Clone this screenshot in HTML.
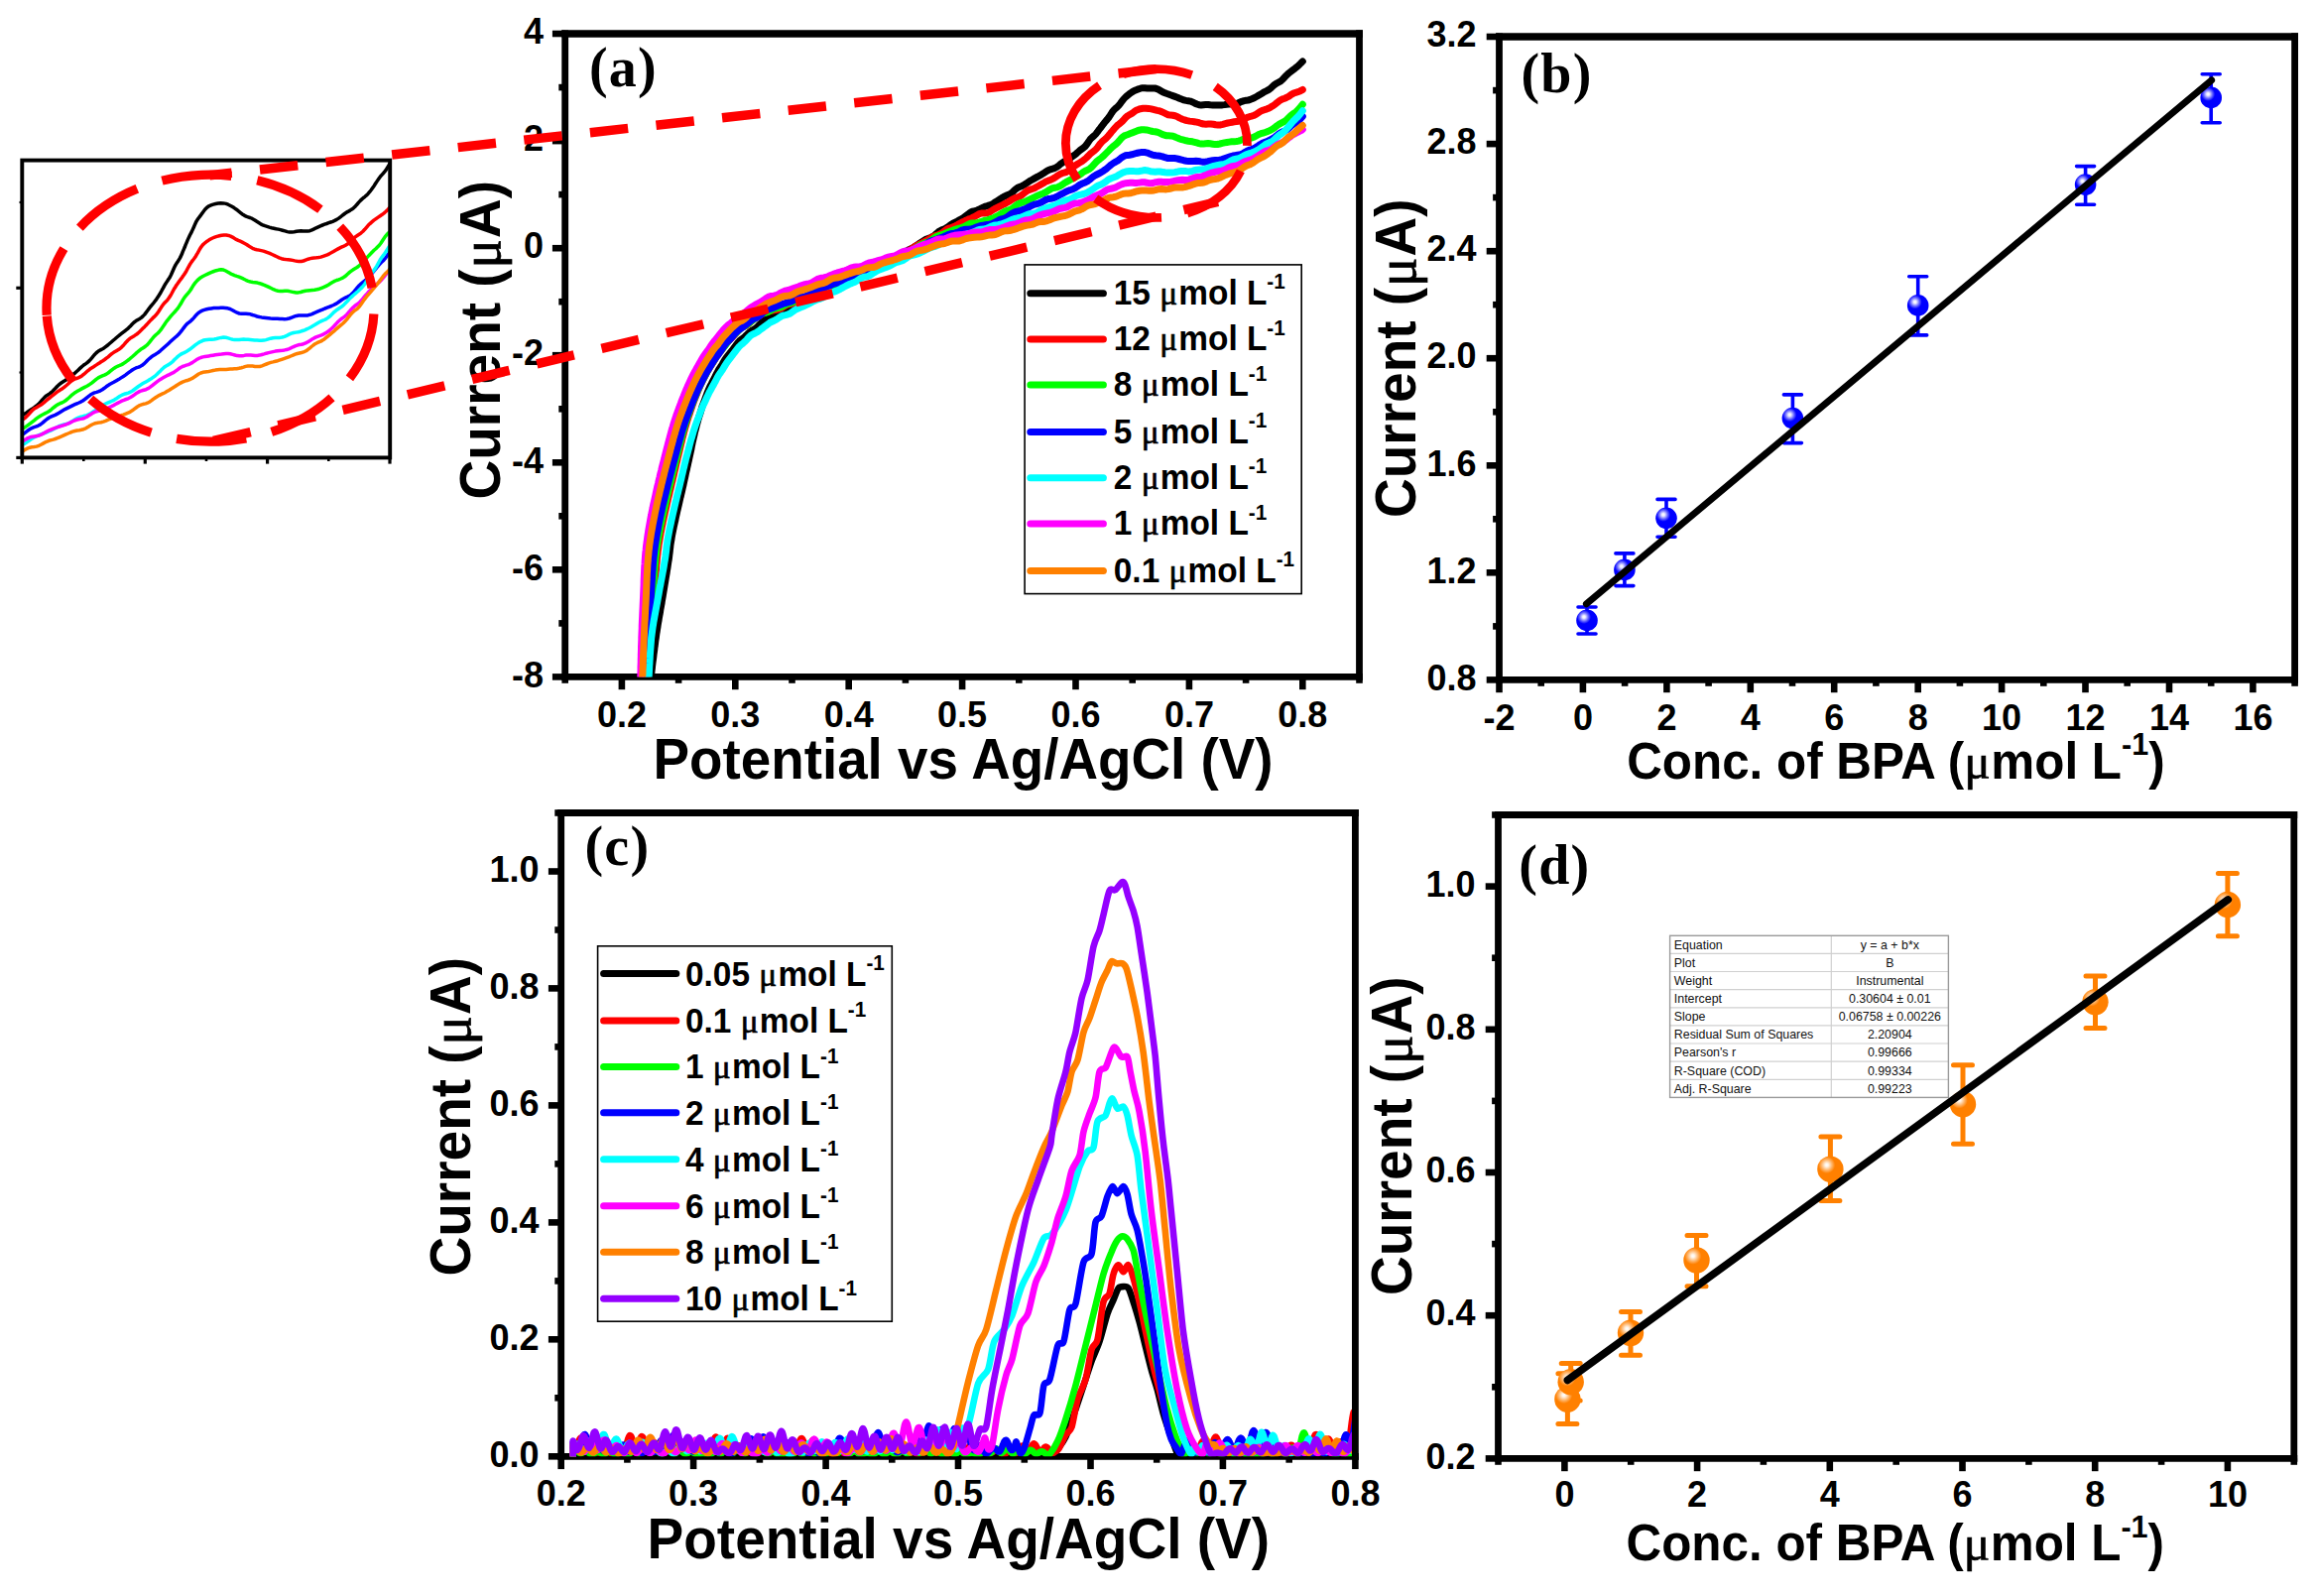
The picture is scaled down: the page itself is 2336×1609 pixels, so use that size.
<!DOCTYPE html>
<html lang="en"><head><meta charset="utf-8"><title>Figure</title>
<style>
html,body{margin:0;padding:0;background:#fff}
svg{display:block}
text{fill:#000}
.mu{font-family:"Liberation Serif",serif;font-weight:normal;stroke:#000;stroke-width:.7px}
.tb text{font-family:"Liberation Sans",sans-serif;font-size:12.4px;font-weight:normal;fill:#111}
</style></head><body>
<svg width="2336" height="1609" viewBox="0 0 2336 1609">
<rect width="2336" height="1609" fill="#fff"/>
<clipPath id="ca"><rect x="569.7" y="34" width="800.8" height="648.4"/></clipPath><g stroke="#000" stroke-width="6.8" fill="none" stroke-linecap="butt"><path d="M569.7 30.6V685.8"/><path d="M566.3 682.4H1373.9"/></g><g stroke="#000" stroke-width="6.6" fill="none"><path d="M626.9 682.4v12.8"/><path d="M741.3 682.4v12.8"/><path d="M855.7 682.4v12.8"/><path d="M970.1 682.4v12.8"/><path d="M1084.5 682.4v12.8"/><path d="M1198.9 682.4v12.8"/><path d="M1313.3 682.4v12.8"/><path d="M569.7 682.4v6.4"/><path d="M684.1 682.4v6.4"/><path d="M798.5 682.4v6.4"/><path d="M912.9 682.4v6.4"/><path d="M1027.3 682.4v6.4"/><path d="M1141.7 682.4v6.4"/><path d="M1256.1 682.4v6.4"/><path d="M1370.5 682.4v6.4"/><path d="M569.7 682.4h-12.8"/><path d="M569.7 574.3h-12.8"/><path d="M569.7 466.3h-12.8"/><path d="M569.7 358.2h-12.8"/><path d="M569.7 250.2h-12.8"/><path d="M569.7 142.1h-12.8"/><path d="M569.7 34h-12.8"/><path d="M569.7 628.4h-6.4"/><path d="M569.7 520.3h-6.4"/><path d="M569.7 412.3h-6.4"/><path d="M569.7 304.2h-6.4"/><path d="M569.7 196.1h-6.4"/><path d="M569.7 88.1h-6.4"/></g><g clip-path="url(#ca)" fill="none" stroke-width="7" stroke-linecap="round" stroke-linejoin="round"><path d="M656.3 682.4L656.5 681.1L656.7 679.6L656.9 677.8L657.1 675.9L657.4 673.8L657.6 671.5L657.9 669.1L658.2 666.6L658.6 664L658.9 661.4L659.2 658.7L659.6 656L659.9 653.3L660.3 650.7L660.6 648.1L660.9 645.6L661.3 643.2L661.6 640.9L661.9 638.6L662.3 636.4L662.6 634.1L663 631.9L663.3 629.6L663.7 627.4L664.1 625.3L664.4 623.1L664.8 620.9L665.2 618.8L665.6 616.6L665.9 614.4L666.3 612.3L666.7 610.1L667.1 608L667.4 605.8L667.8 603.6L668.2 601.3L668.6 598.9L669 596.5L669.4 594.1L669.8 591.6L670.2 589.2L670.6 586.8L671 584.4L671.4 582L671.8 579.6L672.2 577.3L672.5 575.1L672.9 572.9L673.2 570.8L673.5 568.7L673.8 566.8L674.3 563.9L674.6 561.3L674.9 558.9L675.2 556.6L675.4 554.4L675.7 552.3L675.9 550.1L676.2 548L676.6 545.7L677 543.3L677.3 541.3L677.7 539.2L678.1 537.1L678.5 535L679 532.8L679.4 530.7L679.9 528.5L680.4 526.3L680.9 524.1L681.3 521.9L681.8 519.7L682.3 517.4L682.8 515.3L683.3 513.2L683.8 511L684.3 508.9L684.8 506.7L685.3 504.5L685.8 502.2L686.4 500L686.9 497.8L687.4 495.6L687.9 493.4L688.4 491.3L688.9 489.1L689.4 486.8L689.9 484.5L690.4 482.2L690.9 479.9L691.4 477.6L691.9 475.3L692.4 473.1L692.9 470.8L693.4 468.6L693.9 466.3L694.4 464.1L694.9 461.8L695.4 459.5L695.9 457.2L696.4 455L696.9 452.7L697.3 450.3L697.8 448L698.3 445.6L698.8 443.4L699.3 441.3L699.8 439.2L700.2 437.2L700.7 435.2L701.4 432.6L702 430.1L702.6 427.7L703.3 425.3L703.9 423L704.6 420.9L705.2 418.8L705.9 416.8L706.5 414.7L707.3 412.2L708 409.8L708.8 407.6L709.6 405.5L710.4 403.5L711.1 401.4L711.9 399.3L712.7 397.1L713.6 394.8L714.5 392.7L715.4 390.6L716.3 388.7L717.3 386.9L718.2 385.1L719.2 383.2L720.3 381.2L721.3 379.1L722.4 376.9L723.5 374.8L724.6 372.8L725.8 371L727.1 369L728.3 367L729.6 364.7L730.9 362.4L732.3 360.4L733.7 358.7L735.1 357L736.5 355.2L737.9 353.5L739.4 351.5L741 349.5L742.5 347.4L744 345.4L745.5 343.7L747.1 342.3L748.6 341.2L750.6 339.7L752.5 337.9L754.5 335.9L756.6 334.2L758.8 332.8L760.6 331.8L762.6 330.4L764.6 328.4L766.7 326.4L768.7 324.5L770.6 323L772.2 321.7L774 320.4L774.8 319.7L776.4 319L780 317.6L781.4 316.9L783 315.9L784.7 314.7L786.6 313.6L788.6 312.8L790.7 312.2L793 311.6L795.2 310.6L797.6 309.2L799.9 307.9L802.3 306.9L804.7 306.3L807 305.6L809.3 304.8L811.5 303.9L813.7 302.9L815.8 301.7L817.9 300.4L820 299.1L822.1 298.1L824.2 297.6L826.3 297.1L828.4 296.4L830.5 295.3L832.6 294L834.7 292.8L836.8 292L838.9 291.4L841 290.7L843.1 289.7L845.2 288.6L847.3 287.3L849.4 286.2L851.5 285.3L853.6 284.4L855.7 283.7L857.8 283.2L859.9 282.7L862 282.1L864.2 281.1L866.3 279.7L868.4 278.4L870.5 277.4L872.6 276.8L874.7 276.2L876.8 275.4L878.9 274.1L881 272.7L883 271.6L885 270.6L886.9 269.8L888.9 268.9L890.9 267.9L892.9 266.8L894.8 265.5L896.8 264.1L898.8 262.5L900.8 260.8L902.7 259.6L904.7 258.7L906.7 258.1L908.7 257.2L910.6 255.8L912.6 254.2L914.6 252.7L916.6 251.6L918.6 250.7L920.5 249.8L922.5 248.6L924.5 247.2L926.5 245.8L928.5 244.5L930.5 243.2L932.4 242L934.4 241L936.4 240.2L938.4 239.4L940.4 238.5L942.4 237.1L944.3 235.3L946.3 233.6L948.3 232.4L950.3 231.5L952.4 230.7L954.4 229.6L956.6 228.1L958.7 226.5L960.8 225.2L963 224.1L965.1 223L967.2 221.8L969.2 220.7L971.3 219.5L973.2 218.1L975.2 216.6L977 215.2L978.8 214L980.4 213.2L982 212.8L985 212.1L987.4 211.1L989.6 209.9L991.6 208.9L993.5 208.1L995.4 207.6L997.5 206.9L1000 205.9L1001.7 204.9L1003.4 203.8L1005.2 202.7L1007.1 201.5L1009 200.3L1010.9 199L1012.9 197.9L1014.8 197.1L1016.8 196.3L1018.8 195.2L1020.8 193.7L1022.7 191.9L1024.6 190.3L1026.5 189L1028.5 188.2L1030.5 187.4L1032.5 186.4L1034.6 185L1036.6 183.6L1038.6 182.3L1040.6 181.2L1042.5 180.1L1044.3 179.1L1046.1 178.1L1047.7 177.3L1049.2 176.4L1051.9 174.8L1054.1 173.3L1055.9 172.2L1057.6 171.3L1059.7 170.6L1062.3 169.9L1063.9 169.3L1065.7 168.3L1067.5 166.9L1069.5 165.2L1071.5 163.8L1073.6 162.6L1075.7 161.5L1077.8 160.2L1079.8 158.8L1081.7 157.4L1083.6 156.1L1085.3 154.7L1087.2 153L1089 151.4L1090.8 150.1L1092.5 148.9L1094.1 147.5L1095.7 145.5L1097.2 143.3L1098.7 141.1L1100.2 139.3L1101.7 138L1103.3 136.6L1104.8 135.1L1106.3 133.2L1107.7 131.2L1109.2 129.3L1110.6 127.5L1112 125.6L1113.4 123.8L1114.8 122.1L1116.3 120.4L1117.8 118.5L1119.2 116.4L1120.7 114L1122.2 111.8L1123.7 110.2L1125.1 108.9L1126.5 107.8L1127.9 106.4L1129.7 104.1L1131.4 101.7L1133.1 99.6L1134.8 97.9L1136.4 96.5L1138 95.2L1139.4 94.1L1141.6 92.6L1143.5 91.5L1145.4 90.7L1147.6 89.9L1149.7 89.2L1151.9 88.7L1154.2 88.7L1156.6 88.9L1159.1 89L1161.1 89L1163 88.9L1165 89.1L1167.2 89.8L1169.5 91.1L1172.2 92.7L1174 93.5L1176 94.3L1178.1 95L1180.2 95.8L1182.5 96.6L1184.7 97.4L1187 98.2L1189.2 99.2L1191.4 100.1L1193.5 100.9L1195.8 101.4L1198 101.7L1200.2 102.1L1202.3 102.9L1204.4 104L1206.6 105L1208.8 105.7L1211 105.9L1213.2 105.7L1215.5 105.5L1217.9 105.6L1220.3 105.8L1222.7 105.9L1225.1 106L1227.5 106.1L1229.9 106.1L1232.2 105.9L1234.5 105.6L1236.8 105.2L1239 105L1241.2 105.1L1243.3 105.2L1245.5 105L1247.6 104.3L1249.8 103.3L1252 102.3L1254.2 101.6L1256.3 101.3L1258.4 101L1260.6 100.4L1262.7 99.5L1264.9 98.5L1267.1 97.3L1269.2 96L1271.4 94.7L1273.5 93.4L1275.5 92.3L1277.4 91.4L1279.2 90.4L1281.1 89L1282.9 87.3L1284.7 85.6L1286.5 84.3L1288.3 83.4L1290 82.5L1291.8 81.3L1293.5 79.7L1295.2 77.8L1297.2 75.8L1299.2 73.9L1301.3 72.2L1303.4 70.6L1305.5 69.1L1307.4 67.6L1309.2 66L1310.8 64.4L1312.2 63L1313.3 61.9" stroke="#000000"/><path d="M652.8 682.4L652.9 681.2L653 679.7L653.1 678.1L653.2 676.3L653.4 674.3L653.5 672.2L653.7 669.9L653.9 667.6L654 665.1L654.2 662.6L654.4 660.1L654.6 657.5L654.8 655L655 652.4L655.2 649.9L655.4 647.5L655.5 645.1L655.7 642.8L655.9 640.7L656.1 638.4L656.3 636.1L656.5 633.8L656.7 631.6L656.9 629.3L657.1 627.1L657.3 624.9L657.5 622.8L657.7 620.6L657.9 618.4L658.1 616.2L658.3 614.1L658.5 611.9L658.7 609.8L658.9 607.6L659.1 605.4L659.3 603.2L659.5 601L659.7 598.7L659.8 596.4L660 594.1L660.2 591.8L660.3 589.5L660.5 587.2L660.7 584.9L660.8 582.6L661 580.3L661.2 578.1L661.3 575.9L661.5 573.8L661.7 571.7L661.8 569.7L662 567.8L662.2 565.9L662.4 563.2L662.7 560.7L663 558.4L663.2 556.2L663.5 554.1L663.8 552L664 550L664.3 548L664.7 545.9L665 543.8L665.4 541.5L665.8 539.4L666.1 537.3L666.6 535.1L667 532.9L667.4 530.7L667.9 528.5L668.3 526.3L668.8 524.1L669.3 521.8L669.8 519.6L670.3 517.3L670.8 515L671.3 512.9L671.8 510.7L672.3 508.5L672.8 506.3L673.3 504.1L673.8 501.8L674.4 499.6L674.9 497.4L675.4 495.1L676 492.9L676.5 490.7L677 488.5L677.5 486.3L678.1 484L678.6 481.7L679.2 479.4L679.7 477.1L680.2 474.8L680.8 472.5L681.3 470.2L681.8 467.9L682.4 465.7L682.9 463.4L683.4 461.1L684 458.9L684.5 456.6L685.1 454.3L685.6 452L686.2 449.6L686.7 447.3L687.3 445L687.8 442.7L688.4 440.4L689 438.2L689.5 436L690.1 433.9L690.6 431.9L691.4 429.3L692.1 426.8L692.8 424.4L693.6 422.1L694.3 419.8L695.1 417.6L695.8 415.4L696.5 413.2L697.3 411L698.1 408.6L699 406.2L699.8 403.9L700.7 401.7L701.5 399.6L702.4 397.4L703.2 395.3L704.1 393.1L705.1 390.9L706 388.8L707 386.8L708 384.8L709 382.7L710.1 380.6L711.2 378.5L712.3 376.3L713.4 374.2L714.6 372.2L715.7 370.3L717 368.4L718.3 366.4L719.7 364.1L720.9 362.1L722.1 360.1L723.4 358.2L724.7 356.5L726 354.9L727.4 353.2L728.7 351.2L730 349.3L731.3 347.6L733 345.6L734.6 343.8L736.3 342.1L737.9 340.4L739.6 338.6L741.2 336.9L742.8 335L744.7 332.9L746.5 331.2L748.3 330L750.2 329.2L752.1 328.4L754.2 327L755.9 325.5L757.7 323.7L759.5 322.2L761.4 320.9L763.3 319.8L765.2 318.6L767 317.4L768.7 316.3L770.8 315.2L772.4 314.7L774 314.3L776.4 313.7L780 312.8L781.5 312.6L783.1 312.3L784.9 311.9L786.9 311.2L788.9 310L791 308.6L793.2 307.4L795.5 306.7L797.8 306.3L800.1 305.7L802.4 304.7L804.8 303.5L807.1 302.5L809.3 301.6L811.6 300.9L813.7 300.2L815.8 299.4L817.9 298.6L820 297.7L822.1 296.6L824.2 295.2L826.3 293.9L828.4 293L830.5 292.5L832.6 292.2L834.7 291.6L836.8 290.5L838.9 289.2L841 288L843.1 287L845.2 286.3L847.3 285.6L849.4 284.8L851.5 283.8L853.6 282.9L855.7 282L857.8 281.1L859.9 280.2L862 279.5L864.2 279.1L866.3 278.7L868.4 278.2L870.5 277.2L872.6 275.8L874.7 274.4L876.8 273.2L878.9 272.5L881 272L883 271.3L885 270.2L886.9 269L888.9 267.8L890.9 266.7L892.9 265.7L894.8 264.6L896.8 263.5L898.8 262.5L900.8 261.4L902.7 260.1L904.7 258.5L906.7 256.9L908.7 255.6L910.6 254.8L912.6 254.3L914.6 253.7L916.6 252.6L918.6 251.2L920.5 249.7L922.5 248.4L924.5 247.4L926.5 246.4L928.5 245.4L930.5 244.4L932.4 243.3L934.4 242.2L936.4 241.1L938.4 239.9L940.4 238.8L942.4 237.9L944.3 237.3L946.3 236.7L948.3 235.7L950.3 234.4L952.4 232.7L954.4 231.2L956.6 230.1L958.7 229.5L960.8 228.8L963 227.9L965.1 226.8L967.2 225.6L969.2 224.5L971.3 223.5L973.2 222.5L975.2 221.6L977 220.8L978.8 220.2L980.4 219.5L982 218.7L985 217L987.4 215.7L989.6 215L991.6 214.9L993.5 214.9L995.4 214.7L997.5 214L1000 212.4L1001.8 211.2L1003.7 210.1L1005.7 209.1L1007.7 208.1L1009.8 207.1L1011.9 206L1014 205L1016.2 203.8L1018.3 202.5L1020.4 201.1L1022.5 200L1024.6 199.2L1026.7 198.5L1028.8 197.6L1030.9 196.1L1033 194.4L1035.1 192.7L1037.2 191.6L1039.3 190.9L1041.4 190.2L1043.4 189.4L1045.4 188.3L1047.3 187.2L1049.2 186.1L1051.4 184.9L1053.4 183.7L1055.4 182.7L1057.4 181.9L1059.3 181.2L1061.1 180.4L1063 179.4L1064.9 178.1L1066.9 176.7L1068.9 175.5L1070.8 174.7L1072.7 174.2L1074.7 173.6L1076.7 172.5L1078.7 170.9L1080.6 169.3L1082.6 167.8L1084.6 166.5L1086.5 165.3L1088.4 164.1L1090.2 163L1092 161.8L1093.7 160.5L1095.4 159L1097.1 157.3L1098.7 155.6L1100.3 154.2L1101.9 153L1103.5 151.8L1105.1 150.3L1106.7 148.4L1108.2 146.3L1109.8 144.3L1111.3 142.7L1112.8 141.4L1114.3 140.1L1115.8 138.7L1117.3 137.1L1118.8 135.3L1120.2 133.5L1121.7 131.8L1123.2 130L1124.7 128.3L1126.3 126.6L1128.1 125.2L1129.9 123.8L1131.7 122.1L1133.5 120.1L1135.2 118.2L1136.9 116.8L1138.4 115.8L1139.8 115.1L1141.1 114.4L1143.7 112.4L1145.3 111.3L1147.6 110.4L1149.8 109.7L1152.4 109.3L1155.2 109.2L1158 109.4L1160.7 109.9L1162.8 110.4L1164.7 110.9L1166.7 111.4L1168.8 111.8L1171.1 112.6L1173.9 113.9L1175.8 114.8L1177.8 115.7L1180.1 116.1L1182.4 116.3L1184.8 116.8L1187.3 117.8L1189.7 119.1L1192.2 120.2L1194.5 121L1196.8 121.6L1199.3 122.1L1201.7 122.4L1204.1 122.7L1206.5 123.1L1208.9 123.7L1211.2 124.5L1213.5 125.1L1215.9 125.2L1218.1 125.1L1220.7 125L1223.2 125.3L1225.6 125.8L1228.1 126.1L1230.5 125.9L1232.9 125.3L1235.4 124.6L1237.8 124L1240 123.6L1242.2 123.2L1244.3 122.8L1246.5 122.5L1248.6 122.2L1250.8 121.6L1253 120.7L1255.2 119.5L1257.5 118.4L1259.6 117.7L1261.7 117.2L1263.9 116.5L1266.2 115.4L1268.4 113.9L1270.6 112.4L1272.7 111.4L1274.8 110.7L1276.9 110.1L1278.8 109.3L1281.1 108.1L1283.2 106.8L1285.3 105.4L1287.2 103.8L1289.2 102.2L1291.1 100.9L1293.1 99.9L1295.2 99.2L1297.3 98.3L1299.5 97.1L1301.8 95.4L1304.1 94.1L1306.4 93.3L1308.5 92.7L1310.4 92L1312 91.2L1313.3 90.4" stroke="#ff0000"/><path d="M651.8 682.4L651.9 681.2L652 679.7L652.1 678.1L652.3 676.3L652.4 674.3L652.6 672.2L652.7 669.9L652.9 667.5L653.1 665.1L653.3 662.6L653.4 660.1L653.6 657.5L653.8 654.9L654 652.4L654.2 649.9L654.4 647.4L654.6 645.1L654.7 642.8L654.9 640.6L655.1 638.3L655.2 636L655.4 633.8L655.6 631.5L655.8 629.3L655.9 627.1L656.1 624.9L656.3 622.7L656.4 620.5L656.6 618.4L656.8 616.2L656.9 614L657.1 611.9L657.3 609.7L657.5 607.5L657.6 605.3L657.8 603.1L658 600.9L658.1 598.6L658.3 596.4L658.5 594.1L658.6 591.7L658.8 589.4L659 587.1L659.1 584.8L659.3 582.5L659.5 580.2L659.6 578L659.8 575.8L660 573.7L660.1 571.6L660.3 569.6L660.5 567.6L660.7 565.8L660.9 563.1L661.2 560.6L661.5 558.2L661.7 556L662 553.9L662.3 551.8L662.6 549.8L662.9 547.8L663.2 545.7L663.5 543.6L663.9 541.3L664.3 539.2L664.7 537L665.1 534.8L665.5 532.7L665.9 530.5L666.4 528.3L666.9 526L667.3 523.8L667.8 521.5L668.3 519.3L668.8 517L669.3 514.7L669.8 512.5L670.3 510.4L670.8 508.2L671.3 506L671.8 503.7L672.3 501.5L672.9 499.3L673.4 497L673.9 494.8L674.5 492.6L675 490.3L675.5 488.1L676.1 486L676.6 483.6L677.2 481.3L677.7 479L678.3 476.7L678.9 474.4L679.4 472.2L680 469.9L680.6 467.6L681.1 465.4L681.7 463.1L682.3 460.8L682.8 458.6L683.4 456.3L684 454L684.5 451.7L685.1 449.3L685.7 447L686.3 444.7L686.9 442.4L687.4 440.1L688 437.9L688.6 435.8L689.2 433.7L689.8 431.6L690.5 429L691.3 426.6L692.1 424.1L692.8 421.8L693.6 419.5L694.4 417.3L695.2 415.1L695.9 413L696.7 410.9L697.6 408.4L698.5 406.1L699.4 403.8L700.3 401.6L701.2 399.5L702.1 397.4L703 395.2L703.9 393.1L704.9 390.8L705.9 388.6L706.9 386.5L707.8 384.4L708.9 382.5L709.9 380.6L711 378.7L712.1 376.6L713.3 374.4L714.4 372.1L715.6 370L716.9 368.1L718.2 366.1L719.6 363.9L720.8 362L722 360.1L723.3 358.2L724.6 356.4L725.9 354.7L727.3 353L728.6 351.4L730 349.8L731.3 348.2L732.9 346L734.6 343.6L736.2 341.3L737.8 339.5L739.5 338.1L741.1 336.8L742.7 335.3L744.6 333.4L746.4 331.6L748.2 330.2L750.1 329.1L752 328.1L754.1 326.8L755.8 325.4L757.6 323.9L759.5 322.3L761.4 320.7L763.3 319.1L765.2 317.8L767 316.8L768.6 316.2L770.8 315.7L772.3 315.2L774 314.7L776.3 313.5L780 311.5L781.5 311L783.1 310.6L784.9 310.3L786.9 309.7L788.9 308.8L791 307.7L793.2 306.6L795.5 305.8L797.8 305.1L800.1 304.4L802.4 303.7L804.8 303L807.1 302.1L809.3 300.9L811.6 299.5L813.7 298.3L815.8 297.5L817.9 297.1L820 296.7L822.1 296.1L824.2 295L826.3 293.7L828.4 292.7L830.5 291.9L832.6 291.2L834.7 290.5L836.8 289.6L838.9 288.6L841 287.5L843.1 286.5L845.2 285.5L847.3 284.5L849.4 283.8L851.5 283.4L853.6 283.1L855.7 282.6L857.8 281.6L859.9 280.3L862 279.1L864.2 278.2L866.3 277.6L868.4 277.2L870.5 276.6L872.6 275.7L874.7 274.6L876.8 273.6L878.9 272.8L881 271.9L883 271.1L885 270.3L886.9 269.6L888.9 268.7L890.9 267.6L892.9 266.1L894.8 264.6L896.8 263.2L898.8 262.4L900.8 261.8L902.7 261.3L904.7 260.4L906.7 259.1L908.7 257.6L910.6 256.4L912.6 255.4L914.6 254.5L916.6 253.6L918.6 252.5L920.5 251.4L922.5 250.3L924.5 249.1L926.5 247.8L928.5 246.6L930.5 245.7L932.4 245L934.4 244.5L936.4 243.7L938.4 242.5L940.4 241L942.4 239.5L944.3 238.4L946.3 237.7L948.3 237.1L950.4 236.4L952.6 235.5L954.8 234.5L957.1 233.6L959.4 232.7L961.6 231.9L963.9 231.1L966.1 230.5L968.3 229.9L970.5 229.2L972.6 228.3L974.7 227.1L976.7 226L978.5 225.3L980.3 225L982 224.9L985 224.7L987.4 224.1L989.6 223.4L991.6 222.7L993.5 222.2L995.4 221.8L997.5 221.2L1000 220.4L1001.8 219.6L1003.7 218.7L1005.7 217.7L1007.7 216.6L1009.8 215.2L1011.9 213.9L1014 212.8L1016.2 212.1L1018.3 211.4L1020.4 210.2L1022.5 208.6L1024.6 206.9L1026.7 205.6L1028.7 204.7L1030.8 204.1L1032.8 203.5L1034.9 202.6L1036.9 201.6L1039 200.6L1041 199.7L1043.1 198.7L1045.1 197.6L1047.2 196.7L1049.2 195.9L1051.3 195.2L1053.3 194.3L1055.4 193.1L1057.4 191.7L1059.5 190.4L1061.5 189.6L1063.6 189.2L1065.6 188.9L1067.7 188.1L1069.7 187L1071.8 185.6L1073.8 184.2L1075.7 183.1L1077.6 182.1L1079.6 181L1081.5 180L1083.5 179L1085.4 178L1087.4 176.9L1089.3 175.6L1091.2 174.2L1093.1 172.9L1094.9 172L1096.7 171.2L1098.4 170.3L1100.2 168.8L1102 166.8L1103.8 164.8L1105.5 163L1107.1 161.6L1108.8 160.4L1110.4 159.1L1112 157.7L1113.5 156.2L1115.1 154.6L1116.6 153.1L1118.1 151.6L1119.9 149.7L1121.7 148L1123.5 146.6L1125.2 145.2L1126.9 143.6L1128.6 141.7L1130.2 139.8L1131.7 138.3L1133.1 137.2L1134.5 136.5L1137.4 135.5L1139.7 134.6L1141.9 133.7L1144.3 132.7L1146.4 131.9L1148.6 131.2L1150.8 130.8L1153.2 130.7L1155.8 130.9L1157.9 131.4L1160 132L1162.2 132.5L1164.6 132.8L1167 133.3L1169.6 134.3L1172.2 135.6L1174.2 136.3L1176.2 136.7L1178.3 136.8L1180.5 136.9L1182.7 137.3L1184.9 138.1L1187.1 139.1L1189.3 140L1191.4 140.7L1193.5 141.2L1195.8 141.8L1198 142.2L1200.2 142.5L1202.3 142.8L1204.4 143.3L1206.6 143.9L1208.8 144.6L1211 145.1L1213.2 145.1L1215.5 144.7L1217.8 144.5L1220.2 144.8L1222.6 145.2L1225 145.6L1227.4 145.5L1229.8 145L1232.2 144.4L1234.5 143.9L1236.9 143.5L1239.3 143.1L1241.7 142.8L1244.1 142.7L1246.5 142.5L1248.9 142.1L1251.2 141.3L1253.6 140.4L1255.9 139.7L1258.1 139.4L1260.3 139.3L1262.5 138.8L1264.7 137.9L1266.9 136.7L1269 135.5L1271.2 134.7L1273.4 134.1L1275.5 133.5L1277.5 132.8L1279.6 131.9L1281.7 130.9L1283.7 129.6L1285.8 128.1L1287.8 126.5L1289.8 125.1L1291.7 124.1L1293.5 123.2L1295.2 122.3L1297.5 120.5L1299.7 118.2L1301.7 116.2L1303.6 114.8L1305.4 113.7L1307 112.5L1308.3 111.1L1310.8 108.4L1312.3 106.5L1313.3 105.3" stroke="#00ff00"/><path d="M650.8 682.4L650.9 681.2L651 679.7L651.1 678.1L651.3 676.3L651.4 674.3L651.6 672.1L651.7 669.9L651.9 667.5L652.1 665.1L652.3 662.6L652.5 660L652.7 657.5L652.9 654.9L653.1 652.4L653.2 649.9L653.4 647.4L653.6 645L653.7 642.8L653.9 640.6L654.1 638.3L654.2 636L654.4 633.7L654.5 631.5L654.7 629.2L654.8 627L654.9 624.8L655.1 622.6L655.2 620.5L655.3 618.3L655.5 616.1L655.6 614L655.7 611.8L655.9 609.6L656 607.4L656.2 605.3L656.3 603.1L656.4 600.8L656.6 598.6L656.7 596.3L656.8 594L657 591.6L657.1 589.3L657.2 587L657.4 584.7L657.5 582.4L657.6 580.1L657.8 577.9L657.9 575.7L658.1 573.6L658.2 571.5L658.4 569.4L658.5 567.5L658.7 565.6L658.9 562.9L659.2 560.4L659.5 558L659.7 555.8L660 553.7L660.3 551.6L660.6 549.6L660.9 547.5L661.2 545.4L661.6 543.3L661.9 541L662.3 538.8L662.7 536.7L663.1 534.5L663.5 532.3L663.9 530.1L664.3 527.9L664.8 525.6L665.2 523.4L665.7 521.1L666.2 518.8L666.7 516.5L667.2 514.2L667.6 512.1L668.1 509.9L668.7 507.7L669.2 505.5L669.7 503.3L670.3 501L670.8 498.8L671.4 496.5L671.9 494.3L672.5 492.1L673 489.9L673.6 487.7L674.1 485.5L674.7 483.2L675.3 480.9L675.9 478.5L676.5 476.3L677.1 474L677.7 471.7L678.3 469.4L678.9 467.2L679.5 464.9L680.1 462.7L680.7 460.4L681.3 458.2L681.9 455.9L682.5 453.6L683.1 451.3L683.8 449L684.4 446.6L685 444.3L685.7 442.1L686.3 439.8L686.9 437.6L687.5 435.5L688.2 433.4L688.8 431.3L689.6 429L690.3 426.8L691 424.6L691.8 422.5L692.5 420.4L693.3 418.4L694 416.5L694.8 414.5L695.5 412.5L696.3 410.6L697.2 408.3L698.1 406L699 403.7L700 401.4L700.9 399.2L701.8 397.1L702.7 394.9L703.6 392.9L704.6 390.7L705.7 388.7L706.7 386.7L707.7 384.7L708.7 382.6L709.8 380.4L710.9 378.2L712 376.2L713.2 374.2L714.4 372.3L715.6 370.2L716.9 368.1L718.2 365.9L719.6 363.7L720.8 362L722 360.3L723.3 358.5L724.6 356.8L725.9 355L727.2 353.1L728.6 351.1L729.9 349L731.2 347.1L732.8 345.2L734.5 343.7L736.1 342.1L737.7 340.3L739.4 338.2L741 336.3L742.6 334.7L744.5 333.1L746.3 331.7L748.1 330.4L749.9 329L751.9 327.6L753.9 326L755.6 324.6L757.4 323.1L759.3 321.8L761.2 320.9L763.1 320.1L765 319L766.8 317.6L768.5 316L770.6 314.1L772.2 312.9L773.9 312.1L776.3 311.4L780 310.2L781.5 309.5L783.2 308.8L784.9 308.1L786.9 307.3L788.9 306.6L791 305.8L793.2 305.1L795.5 304.5L797.8 303.8L800.1 302.8L802.4 301.5L804.8 300.1L807.1 299.2L809.3 298.9L811.6 298.7L813.7 298.2L815.8 297.2L817.9 296L820 294.9L822.1 294L824.2 293.2L826.3 292.4L828.4 291.6L830.5 290.8L832.6 289.9L834.7 289L836.8 288L838.9 286.9L841 286.1L843.1 285.6L845.2 285.3L847.3 284.8L849.4 283.8L851.5 282.5L853.6 281.2L855.7 280.2L857.8 279.6L859.9 279.2L862 278.8L864.2 278.1L866.3 277.3L868.4 276.5L870.5 275.7L872.6 274.8L874.7 274L876.8 273.2L878.9 272.5L881 271.9L883.1 270.9L885.2 269.6L887.3 268.2L889.4 267L891.5 266.2L893.6 265.8L895.7 265.3L897.8 264.4L899.9 263.1L902 261.7L904.1 260.4L906.2 259.3L908.3 258.3L910.4 257.3L912.5 256.4L914.6 255.6L916.7 254.6L918.8 253.5L920.9 252.1L923 251L925.1 250.2L927.2 249.7L929.3 248.9L931.4 247.7L933.6 246.1L935.7 244.5L937.8 243.4L939.9 242.6L942 242L944.1 241.4L946.2 240.6L948.3 239.8L950.6 238.9L952.9 237.9L955.3 236.9L957.7 236L960.1 235.5L962.5 235.1L964.9 234.4L967.3 233.4L969.7 232.2L971.9 231.5L974.1 231.2L976.3 231.2L978.3 231.1L980.2 230.7L982 230L985 228.8L987.4 228L989.6 227.5L991.6 227.1L993.5 226.8L995.4 226.5L997.5 226.2L1000 225.6L1001.8 224.8L1003.7 223.8L1005.7 222.7L1007.7 221.6L1009.8 220.9L1011.9 220.4L1014 219.6L1016.2 218.2L1018.3 216.6L1020.4 215.1L1022.5 214.1L1024.6 213.4L1026.7 212.9L1028.7 212.3L1030.8 211.6L1032.8 210.9L1034.9 210L1036.9 209L1039 207.9L1041 206.9L1043.1 206.1L1045.1 205.6L1047.2 205.1L1049.2 204.3L1051.3 203.2L1053.3 202L1055.4 201L1057.4 200.4L1059.5 200.2L1061.5 199.8L1063.6 199.2L1065.6 198.2L1067.7 197L1069.7 195.9L1071.8 194.8L1073.8 193.7L1075.9 192.8L1078 191.9L1080.1 191.2L1082.2 190.4L1084.3 189.3L1086.4 187.9L1088.5 186.4L1090.6 185.3L1092.6 184.5L1094.6 183.7L1096.5 182.7L1098.4 181.3L1100.6 179.4L1102.7 177.7L1104.8 176.5L1106.8 175.5L1108.8 174.5L1110.7 173.4L1112.6 172.2L1114.4 170.9L1116.3 169.4L1118.1 167.9L1120.3 166L1122.4 164.5L1124.4 163.4L1126.4 162.3L1128.4 160.9L1130.4 159.2L1132.4 157.8L1134.5 156.8L1136.7 156.4L1138.8 156.2L1141.1 155.8L1143.3 155.2L1145.6 154.5L1147.9 154L1150.2 153.6L1152.5 153.5L1154.6 153.6L1156.8 154.1L1158.9 154.9L1161.1 155.8L1163.3 156.5L1165.5 156.8L1167.7 157L1169.9 157.3L1172.2 157.9L1174.5 158.7L1176.9 159.4L1179.3 159.6L1181.7 159.5L1184.1 159.5L1186.5 159.9L1188.9 160.5L1191.2 161.1L1193.5 161.7L1196.1 162.2L1198.5 162.5L1201 162.6L1203.4 162.5L1205.8 162.3L1208.2 162.4L1210.7 162.9L1213.2 163.3L1215.5 163.2L1217.8 162.7L1220.2 162.1L1222.6 161.7L1225 161.6L1227.4 161.6L1229.8 161.3L1232.2 160.6L1234.5 159.8L1236.7 159L1238.8 158.3L1241 157.6L1243.1 157L1245.3 156.6L1247.5 156.3L1249.6 156L1251.7 155.4L1253.8 154.3L1255.9 153L1257.9 151.9L1259.9 151.1L1261.9 150.6L1263.9 149.9L1265.8 148.8L1267.8 147.5L1269.7 146.1L1271.6 145L1273.6 144L1275.5 143.2L1277.5 142.4L1279.6 141.5L1281.7 140.5L1283.7 139.3L1285.8 137.8L1287.8 136.2L1289.8 134.6L1291.7 133.4L1293.5 132.6L1295.2 132L1297.5 130.8L1299.7 129L1301.7 127L1303.6 125.5L1305.4 124.3L1307 123.3L1308.3 122.4L1310.8 120.2L1312.3 118.5L1313.3 117.4" stroke="#0000ff"/><path d="M654.1 682.4L654.2 681.1L654.3 679.6L654.4 677.8L654.5 675.9L654.6 673.7L654.7 671.4L654.9 669L655 666.5L655.2 663.9L655.3 661.2L655.5 658.5L655.7 655.8L655.9 653.2L656.1 650.5L656.3 647.9L656.5 645.4L656.7 643L657 640.7L657.3 638.4L657.6 636.1L657.9 633.9L658.2 631.6L658.6 629.4L658.9 627.2L659.3 625L659.7 622.9L660.1 620.7L660.5 618.5L660.9 616.4L661.3 614.2L661.7 612.1L662.1 609.9L662.5 607.8L662.9 605.6L663.3 603.4L663.7 601.2L664.1 599L664.5 596.7L664.9 594.4L665.3 592.1L665.8 589.8L666.2 587.5L666.6 585.2L667.1 583L667.5 580.7L667.9 578.5L668.3 576.4L668.7 574.3L669.1 572.2L669.4 570.3L669.7 568.3L670 566.5L670.5 563.6L670.9 561L671.2 558.5L671.5 556.2L671.8 554L672 551.8L672.3 549.6L672.6 547.4L672.9 545.2L673.3 542.8L673.7 540.7L674.1 538.6L674.5 536.4L674.9 534.3L675.3 532.2L675.8 530L676.3 527.8L676.7 525.6L677.2 523.4L677.7 521.2L678.2 518.9L678.7 516.7L679.2 514.6L679.7 512.4L680.2 510.2L680.7 508.1L681.2 505.9L681.8 503.6L682.3 501.4L682.8 499.2L683.4 497L683.9 494.8L684.4 492.6L685 490.4L685.5 488.3L686 486L686.6 483.7L687.1 481.4L687.6 479.1L688.2 476.8L688.7 474.5L689.2 472.3L689.8 470L690.3 467.7L690.9 465.5L691.4 463.2L692 461L692.6 458.8L693.2 456.5L693.8 454.3L694.4 452L695 449.6L695.6 447.3L696.2 445.1L696.8 442.9L697.5 440.8L698.1 438.7L698.7 436.6L699.3 434.6L700.1 432.1L700.9 429.6L701.7 427.3L702.5 425.1L703.3 423L704.1 421L704.9 418.9L705.7 416.7L706.5 414.5L707.5 412.1L708.4 409.9L709.3 407.9L710.3 405.9L711.3 403.8L712.2 401.7L713.1 399.7L714.1 397.7L715.1 395.6L716.2 393.7L717.2 391.8L718.2 389.9L719.3 388.1L720.3 386.2L721.4 384.2L722.5 382L723.6 379.9L724.7 378L725.9 376.4L727 374.8L728.3 373L729.6 370.8L730.9 368.6L732.2 366.5L733.6 364.5L735 362.6L736.4 360.8L737.9 358.9L739.3 357L740.6 355.3L742.1 353.3L743.6 351.4L745.1 349.6L746.6 348.1L748 346.9L749.5 345.7L751 344.4L753 342.3L754.9 340.1L756.8 338.3L758.9 337L761.2 336L763 335L765.1 333.6L767.2 331.9L769.4 330.3L771.4 328.8L773.3 327.5L774.8 326.4L776.1 325.3L780 323.5L781.2 322.9L782.7 322.1L784.2 321.1L786 319.9L787.8 318.8L789.8 318L791.9 317.6L794 317.1L796.2 316.2L798.4 314.8L800.7 313.1L802.9 311.8L805.2 310.8L807.4 309.8L809.6 308.9L811.7 308L813.7 307.1L815.8 306.1L817.9 305L820 303.8L822.1 302.8L824.2 302L826.3 301.4L828.4 300.6L830.5 299.4L832.6 297.8L834.7 296.3L836.8 295.2L838.9 294.6L841 294.1L843.1 293.4L845.2 292.4L847.3 291.3L849.4 290.1L851.5 289L853.6 287.9L855.7 286.8L857.8 285.9L859.9 285.1L862 284.2L864.2 283L866.3 281.6L868.4 280.3L870.5 279.4L872.6 279L874.7 278.6L876.8 277.7L878.9 276.5L881 275L883.1 273.7L885.2 272.6L887.3 271.8L889.4 271L891.5 270.1L893.6 269.4L895.7 268.6L897.8 267.6L899.9 266.5L902 265.3L904.1 264.4L906.2 263.8L908.3 263.2L910.4 262.4L912.5 261.1L914.6 259.6L916.7 258.3L918.8 257.5L920.9 257.1L923 256.6L925.1 256L927.2 255.1L929.3 254L931.4 253L933.6 251.9L935.7 250.9L937.8 249.9L939.9 249.2L942 248.6L944.1 247.9L946.2 247L948.3 245.8L950.4 244.7L952.6 243.9L954.8 243.5L957.1 243.2L959.4 242.5L961.6 241.3L963.9 239.9L966.1 238.7L968.3 237.9L970.5 237.2L972.6 236.6L974.7 236L976.7 235.5L978.5 235.1L980.3 234.5L982 233.7L985 232.4L987.4 231.5L989.6 231.2L991.6 231.1L993.5 230.8L995.4 230.2L997.5 229.2L1000 228L1002 227.3L1004.1 226.9L1006.2 226.7L1008.5 226.3L1010.7 225.6L1013 224.7L1015.4 223.8L1017.7 222.7L1020 221.6L1022.3 220.7L1024.6 220.1L1026.8 219.7L1029.1 219.3L1031.3 218.5L1033.5 217.4L1035.8 216.3L1038 215.7L1040.3 215.5L1042.5 215.2L1044.7 214.5L1047 213.3L1049.2 212.1L1051.3 211L1053.3 210.2L1055.4 209.4L1057.4 208.8L1059.5 208.2L1061.5 207.6L1063.6 207L1065.6 206.2L1067.7 205.1L1069.7 203.9L1071.8 202.8L1073.8 202.2L1075.9 201.7L1078 201.2L1080.1 200.2L1082.2 199L1084.3 197.8L1086.4 197L1088.5 196.4L1090.6 196L1092.6 195.5L1094.6 194.8L1096.5 193.9L1098.4 192.9L1100.6 191.5L1102.7 190L1104.8 188.5L1106.8 187.3L1108.8 186.5L1110.7 185.7L1112.6 184.7L1114.4 183.4L1116.3 181.9L1118.1 180.7L1120.3 179.7L1122.4 179L1124.4 178.3L1126.4 177.3L1128.4 176.1L1130.4 174.9L1132.4 173.9L1134.5 173.2L1136.7 172.7L1138.8 172.5L1141.1 172.4L1143.3 172.6L1145.6 172.7L1147.9 172.7L1150.2 172.3L1152.5 171.8L1154.9 171.6L1157.3 172L1159.7 172.7L1162.2 173.1L1164.6 173.2L1167.1 173L1169.7 173.1L1172.2 173.4L1174.5 173.8L1176.9 174.1L1179.3 174.1L1181.7 174L1184.1 173.7L1186.5 173.3L1188.9 172.7L1191.2 172.4L1193.5 172.4L1195.8 172.6L1198 172.9L1200.2 172.8L1202.3 172.3L1204.4 171.7L1206.6 171.2L1208.8 171L1211 171L1213.2 170.8L1215.3 170.3L1217.4 169.6L1219.5 168.8L1221.6 168.1L1223.8 167.4L1225.9 166.9L1228.1 166.4L1230.3 166L1232.4 165.8L1234.5 165.3L1236.7 164.5L1238.8 163.4L1241 162.1L1243.1 161L1245.3 160.5L1247.5 160L1249.6 159.4L1251.7 158.4L1253.8 157.2L1255.9 156.1L1257.9 155.3L1259.9 154.6L1261.9 154L1263.9 153.2L1265.8 152.4L1267.8 151.4L1269.7 150.2L1271.6 148.9L1273.6 147.4L1275.5 145.9L1277.4 144.8L1279.2 144.1L1281.1 143.3L1283 142.2L1284.9 140.6L1286.7 138.8L1288.6 137.1L1290.3 135.8L1292 134.7L1293.7 133.5L1295.2 132.1L1297.2 129.9L1299.2 127.7L1301 125.5L1302.7 123.5L1304.3 121.7L1305.8 120.2L1307.1 118.9L1308.3 117.8L1310.8 115L1312.3 113L1313.3 111.8" stroke="#00ffff"/><path d="M645.8 682.4L645.8 681.2L645.9 679.7L645.9 678.1L646 676.2L646 674.2L646 672.1L646.1 669.8L646.2 667.4L646.2 665L646.3 662.4L646.3 659.9L646.4 657.3L646.5 654.7L646.5 652.1L646.6 649.6L646.7 647.1L646.8 644.7L646.8 642.5L646.9 640.3L647 638L647.1 635.7L647.2 633.4L647.2 631.1L647.3 628.9L647.4 626.7L647.5 624.5L647.6 622.3L647.7 620.1L647.8 617.9L647.9 615.8L648 613.6L648.1 611.4L648.2 609.2L648.3 607.1L648.4 604.9L648.5 602.7L648.6 600.4L648.7 598.2L648.8 595.9L648.9 593.5L649 591.2L649.1 588.9L649.1 586.5L649.2 584.2L649.3 581.9L649.4 579.6L649.5 577.4L649.6 575.2L649.7 573L649.8 570.9L650 568.8L650.1 566.9L650.2 565L650.4 562.2L650.6 559.6L650.8 557.2L651.1 554.9L651.3 552.7L651.5 550.6L651.8 548.5L652.1 546.3L652.4 544.2L652.7 541.9L653 539.6L653.4 537.4L653.7 535.2L654.1 533L654.5 530.7L654.9 528.5L655.3 526.2L655.7 523.9L656.1 521.6L656.6 519.3L657 517L657.5 514.6L658 512.3L658.4 510.1L658.9 507.9L659.4 505.7L659.9 503.4L660.4 501.2L660.9 498.9L661.4 496.6L661.9 494.3L662.4 492.1L662.9 489.8L663.5 487.6L664 485.3L664.5 483.1L665.1 480.8L665.6 478.4L666.2 476.1L666.8 473.8L667.3 471.5L667.9 469.2L668.5 466.9L669.1 464.6L669.7 462.4L670.2 460.1L670.8 457.8L671.4 455.5L672 453.2L672.6 450.9L673.2 448.5L673.8 446.2L674.5 443.8L675.1 441.5L675.7 439.2L676.3 436.9L676.9 434.6L677.5 432.4L678.2 430.3L678.8 428.2L679.5 425.8L680.3 423.5L681 421.2L681.8 419.1L682.5 416.9L683.3 414.8L684 412.8L684.8 410.8L685.5 408.8L686.3 406.8L687.2 404.3L688.1 401.9L689.1 399.6L690 397.3L690.9 395L691.8 392.8L692.8 390.6L693.7 388.5L694.8 386.1L695.8 383.9L696.8 381.7L697.9 379.5L699 377.4L700.1 375.3L701.3 373.2L702.3 371.3L703.4 369.4L704.5 367.5L705.6 365.6L706.7 363.6L707.9 361.5L709.1 359.5L710.5 357.5L711.7 355.8L712.9 354.2L714.3 352.4L715.6 350.4L717 348.2L718.4 346.1L719.8 344.3L721.2 342.6L722.6 340.9L724.2 338.9L725.7 337L727.3 335.1L728.8 333.2L730.4 331.4L732 329.7L733.5 328.3L735.1 327L736.8 325.7L738.5 324.3L740.2 322.7L742 320.9L743.7 319.3L745.6 318L747.5 317L749.2 316.1L751.1 314.9L752.9 313.4L754.9 311.8L756.8 310.3L758.8 309L760.8 307.8L762.8 306.6L764.8 305.5L766.6 304.5L768.4 303.4L770.3 302.2L772.3 300.8L774.5 299.4L777.1 298.5L780 298.1L781.7 297.8L783.4 297.3L785.3 296.3L787.3 295.1L789.3 294.1L791.4 293.2L793.6 292.7L795.8 292.1L798.1 291.4L800.3 290.6L802.6 289.8L804.9 289L807.2 288.1L809.4 287.3L811.6 286.6L813.7 286.2L815.8 285.9L817.9 285.2L820 284L822.1 282.7L824.2 281.4L826.3 280.7L828.4 280.3L830.5 280L832.6 279.5L834.7 278.7L836.8 277.8L838.9 276.9L841 276.1L843.1 275.4L845.2 274.6L847.3 274L849.5 273.4L851.8 272.8L854 272L856.3 271L858.5 269.9L860.8 269.3L863 269.1L865.3 269.1L867.5 268.8L869.8 268L872 266.8L874.3 265.7L876.5 264.9L878.8 264.4L881 263.9L883.1 263.3L885.2 262.7L887.3 262.1L889.4 261.5L891.5 260.7L893.6 259.8L895.7 259.1L897.8 258.6L899.9 258.3L902 257.9L904.1 257L906.2 255.8L908.3 254.6L910.4 253.6L912.5 253.1L914.6 252.9L916.7 252.6L918.8 252L920.9 251.1L923 250.2L925.1 249.2L927.2 248.3L929.3 247.4L931.4 246.5L933.6 245.8L935.7 245.3L937.8 244.6L939.9 243.7L942 242.6L944.1 241.7L946.2 241.1L948.3 241L950.6 241L952.9 240.6L955.3 239.8L957.7 238.7L960.1 237.9L962.5 237.3L964.9 237L967.3 236.8L969.7 236.6L971.9 236.3L974.1 236.1L976.3 235.7L978.3 235.1L980.2 234.6L982 234.3L985 234.1L987.4 234.1L989.6 233.9L991.6 233.4L993.5 232.7L995.4 232.1L997.5 231.6L1000 231.5L1002 231.5L1004.1 231.4L1006.2 230.9L1008.5 230.3L1010.7 229.5L1013 228.7L1015.4 227.8L1017.7 227L1020 226.4L1022.3 226L1024.6 225.6L1026.8 224.9L1029.1 223.8L1031.3 222.8L1033.5 222L1035.8 221.7L1038 221.5L1040.3 220.9L1042.5 219.9L1044.7 218.6L1047 217.5L1049.2 216.6L1051.4 216L1053.7 215.4L1055.9 214.9L1058.2 214.4L1060.4 213.8L1062.6 213L1064.9 212L1067.1 210.9L1069.3 210.2L1071.6 209.8L1073.8 209.4L1076.1 208.6L1078.3 207.4L1080.6 206.2L1083 205.3L1085.3 204.9L1087.6 204.7L1089.8 204.3L1092.1 203.6L1094.2 202.7L1096.4 201.8L1098.4 200.7L1100.6 199.5L1102.6 198.4L1104.6 197.4L1106.6 196.6L1108.5 195.9L1110.3 195L1112.2 193.8L1114.1 192.5L1116.1 191.3L1118.1 190.6L1120.2 190.2L1122.3 189.8L1124.4 189.1L1126.5 188L1128.6 186.9L1130.8 185.9L1133 185.2L1135.1 184.7L1137.3 184.4L1139.4 184.3L1141.8 184.3L1144.2 184.4L1146.6 184.4L1149 184.1L1151.4 183.8L1153.7 183.8L1156.1 184.2L1158.4 184.7L1160.7 184.7L1163.3 184.2L1165.8 183.6L1168.4 183.2L1170.9 183.3L1173.3 183.6L1175.8 183.6L1178.1 183.4L1180.4 183.1L1182.9 182.7L1185.2 182.2L1187.5 181.7L1189.7 181.4L1192 181.3L1194.3 181.5L1196.8 181.5L1198.9 181.1L1200.9 180.3L1203.1 179.5L1205.3 178.8L1207.5 178.5L1209.7 178.4L1212 178L1214.2 177.1L1216.5 176.1L1218.6 175.2L1220.7 174.4L1222.9 173.8L1225.1 173.3L1227.3 172.9L1229.5 172.5L1231.6 172.1L1233.7 171.5L1235.8 170.6L1237.8 169.5L1240.2 168.3L1242.5 167.6L1244.8 167.3L1246.9 166.8L1249.1 166L1251.3 164.8L1253.6 163.5L1255.9 162.6L1257.8 162L1259.7 161.5L1261.6 160.8L1263.6 159.9L1265.6 158.8L1267.6 157.6L1269.6 156.3L1271.6 154.9L1273.6 153.6L1275.5 152.6L1277.5 151.9L1279.5 151.3L1281.5 150.4L1283.5 149.1L1285.5 147.5L1287.5 146.1L1289.4 145L1291.4 144.2L1293.3 143.3L1295.2 142.1L1297.4 140.4L1299.7 138.6L1302 136.9L1304.3 135.4L1306.6 134.1L1308.7 133.1L1310.5 132.2L1312.1 131.4L1313.3 130.5" stroke="#ff00ff"/><path d="M647.8 682.4L647.8 681.2L647.9 679.7L648 678.1L648 676.2L648.1 674.2L648.2 672.1L648.3 669.8L648.3 667.5L648.4 665L648.5 662.5L648.6 659.9L648.7 657.4L648.8 654.8L648.9 652.2L649 649.7L649.1 647.2L649.2 644.8L649.3 642.6L649.4 640.4L649.5 638.1L649.6 635.8L649.7 633.5L649.8 631.3L649.9 629L650 626.8L650.2 624.6L650.3 622.4L650.4 620.2L650.5 618.1L650.6 615.9L650.7 613.7L650.8 611.6L651 609.4L651.1 607.2L651.2 605L651.3 602.8L651.4 600.6L651.5 598.3L651.6 596L651.7 593.7L651.8 591.4L651.9 589L652 586.7L652.1 584.4L652.2 582.1L652.3 579.8L652.4 577.5L652.6 575.3L652.7 573.2L652.8 571.1L652.9 569.1L653.1 567.1L653.2 565.2L653.4 562.5L653.7 559.9L653.9 557.5L654.1 555.2L654.4 553.1L654.6 550.9L654.9 548.8L655.2 546.8L655.5 544.6L655.8 542.4L656.2 540.1L656.5 537.9L656.9 535.7L657.3 533.5L657.7 531.3L658.1 529L658.5 526.8L659 524.5L659.4 522.2L659.9 520L660.3 517.6L660.8 515.3L661.3 513L661.8 510.8L662.2 508.6L662.7 506.4L663.2 504.2L663.7 501.9L664.3 499.7L664.8 497.4L665.3 495.1L665.9 492.9L666.4 490.6L666.9 488.4L667.5 486.2L668 484L668.6 481.7L669.2 479.3L669.7 477L670.3 474.7L670.9 472.4L671.5 470.1L672.1 467.9L672.7 465.6L673.3 463.3L673.9 461L674.5 458.8L675.1 456.5L675.7 454.2L676.3 451.9L676.9 449.6L677.6 447.2L678.2 444.9L678.8 442.5L679.4 440.2L680.1 438L680.7 435.7L681.3 433.6L682 431.4L682.6 429.4L683.4 427L684.1 424.7L684.9 422.5L685.6 420.4L686.4 418.3L687.2 416.2L687.9 414.2L688.7 412.2L689.4 410.3L690.2 408.3L691.1 405.9L692.1 403.5L693 401.2L694 398.9L694.9 396.7L695.8 394.6L696.8 392.5L697.7 390.4L698.8 388L699.8 385.7L700.8 383.5L701.9 381.5L702.9 379.5L704 377.5L705.2 375.3L706.4 373.1L707.6 371L708.8 368.9L710.1 366.8L711.4 364.7L712.7 362.5L714.2 360.3L715.4 358.5L716.7 356.5L718 354.4L719.3 352.4L720.7 350.7L722.1 349.2L723.5 347.6L724.8 345.8L726.2 343.9L727.7 341.7L729.2 339.8L730.7 338.1L732.3 336.5L733.8 334.8L735.3 333.2L736.8 331.6L738.3 330.1L740.3 328.3L742.2 326.7L744.1 325.3L746.1 324.1L748.1 323.2L750.3 321.8L752 320.3L753.8 318.3L755.7 316.4L757.6 315L759.6 314L761.5 313.2L763.4 312.1L765.3 310.9L767.2 309.5L769 308.4L770.6 307.4L772.4 306.5L774.4 305.5L776.9 304.4L780 303.3L781.6 302.7L783.3 301.9L785.1 300.9L787.1 299.8L789.1 299L791.3 298.5L793.4 298.3L795.7 298.1L797.9 297.3L800.2 296.1L802.5 294.8L804.8 293.8L807.1 293L809.4 292.4L811.6 291.7L813.7 291L815.8 290.3L817.9 289.5L820 288.6L822.1 287.7L824.2 286.9L826.3 286.3L828.4 285.9L830.5 285.4L832.6 284.5L834.7 283.2L836.8 281.9L838.9 280.8L841 280.3L843.1 280L845.2 279.7L847.3 279.1L849.5 278.3L851.8 277.4L854 276.6L856.3 275.8L858.5 275.1L860.8 274.4L863 273.9L865.3 273.5L867.5 272.8L869.8 271.9L872 270.8L874.3 270L876.5 269.7L878.8 269.6L881 269.4L883.1 268.7L885.2 267.6L887.3 266.4L889.4 265.5L891.5 264.8L893.6 264.2L895.7 263.6L897.8 263L899.9 262.5L902 261.8L904.1 261.1L906.2 260.2L908.3 259.3L910.4 258.6L912.5 258.2L914.6 257.9L916.7 257.3L918.8 256.3L920.9 255L923 253.8L925.1 253L927.2 252.6L929.3 252.3L931.4 251.9L933.6 251.2L935.7 250.4L937.8 249.6L939.9 248.7L942 247.9L944.1 247.1L946.2 246.5L948.3 246.1L950.6 245.8L952.9 245.3L955.3 244.5L957.7 243.5L960.1 243L962.5 242.9L964.9 243L967.3 242.9L969.7 242.2L971.9 241.3L974.1 240.5L976.3 240L978.3 239.7L980.2 239.5L982 239.3L985 239.1L987.4 238.9L989.6 238.7L991.6 238.4L993.5 237.9L995.4 237.4L997.5 237.1L1000 236.9L1002 236.8L1004.1 236.3L1006.2 235.5L1008.5 234.3L1010.7 233.4L1013 232.8L1015.4 232.7L1017.7 232.5L1020 232L1022.3 231.3L1024.6 230.6L1026.8 229.8L1029.1 228.9L1031.3 228.1L1033.5 227.5L1035.8 227.1L1038 226.8L1040.3 226.4L1042.5 225.6L1044.7 224.6L1047 223.8L1049.2 223.5L1051.4 223.4L1053.7 223.2L1055.9 222.6L1058.2 221.7L1060.4 220.7L1062.6 219.9L1064.9 219.3L1067.1 218.8L1069.3 218.3L1071.6 217.9L1073.8 217.5L1075.9 216.9L1078 216L1080.1 214.9L1082.2 213.7L1084.3 212.8L1086.4 212.3L1088.5 211.8L1090.6 210.9L1092.6 209.7L1094.6 208.4L1096.5 207.4L1098.4 206.7L1100.8 206.3L1103.1 205.8L1105.3 205.1L1107.4 204.2L1109.5 203.3L1111.6 202.3L1113.7 201.3L1115.9 200.2L1118.1 199.4L1120.2 198.9L1122.3 198.7L1124.4 198.3L1126.5 197.7L1128.6 196.7L1130.8 195.8L1133 195.2L1135.1 195.1L1137.3 195L1139.4 194.8L1141.8 194.2L1144.2 193.4L1146.6 192.7L1149 192.3L1151.4 192.1L1153.7 192.1L1156.1 192.1L1158.4 192.3L1160.7 192.3L1163.3 192L1165.8 191.3L1168.4 190.7L1170.9 190.5L1173.3 190.7L1175.8 190.9L1178.1 190.6L1180.4 190L1182.9 189.3L1185.2 189L1187.5 189L1189.7 189.1L1192 189L1194.3 188.6L1196.8 188L1198.9 187.4L1200.9 186.7L1203.1 185.8L1205.3 185.1L1207.5 184.6L1209.7 184.4L1212 184.3L1214.2 183.8L1216.5 182.9L1218.6 181.9L1220.7 181.2L1222.9 180.8L1225.1 180.5L1227.3 180.1L1229.5 179.3L1231.6 178.3L1233.7 177.3L1235.8 176.4L1237.8 175.7L1240 174.9L1242 174.3L1244 173.8L1246 173.2L1247.9 172.6L1249.8 171.5L1251.8 170.2L1253.8 168.7L1255.9 167.4L1257.8 166.6L1259.7 166L1261.6 165.1L1263.6 163.9L1265.6 162.5L1267.6 161L1269.6 159.9L1271.6 158.9L1273.6 158L1275.5 156.9L1277.3 155.7L1279.1 154.3L1281 152.9L1282.8 151.2L1284.6 149.5L1286.4 147.9L1288.2 146.7L1290 145.8L1291.7 144.9L1293.5 143.6L1295.2 142L1297.2 140L1299.2 138.2L1301.3 136.8L1303.4 135.4L1305.5 133.7L1307.4 131.8L1309.2 130L1310.8 128.6L1312.2 127.4L1313.3 126.5" stroke="#ff8000"/></g><g stroke="#000" fill="none"><path stroke-width="7.4" d="M566.3 34H1373.9"/><path stroke-width="6.8" d="M1370.5 30.3V685.8"/></g><g font-family='"Liberation Sans", sans-serif' font-weight="bold" font-size="36" text-anchor="middle"><text transform="translate(626.9 733) scale(1 1.04)">0.2</text><text transform="translate(741.3 733) scale(1 1.04)">0.3</text><text transform="translate(855.7 733) scale(1 1.04)">0.4</text><text transform="translate(970.1 733) scale(1 1.04)">0.5</text><text transform="translate(1084.5 733) scale(1 1.04)">0.6</text><text transform="translate(1198.9 733) scale(1 1.04)">0.7</text><text transform="translate(1313.3 733) scale(1 1.04)">0.8</text></g><g font-family='"Liberation Sans", sans-serif' font-weight="bold" font-size="36" text-anchor="end"><text transform="translate(548 692.6) scale(1 1.04)">-8</text><text transform="translate(548 584.5) scale(1 1.04)">-6</text><text transform="translate(548 476.5) scale(1 1.04)">-4</text><text transform="translate(548 368.4) scale(1 1.04)">-2</text><text transform="translate(548 260.4) scale(1 1.04)">0</text><text transform="translate(548 152.3) scale(1 1.04)">2</text><text transform="translate(548 44.2) scale(1 1.04)">4</text></g><text transform="translate(971 785.2) scale(1 1.04)" font-family='"Liberation Sans", sans-serif' font-weight="bold" font-size="54.8" text-anchor="middle">Potential vs Ag/AgCl (V)</text><text transform="translate(503.7 342.8) rotate(-90) scale(1 1.04)" font-family='"Liberation Sans", sans-serif' font-weight="bold" font-size="55" text-anchor="middle">Current (<tspan dx="0.8" class="mu" letter-spacing="1">μ</tspan>A)</text><text x="594" y="86.8" font-family='"Liberation Serif", serif' font-weight="bold" font-size="56" letter-spacing="1.2">(a)</text><rect x="1033.1" y="266.9" width="279.1" height="331.7" fill="#fff" stroke="#000" stroke-width="1.6"/><path d="M1038.8 295.8H1112.4" stroke="#000000" stroke-width="7" stroke-linecap="round" fill="none"/><text transform="translate(1122.8 307) scale(1 1.04)" font-family='"Liberation Sans", sans-serif' font-weight="bold" font-size="33.4">15 <tspan class="mu" letter-spacing="1.2">μ</tspan>mol L<tspan dy="-15" font-size="20.7">-1</tspan></text><path d="M1038.8 342.1H1112.4" stroke="#ff0000" stroke-width="7" stroke-linecap="round" fill="none"/><text transform="translate(1122.8 353.3) scale(1 1.04)" font-family='"Liberation Sans", sans-serif' font-weight="bold" font-size="33.4">12 <tspan class="mu" letter-spacing="1.2">μ</tspan>mol L<tspan dy="-15" font-size="20.7">-1</tspan></text><path d="M1038.8 388.1H1112.4" stroke="#00ff00" stroke-width="7" stroke-linecap="round" fill="none"/><text transform="translate(1122.8 399.3) scale(1 1.04)" font-family='"Liberation Sans", sans-serif' font-weight="bold" font-size="33.4">8 <tspan class="mu" letter-spacing="1.2">μ</tspan>mol L<tspan dy="-15" font-size="20.7">-1</tspan></text><path d="M1038.8 435.5H1112.4" stroke="#0000ff" stroke-width="7" stroke-linecap="round" fill="none"/><text transform="translate(1122.8 446.7) scale(1 1.04)" font-family='"Liberation Sans", sans-serif' font-weight="bold" font-size="33.4">5 <tspan class="mu" letter-spacing="1.2">μ</tspan>mol L<tspan dy="-15" font-size="20.7">-1</tspan></text><path d="M1038.8 481.7H1112.4" stroke="#00ffff" stroke-width="7" stroke-linecap="round" fill="none"/><text transform="translate(1122.8 492.9) scale(1 1.04)" font-family='"Liberation Sans", sans-serif' font-weight="bold" font-size="33.4">2 <tspan class="mu" letter-spacing="1.2">μ</tspan>mol L<tspan dy="-15" font-size="20.7">-1</tspan></text><path d="M1038.8 528H1112.4" stroke="#ff00ff" stroke-width="7" stroke-linecap="round" fill="none"/><text transform="translate(1122.8 539.2) scale(1 1.04)" font-family='"Liberation Sans", sans-serif' font-weight="bold" font-size="33.4">1 <tspan class="mu" letter-spacing="1.2">μ</tspan>mol L<tspan dy="-15" font-size="20.7">-1</tspan></text><path d="M1038.8 575.4H1112.4" stroke="#ff8000" stroke-width="7" stroke-linecap="round" fill="none"/><text transform="translate(1122.8 586.6) scale(1 1.04)" font-family='"Liberation Sans", sans-serif' font-weight="bold" font-size="33.4">0.1 <tspan class="mu" letter-spacing="1.2">μ</tspan>mol L<tspan dy="-15" font-size="20.7">-1</tspan></text><clipPath id="ci"><rect x="22.3" y="161.6" width="370.9" height="299.8"/></clipPath><g clip-path="url(#ci)" fill="none" stroke-width="3.5" stroke-linecap="round" stroke-linejoin="round"><path d="M22 419.1L23.2 418.3L24.7 417.3L26.5 416.1L28.5 414.7L30.7 413.3L32.9 411.9L35 410.5L37 409L38.8 407.4L40.6 405.6L42.1 403.7L43.5 402.1L44.9 400.6L46.3 399.3L47.9 398.3L49.7 397.1L51.8 395.5L53.2 394.2L54.8 392.6L56.5 390.8L58.2 389L60 387.4L61.8 386L63.7 384.8L65.7 383.5L67.6 382.2L69.5 380.8L71.4 379.4L73.3 377.9L75.1 376.5L76.7 375L78.4 373.5L80 371.9L81.7 370.4L83.3 369L84.9 367.7L86.6 366.6L88.2 365.4L89.9 363.9L91.5 362.1L93.2 360.1L94.9 358L96.7 356.1L98.4 354.6L100 353.5L101.7 352.6L103.4 351.7L105.1 350.7L106.8 349.4L108.6 348L110.3 346.5L112.1 345L113.8 343.5L115.6 342L117.3 340.5L119.1 339L120.8 337.6L122.6 336.2L124.3 334.9L126 333.6L127.8 332.2L129.6 330.6L131.5 328.7L133.3 326.8L135.1 325L137 323.6L138.8 322.5L140.6 321.5L142.3 320.4L144 318.9L145.7 317.1L147.2 315.1L148.8 313L150.2 311.1L151.8 309L153.4 307.2L154.8 305.5L156.1 303.8L157.4 302.1L158.6 300.3L159.8 298.6L160.9 296.7L162.1 294.8L163.2 292.7L164.5 290.4L165.7 288.1L166.8 286.2L168 284.4L169.1 282.7L170.2 281.1L171.4 279.2L172.5 277L173.6 274.5L174.8 271.8L175.9 269.3L177 267.1L178.1 265.3L179.2 263.7L180.2 262.1L181.3 260.4L182.3 258.4L183.3 256.3L184.2 253.9L185.2 251.6L186.2 249.3L187.1 246.9L188.1 244.6L189 242.4L189.9 240.4L190.8 238.5L191.6 236.8L192.5 235.1L193.4 233.4L194.2 231.6L195.5 228.7L196.7 225.9L197.8 223.5L199 221.6L200.1 220L201.2 218.6L202.3 217.2L203.4 215.6L204.6 214L206.6 211.3L208.6 209.2L210.6 207.8L212.7 206.9L214.9 206.1L217.3 205.5L219.9 205L222.6 204.8L225.2 204.9L227.9 205.4L230 206.2L232 207.2L234 208.3L236.1 209.6L238.4 211.2L240.8 213.2L242.6 214.6L244.3 215.9L246.2 217.1L248.1 218.1L250.1 218.8L252.1 219.5L254.3 220.4L256.5 221.7L258.9 223.3L260.8 224.5L262.8 225.8L264.9 226.8L267.1 227.7L269.3 228.4L271.6 229.1L273.8 229.7L276.1 230.2L278.4 230.7L280.6 231.1L282.7 231.6L284.8 232.2L287.3 232.9L289.7 233.6L292 234L294.3 234L296.6 233.7L298.9 233.3L301.2 233L303.5 232.8L305.8 232.9L308.1 233L310.2 233L312.4 232.7L314.5 231.9L316.6 230.9L318.7 229.8L320.8 228.8L323 227.8L325.1 227L327.2 226.2L329.3 225.5L331.4 224.7L333.4 224L335.4 223.3L337.4 222.4L339.4 221.4L341.4 220.1L343.4 218.6L345.4 217L347.4 215.5L349.3 214.1L351.2 213.1L353 212.1L354.7 211.1L356.6 209.6L358.3 207.9L360 206L361.6 204.1L363.2 202.4L364.8 200.9L366.3 199.5L367.9 198.3L369.5 196.9L371.2 195.2L372.9 193.2L374.2 191.5L375.6 189.5L377.1 187.4L378.6 185L380.2 182.6L381.8 180.3L383.3 178.2L384.9 176.4L386.3 174.8L387.7 173.2L389.1 171.4L390.3 169.5L391.4 167.7L392.3 166.2L393.1 164.9" stroke="#000000"/><path d="M22 423.5L23 422.9L24.2 422.1L25.6 421.1L27.1 419.6L28.8 417.8L30.6 415.8L32.5 413.8L34.4 412.1L36.5 410.9L38.5 409.8L40.6 408.6L42.6 407.2L44.6 405.6L46.5 404L48.4 402.4L50.2 401L51.8 399.7L53.8 398.1L55.7 396.6L57.6 395.2L59.4 393.9L61.2 392.8L63 391.7L64.7 390.4L66.4 389L68.1 387.5L69.8 385.9L71.6 384.4L73.3 383.2L75.1 382.2L77 381.5L78.9 380.8L80.9 379.9L82.8 378.7L84.7 377.2L86.6 375.5L88.5 373.8L90.4 372.3L92.4 370.9L94.4 369.7L96.4 368.4L98.4 367.1L100.2 366L101.9 364.8L103.7 363.7L105.5 362.5L107.2 361.2L109 359.8L110.9 358.2L112.7 356.7L114.6 355.3L116.4 354.2L118.4 353.1L120.3 351.9L122.3 350.3L124.3 348.3L125.8 346.5L127.4 344.7L129 343L130.6 341.6L132.2 340.4L133.9 339.4L135.6 338.4L137.3 337.3L139 336L140.7 334.4L142.4 332.8L144.1 331.1L145.8 329.4L147.4 327.7L149.1 325.9L150.7 324.1L152.3 322.4L153.8 320.9L155.4 319.4L156.8 318L158.2 316.4L159.6 314.5L161 312.3L162.4 310.1L163.8 308.1L165.1 306.3L166.5 304.8L167.8 303.5L169.1 302.1L170.4 300.3L171.7 298.3L173 296L174.2 293.7L175.4 291.5L176.7 289.5L177.8 287.6L179 286L180.1 284.4L181.3 282.8L182.7 280.9L184.1 278.9L185.5 277L186.8 275L188.1 272.8L189.3 270.5L190.5 268.3L191.7 266.2L192.9 264.4L194 262.9L195.1 261.5L196.2 260L197.3 258.4L198.3 256.6L199.4 254.8L201.2 251.5L202.9 248.8L204.4 246.9L205.9 245.5L207.3 244.3L208.8 243.2L210.5 242.1L212.3 241L214.3 240L216.5 239.1L218.7 238.4L221.1 237.8L223.4 237.3L225.8 237L228.1 237L230.5 237.4L232.4 238.1L234.4 239.1L236.3 240.3L238.2 241.4L240.2 242.4L242.2 243.2L244.2 244.1L246.3 245.2L248.6 246.5L250.5 247.8L252.5 249.1L254.6 250.3L256.8 251.2L259 251.7L261.2 252.1L263.4 252.6L265.6 253.1L267.7 253.8L269.8 254.6L271.9 255.4L274.3 256.5L276.7 257.6L279.1 258.8L281.4 259.9L283.7 260.7L286 261.3L288.2 261.6L290.4 261.8L292.6 262L294.9 262.4L297.2 262.9L299.4 263.3L301.5 263.6L303.7 263.5L305.9 263L308.2 262.1L310.7 261.2L312.7 260.6L314.7 260.2L316.8 260L319 259.8L321.3 259.5L323.5 259.1L325.7 258.4L327.9 257.6L330 256.8L332.1 255.8L334 254.8L336.3 253.5L338.4 252.2L340.4 251.1L342.3 250.1L344.2 249.2L346.1 248.4L348 247.5L350 246.3L352.1 244.5L353.8 243L355.5 241.3L357.2 239.7L358.9 238.4L360.6 237.2L362.4 236.1L364.1 234.8L365.9 233.2L367.7 231.3L369.4 229.3L371.1 227.3L372.9 225.6L374.8 223.9L376.8 222.2L379 220.6L381.1 219.1L383.2 217.7L385.3 216.3L387.2 214.9L389 213.3L390.6 211.7L392 210.2L393.1 209.1" stroke="#ff0000"/><path d="M22 432.4L23 431.9L24.2 431.2L25.6 430.4L27.1 429.4L28.8 428.2L30.6 426.8L32.5 425.3L34.5 423.8L36.5 422.2L38.6 420.7L40.8 419.2L43 418L45.2 416.9L47.4 415.8L49.6 414.5L51.8 412.8L53.4 411.4L55.2 410L56.9 408.7L58.7 407.6L60.5 406.7L62.4 406L64.3 405L66.2 403.8L68.1 402.2L70 400.5L71.9 398.7L73.9 397.1L75.8 395.7L77.7 394.6L79.6 393.5L81.5 392.4L83.4 391.4L85.3 390.4L87.1 389.5L88.9 388.5L90.6 387.4L92.8 385.8L94.9 384.1L97 382.4L99.1 380.9L101.1 379.8L103.2 378.9L105.2 378.1L107.3 377.1L109.3 375.8L111.2 374.2L113.2 372.6L115.1 371.2L117 370L118.9 369.1L120.7 368.4L122.5 367.6L124.3 366.6L126.2 365.3L128.1 363.9L130 362.5L131.7 361L133.5 359.5L135.2 358L136.9 356.4L138.5 355L140.2 353.6L141.8 352.3L143.5 351.3L145.1 350.2L146.8 349L148.5 347.6L150.2 345.7L151.6 343.9L153.1 342L154.6 340.2L156 338.6L157.5 337.3L159 336L160.5 334.5L162 332.7L163.5 330.6L164.9 328.4L166.4 326.2L167.8 324.1L169.3 322.3L170.7 320.6L172.1 318.9L173.4 317.4L174.8 315.9L176.1 314.5L177.5 312.9L179 311.2L180.4 309.1L181.9 306.8L183.3 304.3L184.7 301.9L186.1 299.8L187.4 298.1L188.7 296.6L190 295.1L191.3 293.5L192.5 291.8L193.6 289.9L194.7 288.1L195.8 286.5L196.8 285.1L199 282.6L200.7 281.1L202.1 280L203.5 279.1L205.1 278.3L207.1 277.3L209 276.4L211.1 275.4L213.4 274.4L215.7 273.5L218.1 272.7L220.6 272.1L223 271.8L225.3 272.1L227.5 273L229.7 274.2L232 275.6L234.2 276.7L236.4 277.6L238.7 278.4L241 279.1L243.4 280.2L245.6 281.2L247.8 282.3L250.1 283.3L252.4 284L254.8 284.4L257.1 284.7L259.5 285.1L261.8 285.7L264.1 286.5L266.4 287.3L268.7 288.3L271 289.4L273.3 290.5L275.6 291.7L277.9 292.6L280.2 293.2L282.5 293.5L284.8 293.4L287.1 293.3L289.4 293.3L291.6 293.6L293.9 294.1L296.2 294.6L298.4 294.9L300.8 294.9L303.1 294.5L305.5 293.8L307.8 293.3L310.1 292.9L312.4 292.7L314.8 292.5L317.2 292.3L319.6 291.8L322 291.2L324.3 290.3L326.6 289.4L328.8 288.4L331 287.2L333.2 285.8L335.3 284.5L337.4 283.4L339.5 282.5L341.6 281.8L343.6 281L345.6 280.1L347.6 278.8L349.6 277.1L351.4 275.4L353.2 273.9L355 272.6L356.6 271.5L358.3 270.5L360 269.5L361.8 268.2L363.6 266.5L365.6 264.5L367.7 262.1L369 260.7L370.5 259.1L372.1 257.4L373.7 255.8L375.4 254L377.1 252.3L378.9 250.7L380.6 249L382.4 247.2L384.1 245L385.7 242.5L387.2 240.2L388.7 238.1L390 236.5L391.2 235.3L392.2 234.4L393.1 233.7" stroke="#00ff00"/><path d="M22 438.5L23.1 437.7L24.5 436.8L26 435.6L27.7 434.3L29.6 433L31.6 431.8L33.7 430.9L35.9 430.2L38.2 429.3L40.5 428.1L42.8 426.4L45.1 424.4L47.4 422.5L49.6 421L51.8 419.9L53.7 419.1L55.6 418.3L57.5 417.4L59.5 416.3L61.5 415L63.5 413.8L65.5 412.6L67.5 411.6L69.6 410.6L71.6 409.6L73.6 408.6L75.6 407.7L77.6 406.8L79.6 406L81.6 405.1L83.5 404L85.4 402.6L87.5 401L89.5 399.3L91.5 397.8L93.5 396.7L95.4 395.9L97.4 395.4L99.4 394.7L101.3 393.8L103.2 392.7L105.2 391.3L107.1 389.8L109 388.5L110.9 387.3L112.8 386.3L114.7 385.3L116.5 384.2L118.5 383.1L120.5 381.9L122.5 380.6L124.4 379.4L126.4 378.1L128.3 376.7L130.3 375.2L132.2 373.8L134.1 372.5L136 371.5L137.8 370.7L139.7 370.1L141.5 369.3L143.3 368.3L145 366.9L147 365L148.9 363L150.8 361.3L152.6 359.8L154.5 358.6L156.3 357.5L158 356.4L159.8 355.2L161.5 353.8L163.2 352.3L164.9 350.8L166.6 349.3L168.3 347.8L170 346.2L171.7 344.6L173.4 343L175.1 341.5L176.8 340L178.5 338.6L180.1 337L181.7 335.2L183.3 333.2L184.8 331.1L186.3 329.1L187.7 327.4L189 326.1L191 324.6L192.6 323.3L194.1 321.9L195.5 320.4L196.9 318.7L198.4 317L200 315.5L202 314.1L203.9 313.2L206 312.4L208.3 311.8L210.6 311.3L213 310.9L215.5 310.6L217.9 310.5L220.3 310.4L222.7 310.3L225 310.3L227.3 310.4L229.7 310.8L232 311.5L234.4 312.7L236.7 314L239 315.2L241.2 316L243.4 316.3L245.8 316.3L248 316.3L250.3 316.4L252.5 316.8L254.6 317.5L256.9 318.2L259.2 319L261.5 319.5L263.7 319.9L265.9 320.2L268.1 320.5L270.4 320.8L272.7 321.1L275 321.2L277.4 321.3L279.8 321.3L282.2 321.5L284.5 321.6L286.8 321.7L289.2 321.5L291.6 321L294.1 320.1L296.5 319.2L298.8 318.4L301.2 318L303.4 317.9L305.5 318L308 318.1L310.3 317.9L312.5 317.3L314.6 316.6L316.7 315.6L318.9 314.7L321.2 313.7L323.7 312.7L325.6 311.9L327.6 311L329.7 310.2L331.9 309.3L334.1 308.5L336.3 307.5L338.5 306.4L340.7 305L342.8 303.5L344.9 302L347 300.8L348.8 299.9L350.5 299.1L352.2 298.2L353.9 297.1L355.5 295.6L357.2 293.7L358.9 291.6L360.5 289.6L362.2 287.7L364 286.1L365.8 284.6L367.7 283L369.1 281.8L370.6 280.3L372.2 278.6L373.9 276.9L375.6 274.9L377.3 272.9L379.1 270.7L380.8 268.5L382.5 266.6L384.2 264.8L385.8 263.3L387.3 261.7L388.7 260.1L390 258.3L391.2 256.6L392.2 255.1L393.1 253.9" stroke="#0000ff"/><path d="M22 448.3L23.1 447.9L24.5 447.4L26 446.5L27.7 445.4L29.6 444L31.6 442.6L33.7 441.2L35.9 440.1L38.2 439.1L40.5 438.2L42.8 437.3L45.1 436.5L47.4 435.6L49.6 434.7L51.8 433.8L53.8 432.8L55.9 431.6L58 430.5L60.1 429.4L62.3 428.6L64.5 428L66.7 427.5L68.9 426.8L71 425.8L73.2 424.5L75.4 423.1L77.5 421.8L79.6 420.8L81.6 420.1L83.6 419.7L85.4 419.2L87.7 418.6L89.8 417.6L91.8 416.5L93.7 415.3L95.6 414.1L97.5 412.8L99.3 411.6L101.2 410.3L103.1 409L105 407.8L107 406.8L109.1 405.8L111.3 405L113.1 404.2L115 403.3L116.9 402.1L118.9 400.7L121 399.3L123.1 398.2L125.2 397.3L127.3 396.7L129.4 396.1L131.5 395.2L133.6 394L135.6 392.5L137.6 391L139.6 389.5L141.5 388.2L143.3 387.1L145 386.1L147.1 384.9L149.2 383.7L151.1 382.5L153 381.4L154.8 380.1L156.6 378.8L158.3 377.3L160 375.6L161.7 373.9L163.3 372.2L165 370.7L166.6 369.5L168.3 368.5L170.3 367.4L172.3 366L174.3 364.3L176.2 362.3L178.2 360.4L180.1 358.7L182 357.4L183.8 356.4L185.6 355.6L187.3 354.7L189 353.7L191.2 352.3L193.1 350.8L195 349.3L196.8 347.9L198.6 346.6L200.4 345.4L202.4 344.3L204.6 343.3L206.6 342.7L208.9 342.4L211.2 342.2L213.6 342.2L216 342L218.4 341.5L220.7 340.9L223.1 340.4L225.3 340.1L227.7 340.3L230 340.9L232.3 341.6L234.5 342.2L236.7 342.5L238.9 342.5L241.1 342.4L243.4 342.2L245.6 342.1L247.9 342.2L250.1 342.3L252.3 342.5L254.5 342.7L256.8 342.9L259.1 343.1L261.5 343.3L263.7 343.3L266 343.1L268.2 342.6L270.6 341.9L272.9 341.2L275.2 340.7L277.6 340.5L279.9 340.4L282.2 340.4L284.5 340L286.8 339.3L289.1 338.3L291.4 337.2L293.7 336.2L296 335.5L298.3 335.1L300.7 334.7L303 334.2L305 333.5L307.1 332.8L309.1 331.9L311.1 331L313.1 330L315.2 328.8L317.3 327.6L319.4 326.3L321.5 325L323.7 323.9L325.4 323.2L327.1 322.5L328.9 321.6L330.7 320.4L332.6 318.9L334.4 317.1L336.2 315.2L338.1 313.6L339.9 312.2L341.7 311L343.5 309.8L345.3 308.5L347 306.9L348.6 305.2L350.3 303.5L351.8 301.8L353.4 300.3L354.9 298.9L356.4 297.5L358 296.2L359.5 294.8L361.1 293.5L362.6 292L364.3 290.5L365.9 288.7L367.7 286.5L368.8 284.7L370 282.6L371.3 280.4L372.6 278.2L374 276.2L375.3 274.5L376.7 272.8L378.2 270.9L379.6 268.6L381 266.1L382.4 263.5L383.7 261.2L385 259.3L386.3 257.6L387.5 256L388.7 254.3L389.7 252.7L390.7 251.1L391.6 249.6L392.4 248.3L393.1 247.2" stroke="#00ffff"/><path d="M22 445.2L23.2 444.6L24.7 443.7L26.4 442.6L28.2 441.6L30.3 440.8L32.5 440.2L34.8 439.9L37.2 439.6L39.6 439L42.1 437.9L44.6 436.5L47.1 435.1L49.5 433.9L51.8 433L53.8 432.2L55.8 431.4L57.9 430.7L60 430L62.1 429.3L64.2 428.7L66.4 428L68.5 427.1L70.7 426.1L72.8 425L75 424L77.1 423.3L79.2 422.8L81.3 422.4L83.4 422L85.4 421.3L87.6 420.2L89.7 418.8L91.9 417.4L94 416.1L96.1 415.2L98.2 414.5L100.3 414L102.3 413.5L104.4 412.9L106.5 412.2L108.5 411.4L110.5 410.5L112.5 409.6L114.5 408.6L116.5 407.5L118.6 406.4L120.8 405.2L122.9 404.1L125 403.3L127.1 402.5L129.2 401.8L131.2 400.8L133.3 399.5L135.3 398.1L137.3 396.6L139.3 395.4L141.2 394.4L143.1 393.8L145 393.3L147.1 392.7L149.2 391.7L151.2 390.4L153.2 388.9L155.1 387.3L157 385.8L158.9 384.4L160.7 383.1L162.6 381.9L164.5 380.8L166.4 379.7L168.3 378.7L170.3 377.8L172.2 376.9L174.2 375.9L176.2 374.7L178.1 373.3L180.1 371.8L182.1 370.5L184 369.5L186 368.8L187.9 368.2L189.8 367.6L191.6 366.8L193.8 365.6L196 364.1L198.2 362.6L200.3 361.4L202.5 360.5L204.5 359.9L206.6 359.5L208.6 359.2L210.5 358.9L212.3 358.6L214.8 358.2L217.1 357.8L219.2 357.5L221.3 357.3L223.4 357.1L225.6 356.8L227.9 356.6L230 356.5L232.2 356.8L234.5 357.4L236.8 358L239.1 358.6L241.4 358.8L243.7 358.7L246 358.4L248.2 358L250.5 357.9L252.7 358L254.9 358.2L257.1 358.4L259.4 358.4L261.7 358.1L264.1 357.5L266.3 356.9L268.5 356.2L270.7 355.6L273 355.1L275.3 354.6L277.6 354.1L280 353.7L282.4 353.4L284.8 353.2L286.9 352.9L288.9 352.5L291.1 351.8L293.2 350.9L295.4 349.8L297.6 348.8L299.7 348.1L301.9 347.5L304 347.2L306.1 346.7L308.1 345.9L310.3 344.8L312.4 343.5L314.5 342.1L316.6 340.9L318.6 339.9L320.7 339.1L322.7 338.4L324.7 337.6L326.8 336.6L328.8 335.4L330.6 334.3L332.3 333L334 331.5L335.8 329.9L337.5 328L339.2 326.1L340.9 324.3L342.7 322.7L344.4 321.3L346.1 320.1L347.8 318.8L349.6 317.2L351.1 315.5L352.7 313.6L354.3 311.7L355.9 310.1L357.4 308.7L359 307.5L360.6 306.3L362.2 305.1L363.7 303.5L365.4 301.7L367 299.7L368.6 297.7L370.3 295.8L371.9 293.9L373.6 292.1L375.4 290.2L377.3 288.4L379.2 286.8L381.1 285.3L383 283.8L384.8 282L386.5 279.9L388.2 277.8L389.6 275.9L391 274.4L392.1 273.3L393.1 272.5" stroke="#ff00ff"/><path d="M22 455.4L23.2 454.7L24.6 453.8L26.3 452.8L28.1 451.9L30.1 451.2L32.2 450.8L34.5 450.5L36.8 450.1L39.3 449.3L41.8 448L44.3 446.6L46.8 445.3L49.3 444.3L51.8 443.6L53.7 443.1L55.7 442.5L57.8 441.7L59.9 440.8L62.1 439.9L64.3 438.9L66.5 437.9L68.7 437L71 436L73.2 435.2L75.5 434.5L77.7 434L80 433.7L82.2 433.3L84.3 432.7L86.5 431.8L88.6 430.6L90.6 429.3L92.9 428L95.2 427L97.4 426.4L99.7 426.1L102 425.7L104.2 425.1L106.4 424.3L108.6 423.4L110.7 422.5L112.8 421.7L114.9 421L116.9 420.4L118.9 419.9L120.7 419.3L122.5 418.7L124.3 418.1L126.9 417.1L129.2 416.2L131.4 415.1L133.4 413.8L135.3 412.4L137.2 411L139 409.7L140.9 408.6L142.9 407.9L145 407.3L146.9 406.9L148.7 406.2L150.6 405.2L152.6 403.9L154.5 402.4L156.5 401L158.5 399.7L160.4 398.6L162.4 397.6L164.4 396.7L166.4 395.7L168.3 394.6L170.3 393.4L172.2 392.2L174.2 391L176.2 389.8L178.1 388.5L180.1 387.3L182.1 386.1L184 385.1L186 384.3L187.9 383.7L189.8 383.2L191.6 382.5L193.8 381.4L196 380L198.2 378.5L200.3 377L202.5 376L204.5 375.3L206.6 375L208.6 374.7L210.5 374.5L212.3 374.1L214.8 373.5L217.1 373.1L219.3 372.8L221.5 372.6L223.6 372.6L225.7 372.6L227.9 372.5L230 372.3L232.1 372.1L234.2 372L236.4 371.8L238.6 371.7L240.9 371.3L243.4 370.7L245.5 370.1L247.7 369.4L249.9 369L252.2 368.9L254.6 369.1L257 369.4L259.4 369.6L261.8 369.5L264.1 368.8L266.4 367.9L268.7 367L270.9 366.1L273.2 365.4L275.4 364.9L277.7 364.3L280 363.7L282.4 362.9L284.8 362.1L286.9 361.4L288.9 360.7L291.1 359.9L293.2 359L295.4 358.1L297.6 357.2L299.7 356.5L301.9 356L304 355.5L306.1 354.9L308.1 354L310.1 352.7L312.1 351.2L314 349.5L315.9 348L317.7 346.7L319.6 345.7L321.4 344.9L323.3 344.1L325.1 343.1L327 341.9L328.8 340.4L330.6 339L332.3 337.6L334 336.1L335.8 334.7L337.5 333.2L339.2 331.6L340.9 330.1L342.7 328.6L344.4 327.2L346.1 325.7L347.8 324L349.6 322.1L351 320.2L352.5 318.3L354 316.5L355.4 315L356.9 313.7L358.3 312.7L359.8 311.6L361.3 310.2L362.7 308.6L364.2 306.5L365.7 304.3L367.2 302.1L368.7 300.1L370.3 298.2L371.7 296.6L373.2 294.9L374.7 293.1L376.4 291.2L378 289.2L379.7 287.3L381.3 285.2L383 282.9L384.6 280.7L386.1 278.7L387.6 276.9L388.9 275.5L390.2 274.3L391.3 273.2L392.3 272.1L393.1 271.1" stroke="#ff8000"/></g><g stroke="#000" fill="none"><rect x="22.3" y="161.6" width="370.9" height="299.8" stroke-width="3.9"/><path stroke-width="3.2" d="M22.3 461.4v6.2"/><path stroke-width="3.2" d="M146.3 461.4v6.2"/><path stroke-width="3.2" d="M269.6 461.4v6.2"/><path stroke-width="3.2" d="M393 461.4v6.2"/><path stroke-width="2.6" d="M84.3 461.4v3.6"/><path stroke-width="2.6" d="M208 461.4v3.6"/><path stroke-width="2.6" d="M331.3 461.4v3.6"/><path stroke-width="3.2" d="M22.3 290.3h-6"/><path stroke-width="3.2" d="M22.3 461.4h-6"/><path stroke-width="2.2" d="M22.3 204h-2.8"/><path stroke-width="2.2" d="M22.3 375.5h-2.8"/></g><g fill="none" stroke="#ff0000"><path id="ebig" d="M47.2 317.7A165 134.5 0 0 1 376.8 303.7A165 134.5 0 0 1 47.2 317.7" stroke-width="9.2" stroke-dasharray="70.45 26.4"/><path id="esml" d="M1074.4 144.5A91.5 75 0 0 1 1257.4 144.5A91.5 75 0 0 1 1074.4 144.5" stroke-width="8.8" stroke-dasharray="70.4 26.4"/><path d="M211.4 176.7L1166 69.6" stroke-width="9.5" stroke-dasharray="38.5 28.5" stroke-dashoffset="16.1"/><path d="M212 445.2L1228 203.3" stroke-width="9.5" stroke-dasharray="38.5 28.54" stroke-dashoffset="-3.3"/></g><defs><radialGradient id="gb" cx="0.36" cy="0.34" r="0.62" fx="0.36" fy="0.34"><stop offset="0" stop-color="#ffffff"/><stop offset="0.1" stop-color="#f0f0ff"/><stop offset="0.34" stop-color="#6060ff"/><stop offset="0.52" stop-color="#0000ff"/><stop offset="1" stop-color="#0000ff"/></radialGradient><radialGradient id="go" cx="0.36" cy="0.34" r="0.62" fx="0.36" fy="0.34"><stop offset="0" stop-color="#ffffff"/><stop offset="0.1" stop-color="#fff4e8"/><stop offset="0.34" stop-color="#ffb060"/><stop offset="0.52" stop-color="#ff8000"/><stop offset="1" stop-color="#ff8000"/></radialGradient></defs><g stroke="#000" stroke-width="6.8" fill="none" stroke-linecap="butt"><path d="M1511.5 33.6V688.8"/><path d="M1508.1 685.4H2317"/></g><g stroke="#000" stroke-width="6.6" fill="none"><path d="M1511.5 685.4v12.8"/><path d="M1595.9 685.4v12.8"/><path d="M1680.4 685.4v12.8"/><path d="M1764.8 685.4v12.8"/><path d="M1849.2 685.4v12.8"/><path d="M1933.7 685.4v12.8"/><path d="M2018.1 685.4v12.8"/><path d="M2102.5 685.4v12.8"/><path d="M2187 685.4v12.8"/><path d="M2271.4 685.4v12.8"/><path d="M1553.7 685.4v6.4"/><path d="M1638.1 685.4v6.4"/><path d="M1722.6 685.4v6.4"/><path d="M1807 685.4v6.4"/><path d="M1891.4 685.4v6.4"/><path d="M1975.9 685.4v6.4"/><path d="M2060.3 685.4v6.4"/><path d="M2144.7 685.4v6.4"/><path d="M2229.2 685.4v6.4"/><path d="M2313.6 685.4v6.4"/><path d="M1511.5 685.4h-12.8"/><path d="M1511.5 577.3h-12.8"/><path d="M1511.5 469.3h-12.8"/><path d="M1511.5 361.2h-12.8"/><path d="M1511.5 253.2h-12.8"/><path d="M1511.5 145.1h-12.8"/><path d="M1511.5 37h-12.8"/><path d="M1511.5 631.4h-6.4"/><path d="M1511.5 523.3h-6.4"/><path d="M1511.5 415.3h-6.4"/><path d="M1511.5 307.2h-6.4"/><path d="M1511.5 199.1h-6.4"/><path d="M1511.5 91.1h-6.4"/></g><g stroke="#0000ff" stroke-width="3.6" stroke-linecap="round" fill="none"><path d="M1600 612V639M1591 612h18M1591 639h18"/><path d="M1637.9 557.9V590.6M1628.9 557.9h18M1628.9 590.6h18"/><path d="M1680 503.4V541.3M1671 503.4h18M1671 541.3h18"/><path d="M1807.4 397.9V446.6M1798.4 397.9h18M1798.4 446.6h18"/><path d="M1933.7 278.7V337.9M1924.7 278.7h18M1924.7 337.9h18"/><path d="M2102.6 167.6V206.3M2093.6 167.6h18M2093.6 206.3h18"/><path d="M2229.2 74.7V123.7M2220.2 74.7h18M2220.2 123.7h18"/></g><circle cx="1600" cy="625.4" r="10.8" fill="url(#gb)"/><circle cx="1637.9" cy="574.4" r="10.8" fill="url(#gb)"/><circle cx="1680" cy="522.3" r="10.8" fill="url(#gb)"/><circle cx="1807.4" cy="421.6" r="10.8" fill="url(#gb)"/><circle cx="1933.7" cy="307.9" r="10.8" fill="url(#gb)"/><circle cx="2102.6" cy="186.1" r="10.8" fill="url(#gb)"/><circle cx="2229.2" cy="98.4" r="10.8" fill="url(#gb)"/><path d="M1599.3 608.9L2229.7 80.8" stroke="#000" stroke-width="6.8" stroke-linecap="round" fill="none"/><g stroke="#000" fill="none"><path stroke-width="7.4" d="M1508.1 37H2317"/><path stroke-width="6.8" d="M2313.6 33.3V688.8"/></g><g font-family='"Liberation Sans", sans-serif' font-weight="bold" font-size="36" text-anchor="middle"><text transform="translate(1511.5 735.8) scale(1 1.04)">-2</text><text transform="translate(1595.9 735.8) scale(1 1.04)">0</text><text transform="translate(1680.4 735.8) scale(1 1.04)">2</text><text transform="translate(1764.8 735.8) scale(1 1.04)">4</text><text transform="translate(1849.2 735.8) scale(1 1.04)">6</text><text transform="translate(1933.7 735.8) scale(1 1.04)">8</text><text transform="translate(2018.1 735.8) scale(1 1.04)">10</text><text transform="translate(2102.5 735.8) scale(1 1.04)">12</text><text transform="translate(2187 735.8) scale(1 1.04)">14</text><text transform="translate(2271.4 735.8) scale(1 1.04)">16</text></g><g font-family='"Liberation Sans", sans-serif' font-weight="bold" font-size="36" text-anchor="end"><text transform="translate(1488.5 695.6) scale(1 1.04)">0.8</text><text transform="translate(1488.5 587.5) scale(1 1.04)">1.2</text><text transform="translate(1488.5 479.5) scale(1 1.04)">1.6</text><text transform="translate(1488.5 371.4) scale(1 1.04)">2.0</text><text transform="translate(1488.5 263.4) scale(1 1.04)">2.4</text><text transform="translate(1488.5 155.3) scale(1 1.04)">2.8</text><text transform="translate(1488.5 47.2) scale(1 1.04)">3.2</text></g><text transform="translate(1911.4 784.5) scale(1 1.04)" font-family='"Liberation Sans", sans-serif' font-weight="bold" font-size="49.4" text-anchor="middle">Conc. of BPA (<tspan class="mu" letter-spacing="0.6">μ</tspan>mol L<tspan dy="-22.2" font-size="30.6">-1</tspan><tspan dy="22.2">)</tspan></text><text transform="translate(1426.5 361.3) rotate(-90) scale(1 1.04)" font-family='"Liberation Sans", sans-serif' font-weight="bold" font-size="55" text-anchor="middle">Current (<tspan dx="0.8" class="mu" letter-spacing="1">μ</tspan>A)</text><text x="1533.5" y="93" font-family='"Liberation Serif", serif' font-weight="bold" font-size="56" letter-spacing="1.2">(b)</text><clipPath id="cc"><rect x="565.7" y="819.5" width="800.7" height="648.8"/></clipPath><g stroke="#000" stroke-width="6.8" fill="none" stroke-linecap="butt"><path d="M565.7 816.1V1471.7"/><path d="M562.3 1468.3H1369.8"/></g><g stroke="#000" stroke-width="6.6" fill="none"><path d="M565.7 1468.3v12.8"/><path d="M699.1 1468.3v12.8"/><path d="M832.6 1468.3v12.8"/><path d="M966 1468.3v12.8"/><path d="M1099.5 1468.3v12.8"/><path d="M1232.9 1468.3v12.8"/><path d="M1366.4 1468.3v12.8"/><path d="M632.4 1468.3v6.4"/><path d="M765.9 1468.3v6.4"/><path d="M899.3 1468.3v6.4"/><path d="M1032.8 1468.3v6.4"/><path d="M1166.2 1468.3v6.4"/><path d="M1299.7 1468.3v6.4"/><path d="M565.7 1468.3h-12.8"/><path d="M565.7 1350.3h-12.8"/><path d="M565.7 1232.4h-12.8"/><path d="M565.7 1114.4h-12.8"/><path d="M565.7 996.4h-12.8"/><path d="M565.7 878.5h-12.8"/><path d="M565.7 1409.3h-6.4"/><path d="M565.7 1291.4h-6.4"/><path d="M565.7 1173.4h-6.4"/><path d="M565.7 1055.4h-6.4"/><path d="M565.7 937.5h-6.4"/><path d="M565.7 819.5h-6.4"/></g><g clip-path="url(#cc)" fill="none" stroke-width="6.6" stroke-linecap="round" stroke-linejoin="round"><path d="M577.7 1468.3C577.7 1468 577.5 1466.7 577.7 1466.4C577.9 1466.2 578.8 1466.5 579.2 1466.4C579.6 1466.4 580.3 1466.2 580.7 1466C581.1 1465.9 581.8 1465.7 582.2 1465.5C582.6 1465.4 583.3 1465.3 583.7 1465.2C584.1 1465.2 584.8 1465.2 585.2 1465.2C585.6 1465.3 586.3 1465.5 586.7 1465.6C587.1 1465.7 587.8 1466 588.2 1466.1C588.6 1466.2 589.3 1466.4 589.7 1466.4C590.1 1466.5 590.8 1466.4 591.2 1466.3C591.6 1466.2 592.3 1465.9 592.7 1465.7C593.1 1465.5 593.8 1465 594.2 1464.7C594.6 1464.5 595.3 1464 595.7 1463.9C596.1 1463.7 596.8 1463.6 597.2 1463.7C597.6 1463.7 598.3 1463.9 598.7 1464.1C599.1 1464.3 599.8 1464.8 600.2 1465.1C600.6 1465.3 601.3 1465.7 601.7 1465.8C602.1 1465.9 602.8 1465.9 603.2 1465.8C603.6 1465.7 604.3 1465.2 604.7 1464.9C605.1 1464.7 605.8 1464 606.2 1463.7C606.6 1463.4 607.3 1463 607.7 1462.8C608.1 1462.7 608.8 1462.6 609.2 1462.7C609.6 1462.8 610.3 1463.3 610.7 1463.5C611.1 1463.8 611.8 1464.4 612.2 1464.7C612.6 1465 613.3 1465.5 613.7 1465.7C614.1 1465.8 614.8 1465.9 615.2 1465.8C615.6 1465.7 616.3 1465.4 616.7 1465.1C617.1 1464.9 617.8 1464.3 618.2 1464C618.6 1463.7 619.3 1463.3 619.7 1463.1C620.1 1463 620.8 1462.9 621.2 1462.9C621.6 1463 622.3 1463.3 622.7 1463.5C623.1 1463.7 623.8 1464.3 624.2 1464.6C624.6 1464.8 625.3 1465.3 625.7 1465.5C626.1 1465.6 626.8 1465.7 627.2 1465.6C627.6 1465.5 628.3 1465.1 628.7 1464.8C629.1 1464.4 629.8 1463.6 630.2 1463.2C630.6 1462.8 631.3 1462 631.7 1461.7C632.1 1461.3 632.8 1461 633.2 1461C633.6 1460.9 634.3 1461.2 634.7 1461.5C635.1 1461.8 635.8 1462.6 636.2 1463C636.6 1463.4 637.3 1464.2 637.7 1464.4C638.1 1464.7 638.8 1464.9 639.2 1464.8C639.6 1464.7 640.3 1464.2 640.7 1463.7C641.1 1463.3 641.8 1462.2 642.2 1461.6C642.6 1461.1 643.3 1460 643.7 1459.6C644.1 1459.3 644.8 1458.9 645.2 1458.9C645.6 1459 646.3 1459.5 646.7 1459.9C647.1 1460.3 647.8 1461.4 648.2 1462C648.6 1462.6 649.3 1463.6 649.7 1464C650.1 1464.4 650.8 1464.7 651.2 1464.7C651.6 1464.7 652.3 1464.3 652.7 1464C653.1 1463.6 653.8 1462.8 654.2 1462.3C654.6 1461.9 655.3 1461.1 655.7 1460.9C656.1 1460.7 656.8 1460.5 657.2 1460.6C657.6 1460.7 658.3 1461.2 658.7 1461.6C659.1 1462 659.8 1462.9 660.2 1463.4C660.6 1463.8 661.3 1464.6 661.7 1464.9C662.1 1465.3 662.8 1465.6 663.2 1465.6C663.6 1465.7 664.3 1465.5 664.7 1465.3C665.1 1465.1 665.8 1464.6 666.2 1464.3C666.6 1464.1 667.3 1463.6 667.7 1463.4C668.1 1463.3 668.8 1463.1 669.2 1463.1C669.6 1463.1 670.3 1463.4 670.7 1463.6C671.1 1463.8 671.8 1464.3 672.2 1464.5C672.6 1464.8 673.3 1465.3 673.7 1465.5C674.1 1465.7 674.8 1466 675.2 1466C675.6 1466 676.3 1465.9 676.7 1465.7C677.1 1465.5 677.8 1465.1 678.2 1464.8C678.6 1464.5 679.3 1463.9 679.7 1463.7C680.1 1463.4 680.8 1463.1 681.2 1463C681.6 1463 682.3 1463.1 682.7 1463.2C683.1 1463.4 683.8 1463.9 684.2 1464.1C684.6 1464.4 685.3 1465 685.7 1465.2C686.1 1465.5 686.8 1465.8 687.2 1465.8C687.6 1465.9 688.3 1465.8 688.7 1465.6C689.1 1465.5 689.8 1465 690.2 1464.7C690.6 1464.4 691.3 1463.9 691.7 1463.7C692.1 1463.5 692.8 1463.2 693.2 1463.2C693.6 1463.1 694.3 1463.3 694.7 1463.5C695.1 1463.7 695.8 1464.2 696.2 1464.5C696.6 1464.8 697.3 1465.3 697.7 1465.6C698.1 1465.8 698.8 1466.1 699.2 1466.2C699.6 1466.3 700.3 1466.2 700.7 1466.1C701.1 1466.1 701.8 1465.8 702.2 1465.6C702.6 1465.4 703.3 1465.1 703.7 1465C704.1 1464.9 704.8 1464.7 705.2 1464.7C705.6 1464.6 706.3 1464.7 706.7 1464.8C707.1 1464.9 707.8 1465.2 708.2 1465.3C708.6 1465.5 709.3 1465.8 709.7 1466C710.1 1466.1 710.8 1466.3 711.2 1466.4C711.6 1466.4 712.3 1466.4 712.7 1466.3C713.1 1466.2 713.8 1465.8 714.2 1465.6C714.6 1465.3 715.3 1464.8 715.7 1464.5C716.1 1464.2 716.8 1463.8 717.2 1463.6C717.6 1463.4 718.3 1463.2 718.7 1463.2C719.1 1463.2 719.8 1463.4 720.2 1463.6C720.6 1463.8 721.3 1464.3 721.7 1464.6C722.1 1464.8 722.8 1465.3 723.2 1465.4C723.6 1465.4 724.3 1465.4 724.7 1465.2C725.1 1465 725.8 1464.4 726.2 1463.9C726.6 1463.5 727.3 1462.5 727.7 1462C728.1 1461.4 728.8 1460.6 729.2 1460.3C729.6 1460 730.3 1459.8 730.7 1459.9C731.1 1460 731.8 1460.5 732.2 1460.9C732.6 1461.4 733.3 1462.4 733.7 1462.8C734.1 1463.3 734.8 1464.1 735.2 1464.4C735.6 1464.6 736.3 1464.7 736.7 1464.6C737.1 1464.4 737.8 1463.7 738.2 1463.3C738.6 1462.8 739.3 1461.7 739.7 1461.2C740.1 1460.7 740.8 1459.9 741.2 1459.7C741.6 1459.5 742.3 1459.4 742.7 1459.6C743.1 1459.8 743.8 1460.5 744.2 1461C744.6 1461.4 745.3 1462.5 745.7 1463C746.1 1463.5 746.8 1464.4 747.2 1464.6C747.6 1464.9 748.3 1465.1 748.7 1465C749.1 1464.9 749.8 1464.5 750.2 1464.1C750.6 1463.8 751.3 1462.9 751.7 1462.5C752.1 1462.1 752.8 1461.4 753.2 1461.2C753.6 1461 754.3 1460.9 754.7 1461C755.1 1461.1 755.8 1461.6 756.2 1461.9C756.6 1462.3 757.3 1463.1 757.7 1463.5C758.1 1463.9 758.8 1464.6 759.2 1464.9C759.6 1465.1 760.3 1465.3 760.7 1465.3C761.1 1465.2 761.8 1464.8 762.2 1464.4C762.6 1464.1 763.3 1463.2 763.7 1462.8C764.1 1462.3 764.8 1461.5 765.2 1461.2C765.6 1460.9 766.3 1460.6 766.7 1460.6C767.1 1460.6 767.8 1461 768.2 1461.4C768.6 1461.7 769.3 1462.5 769.7 1463C770.1 1463.4 770.8 1464.2 771.2 1464.5C771.6 1464.8 772.3 1465.1 772.7 1465.1C773.1 1465.1 773.8 1464.7 774.2 1464.4C774.6 1464.1 775.3 1463.3 775.7 1462.9C776.1 1462.4 776.8 1461.7 777.2 1461.5C777.6 1461.2 778.3 1461.1 778.7 1461.1C779.1 1461.2 779.8 1461.7 780.2 1462C780.6 1462.4 781.3 1463.2 781.7 1463.7C782.1 1464.1 782.8 1464.8 783.2 1465.1C783.6 1465.4 784.3 1465.7 784.7 1465.8C785.1 1465.8 785.8 1465.7 786.2 1465.5C786.6 1465.4 787.3 1465 787.7 1464.8C788.1 1464.6 788.8 1464.3 789.2 1464.2C789.6 1464.1 790.3 1464.1 790.7 1464.2C791.1 1464.3 791.8 1464.6 792.2 1464.8C792.6 1465 793.3 1465.4 793.7 1465.6C794.1 1465.8 794.8 1466.2 795.2 1466.3C795.6 1466.4 796.3 1466.6 796.7 1466.6C797.1 1466.6 797.8 1466.6 798.2 1466.5C798.6 1466.4 799.3 1466.2 799.7 1466C800.1 1465.9 800.8 1465.6 801.2 1465.5C801.6 1465.3 802.3 1465.1 802.7 1465C803.1 1465 803.8 1464.9 804.2 1465C804.6 1465 805.3 1465.2 805.7 1465.3C806.1 1465.5 806.8 1465.8 807.2 1465.9C807.6 1466 808.3 1466.2 808.7 1466.2C809.1 1466.2 809.8 1466 810.2 1465.8C810.6 1465.6 811.3 1465.1 811.7 1464.8C812.1 1464.4 812.8 1463.7 813.2 1463.4C813.6 1463.1 814.3 1462.5 814.7 1462.4C815.1 1462.2 815.8 1462.2 816.2 1462.3C816.6 1462.4 817.3 1462.9 817.7 1463.2C818.1 1463.5 818.8 1464.2 819.2 1464.5C819.6 1464.8 820.3 1465.2 820.7 1465.3C821.1 1465.4 821.8 1465.2 822.2 1465C822.6 1464.8 823.3 1464.1 823.7 1463.7C824.1 1463.3 824.8 1462.4 825.2 1462C825.6 1461.6 826.3 1461.1 826.7 1461C827.1 1460.9 827.8 1461 828.2 1461.2C828.6 1461.4 829.3 1462.1 829.7 1462.5C830.1 1462.9 830.8 1463.7 831.2 1464.1C831.6 1464.5 832.3 1465.1 832.7 1465.2C833.1 1465.3 833.8 1465.3 834.2 1465.1C834.6 1464.9 835.3 1464.3 835.7 1464C836.1 1463.6 836.8 1462.8 837.2 1462.4C837.6 1462 838.3 1461.5 838.7 1461.3C839.1 1461.1 839.8 1461.1 840.2 1461.3C840.6 1461.4 841.3 1462 841.7 1462.3C842.1 1462.7 842.8 1463.5 843.2 1463.9C843.6 1464.3 844.3 1464.8 844.7 1465C845.1 1465.1 845.8 1465.1 846.2 1464.9C846.6 1464.7 847.3 1464 847.7 1463.6C848.1 1463.1 848.8 1462 849.2 1461.5C849.6 1461 850.3 1460.1 850.7 1459.8C851.1 1459.5 851.8 1459.3 852.2 1459.4C852.6 1459.5 853.3 1460.1 853.7 1460.6C854.1 1461 854.8 1462.1 855.2 1462.6C855.6 1463.1 856.3 1463.9 856.7 1464.2C857.1 1464.4 857.8 1464.5 858.2 1464.3C858.6 1464.1 859.3 1463.3 859.7 1462.8C860.1 1462.2 860.8 1461 861.2 1460.4C861.6 1459.8 862.3 1458.9 862.7 1458.6C863.1 1458.4 863.8 1458.3 864.2 1458.5C864.6 1458.7 865.3 1459.5 865.7 1460C866.1 1460.6 866.8 1461.8 867.2 1462.4C867.6 1463 868.3 1464 868.7 1464.3C869.1 1464.6 869.8 1464.8 870.2 1464.7C870.6 1464.7 871.3 1464.1 871.7 1463.8C872.1 1463.5 872.8 1462.6 873.2 1462.3C873.6 1461.9 874.3 1461.4 874.7 1461.3C875.1 1461.2 875.8 1461.2 876.2 1461.4C876.6 1461.6 877.3 1462.3 877.7 1462.7C878.1 1463.1 878.8 1463.9 879.2 1464.3C879.6 1464.7 880.3 1465.3 880.7 1465.5C881.1 1465.8 881.8 1465.9 882.2 1465.9C882.6 1465.9 883.3 1465.7 883.7 1465.5C884.1 1465.4 884.8 1464.9 885.2 1464.7C885.6 1464.5 886.3 1464.2 886.7 1464.1C887.1 1464 887.8 1463.9 888.2 1463.9C888.6 1464 889.3 1464.2 889.7 1464.4C890.1 1464.6 890.8 1465 891.2 1465.2C891.6 1465.4 892.3 1465.8 892.7 1465.9C893.1 1466.1 893.8 1466.2 894.2 1466.2C894.6 1466.1 895.3 1465.9 895.7 1465.7C896.1 1465.5 896.8 1464.9 897.2 1464.7C897.6 1464.4 898.3 1463.8 898.7 1463.6C899.1 1463.3 899.8 1463.1 900.2 1463C900.6 1463 901.3 1463.1 901.7 1463.3C902.1 1463.5 902.8 1464 903.2 1464.3C903.6 1464.6 904.3 1465.1 904.7 1465.3C905.1 1465.5 905.8 1465.8 906.2 1465.8C906.6 1465.8 907.3 1465.5 907.7 1465.3C908.1 1465.1 908.8 1464.5 909.2 1464.2C909.6 1463.9 910.3 1463.3 910.7 1463.1C911.1 1462.8 911.8 1462.6 912.2 1462.6C912.6 1462.6 913.3 1462.9 913.7 1463.1C914.1 1463.4 914.8 1464 915.2 1464.3C915.6 1464.6 916.3 1465.2 916.7 1465.4C917.1 1465.7 917.8 1465.9 918.2 1466C918.6 1466 919.3 1465.8 919.7 1465.7C920.1 1465.5 920.8 1465.1 921.2 1464.8C921.6 1464.6 922.3 1464.1 922.7 1463.9C923.1 1463.7 923.8 1463.4 924.2 1463.4C924.6 1463.4 925.3 1463.5 925.7 1463.6C926.1 1463.7 926.8 1464.2 927.2 1464.4C927.6 1464.6 928.3 1465.1 928.7 1465.3C929.1 1465.5 929.8 1465.8 930.2 1465.8C930.6 1465.8 931.3 1465.7 931.7 1465.4C932.1 1465.2 932.8 1464.6 933.2 1464.1C933.6 1463.7 934.3 1462.9 934.7 1462.5C935.1 1462.1 935.8 1461.4 936.2 1461.2C936.6 1461 937.3 1460.9 937.7 1461.1C938.1 1461.2 938.8 1461.7 939.2 1462.1C939.6 1462.5 940.3 1463.3 940.7 1463.7C941.1 1464 941.8 1464.6 942.2 1464.6C942.6 1464.7 943.3 1464.5 943.7 1464.2C944.1 1463.8 944.8 1462.8 945.2 1462.2C945.6 1461.5 946.3 1460.2 946.7 1459.6C947.1 1459 947.8 1458.2 948.2 1457.9C948.6 1457.7 949.3 1457.8 949.7 1458C950.1 1458.3 950.8 1459.3 951.2 1459.9C951.6 1460.5 952.3 1461.8 952.7 1462.4C953.1 1463 953.8 1463.8 954.2 1464C954.6 1464.2 955.3 1464.2 955.7 1463.9C956.1 1463.6 956.8 1462.7 957.2 1462.1C957.6 1461.6 958.3 1460.4 958.7 1460C959.1 1459.5 959.8 1458.8 960.2 1458.7C960.6 1458.6 961.3 1458.8 961.7 1459.1C962.1 1459.4 962.8 1460.4 963.2 1461C963.6 1461.6 964.3 1462.7 964.7 1463.2C965.1 1463.8 965.8 1464.5 966.2 1464.8C966.6 1465 967.3 1465 967.7 1464.9C968.1 1464.7 968.8 1464.1 969.2 1463.8C969.6 1463.4 970.3 1462.6 970.7 1462.3C971.1 1461.9 971.8 1461.4 972.2 1461.3C972.6 1461.2 973.3 1461.2 973.7 1461.4C974.1 1461.6 974.8 1462.2 975.2 1462.6C975.6 1462.9 976.3 1463.7 976.7 1464.1C977.1 1464.5 977.8 1465.1 978.2 1465.3C978.6 1465.4 979.3 1465.5 979.7 1465.4C980.1 1465.2 980.8 1464.7 981.2 1464.4C981.6 1464 982.3 1463.3 982.7 1462.9C983.1 1462.5 983.8 1461.9 984.2 1461.7C984.6 1461.5 985.3 1461.4 985.7 1461.5C986.1 1461.6 986.8 1462.1 987.2 1462.4C987.6 1462.8 988.3 1463.6 988.7 1463.9C989.1 1464.3 989.8 1465 990.2 1465.2C990.6 1465.4 991.3 1465.5 991.7 1465.4C992.1 1465.4 992.8 1464.9 993.2 1464.6C993.6 1464.4 994.3 1463.7 994.7 1463.4C995.1 1463.1 995.8 1462.6 996.2 1462.5C996.6 1462.4 997.3 1462.4 997.7 1462.5C998.1 1462.7 998.8 1463.1 999.2 1463.5C999.6 1463.8 1000.3 1464.5 1000.7 1464.8C1001.1 1465.1 1001.8 1465.6 1002.2 1465.8C1002.6 1466 1003.3 1466.2 1003.7 1466.2C1004.1 1466.2 1004.8 1466 1005.2 1465.9C1005.6 1465.7 1006.3 1465.4 1006.7 1465.3C1007.1 1465.2 1007.8 1465 1008.2 1464.9C1008.6 1464.9 1009.3 1464.9 1009.7 1465C1010.1 1465.1 1010.8 1465.3 1011.2 1465.4C1011.6 1465.6 1012.3 1465.9 1012.7 1466C1013.1 1466.2 1013.8 1466.4 1014.2 1466.5C1014.6 1466.6 1015.3 1466.7 1015.7 1466.6C1016.1 1466.6 1016.8 1466.5 1017.2 1466.4C1017.6 1466.2 1018.3 1465.9 1018.7 1465.7C1019.1 1465.5 1019.8 1465.2 1020.2 1465C1020.6 1464.8 1021.3 1464.6 1021.7 1464.5C1022.1 1464.4 1022.8 1464.4 1023.2 1464.5C1023.6 1464.6 1024.3 1464.9 1024.7 1465C1025.1 1465.2 1025.8 1465.6 1026.2 1465.7C1026.6 1465.8 1027.3 1466 1027.7 1465.9C1028.1 1465.9 1028.8 1465.6 1029.2 1465.4C1029.6 1465.1 1030.3 1464.4 1030.7 1464C1031.1 1463.6 1031.8 1462.9 1032.2 1462.5C1032.6 1462.2 1033.3 1461.8 1033.7 1461.7C1034.1 1461.6 1034.8 1461.8 1035.2 1462C1035.6 1462.2 1036.3 1462.8 1036.7 1463.2C1037.1 1463.6 1037.8 1464.3 1038.2 1464.6C1038.6 1464.9 1039.3 1465.3 1039.7 1465.3C1040.1 1465.3 1040.8 1465 1041.2 1464.8C1041.6 1464.5 1042.3 1463.7 1042.7 1463.3C1043.1 1462.9 1043.8 1462.1 1044.2 1461.8C1044.6 1461.5 1045.3 1461.2 1045.7 1461.2C1046.1 1461.2 1046.8 1461.4 1047.2 1461.7C1047.6 1462 1048.3 1462.8 1048.7 1463.2C1049.1 1463.6 1049.8 1464.4 1050.2 1464.7C1050.6 1465 1051.3 1465.4 1051.7 1465.5C1052.1 1465.6 1052.8 1465.4 1053.2 1465.2C1053.6 1465 1054.3 1464.4 1054.7 1464C1055.1 1463.7 1055.8 1463 1056.2 1462.8C1056.6 1462.5 1057.3 1462.1 1057.7 1462.1C1058.1 1462 1058.8 1462.2 1059.2 1462.4C1059.6 1462.6 1060.3 1463.2 1060.7 1463.5C1061.1 1463.8 1061.4 1465.2 1062.2 1464.8C1063 1464.4 1064.7 1463 1066.4 1460.8C1068.1 1458.5 1071.9 1454.3 1074.4 1448.7C1077 1443.1 1081.9 1427.9 1084.5 1420.7C1087 1413.4 1090.2 1403.3 1092.5 1396.6C1094.7 1389.9 1098.3 1378.7 1100.5 1372.5C1102.7 1366.4 1106.3 1359.2 1108.5 1352.5C1110.8 1345.7 1114.6 1330.3 1116.5 1324.4C1118.5 1318.5 1121 1314 1122.6 1310.4C1124.1 1306.8 1126.2 1300.6 1127.6 1298.7C1129 1296.9 1131.2 1297.1 1132.6 1297.1C1134 1297.1 1136.2 1296.6 1137.6 1298.7C1139 1300.9 1141.1 1307.7 1142.6 1312.4C1144.2 1317.1 1146.9 1326.3 1148.6 1332.4C1150.3 1338.6 1153 1349.8 1154.6 1356.5C1156.3 1363.2 1159 1374.4 1160.7 1380.6C1162.3 1386.7 1165 1394.4 1166.7 1400.6C1168.4 1406.8 1170.7 1417.9 1172.7 1424.7C1174.6 1431.4 1178.7 1443.1 1180.7 1448.7C1182.7 1454.3 1185.5 1462.4 1186.7 1464.8C1188 1467.1 1189.1 1465.7 1189.7 1465.7C1190.3 1465.7 1190.8 1465.1 1191.2 1464.9C1191.6 1464.7 1192.3 1464.3 1192.7 1464.2C1193.1 1464.1 1193.8 1464.1 1194.2 1464.2C1194.6 1464.2 1195.3 1464.5 1195.7 1464.7C1196.1 1464.9 1196.8 1465.3 1197.2 1465.5C1197.6 1465.7 1198.3 1466 1198.7 1466.1C1199.1 1466.1 1199.8 1466 1200.2 1465.9C1200.6 1465.7 1201.3 1465.2 1201.7 1464.9C1202.1 1464.5 1202.8 1463.8 1203.2 1463.5C1203.6 1463.1 1204.3 1462.6 1204.7 1462.4C1205.1 1462.3 1205.8 1462.2 1206.2 1462.4C1206.6 1462.5 1207.3 1463 1207.7 1463.3C1208.1 1463.7 1208.8 1464.4 1209.2 1464.6C1209.6 1464.9 1210.3 1465.3 1210.7 1465.3C1211.1 1465.3 1211.8 1465 1212.2 1464.7C1212.6 1464.4 1213.3 1463.5 1213.7 1463C1214.1 1462.6 1214.8 1461.6 1215.2 1461.3C1215.6 1460.9 1216.3 1460.6 1216.7 1460.6C1217.1 1460.6 1217.8 1461 1218.2 1461.4C1218.6 1461.7 1219.3 1462.7 1219.7 1463.2C1220.1 1463.6 1220.8 1464.5 1221.2 1464.8C1221.6 1465.1 1222.3 1465.4 1222.7 1465.4C1223.1 1465.4 1223.8 1465 1224.2 1464.7C1224.6 1464.5 1225.3 1463.8 1225.7 1463.5C1226.1 1463.3 1226.8 1462.8 1227.2 1462.7C1227.6 1462.7 1228.3 1462.8 1228.7 1462.9C1229.1 1463.1 1229.8 1463.6 1230.2 1464C1230.6 1464.3 1231.3 1464.9 1231.7 1465.2C1232.1 1465.5 1232.8 1466 1233.2 1466.1C1233.6 1466.3 1234.3 1466.3 1234.7 1466.3C1235.1 1466.2 1235.8 1466 1236.2 1465.8C1236.6 1465.7 1237.3 1465.4 1237.7 1465.2C1238.1 1465.1 1238.8 1464.8 1239.2 1464.8C1239.6 1464.7 1240.3 1464.7 1240.7 1464.8C1241.1 1464.9 1241.8 1465.1 1242.2 1465.3C1242.6 1465.4 1243.3 1465.8 1243.7 1465.9C1244.1 1466.1 1244.8 1466.3 1245.2 1466.3C1245.6 1466.4 1246.3 1466.3 1246.7 1466.2C1247.1 1466.1 1247.8 1465.7 1248.2 1465.4C1248.6 1465.2 1249.3 1464.7 1249.7 1464.4C1250.1 1464.2 1250.8 1463.9 1251.2 1463.8C1251.6 1463.7 1252.3 1463.7 1252.7 1463.9C1253.1 1464 1253.8 1464.4 1254.2 1464.6C1254.6 1464.9 1255.3 1465.4 1255.7 1465.6C1256.1 1465.8 1256.8 1466 1257.2 1466C1257.6 1466.1 1258.3 1465.9 1258.7 1465.7C1259.1 1465.5 1259.8 1465 1260.2 1464.8C1260.6 1464.5 1261.3 1464 1261.7 1463.8C1262.1 1463.6 1262.8 1463.5 1263.2 1463.5C1263.6 1463.5 1264.3 1463.8 1264.7 1464C1265.1 1464.2 1265.8 1464.7 1266.2 1464.9C1266.6 1465.2 1267.3 1465.7 1267.7 1465.8C1268.1 1466 1268.8 1466.1 1269.2 1466.1C1269.6 1466 1270.3 1465.7 1270.7 1465.5C1271.1 1465.2 1271.8 1464.7 1272.2 1464.3C1272.6 1464 1273.3 1463.4 1273.7 1463.2C1274.1 1463 1274.8 1462.7 1275.2 1462.7C1275.6 1462.7 1276.3 1463 1276.7 1463.2C1277.1 1463.4 1277.8 1464 1278.2 1464.3C1278.6 1464.6 1279.3 1465.1 1279.7 1465.2C1280.1 1465.4 1280.8 1465.4 1281.2 1465.2C1281.6 1465 1282.3 1464.3 1282.7 1463.8C1283.1 1463.3 1283.8 1462.2 1284.2 1461.7C1284.6 1461.1 1285.3 1460.2 1285.7 1459.9C1286.1 1459.7 1286.8 1459.6 1287.2 1459.7C1287.6 1459.9 1288.3 1460.6 1288.7 1461.1C1289.1 1461.6 1289.8 1462.7 1290.2 1463.2C1290.6 1463.7 1291.3 1464.4 1291.7 1464.5C1292.1 1464.7 1292.8 1464.5 1293.2 1464.2C1293.6 1463.9 1294.3 1463 1294.7 1462.5C1295.1 1461.9 1295.8 1460.9 1296.2 1460.5C1296.6 1460.1 1297.3 1459.7 1297.7 1459.7C1298.1 1459.7 1298.8 1460.1 1299.2 1460.5C1299.6 1460.9 1300.3 1462 1300.7 1462.6C1301.1 1463.1 1301.8 1464.1 1302.2 1464.5C1302.6 1464.9 1303.3 1465.3 1303.7 1465.4C1304.1 1465.5 1304.8 1465.3 1305.2 1465.1C1305.6 1464.9 1306.3 1464.3 1306.7 1464.1C1307.1 1463.8 1307.8 1463.4 1308.2 1463.3C1308.6 1463.2 1309.3 1463.2 1309.7 1463.3C1310.1 1463.4 1310.8 1463.8 1311.2 1464C1311.6 1464.3 1312.3 1464.8 1312.7 1465.1C1313.1 1465.4 1313.8 1465.8 1314.2 1466C1314.6 1466.1 1315.3 1466.3 1315.7 1466.2C1316.1 1466.2 1316.8 1466 1317.2 1465.8C1317.6 1465.6 1318.3 1465.1 1318.7 1464.8C1319.1 1464.6 1319.8 1464.1 1320.2 1464C1320.6 1463.8 1321.3 1463.6 1321.7 1463.7C1322.1 1463.7 1322.8 1463.9 1323.2 1464.1C1323.6 1464.3 1324.3 1464.8 1324.7 1465C1325.1 1465.3 1325.8 1465.7 1326.2 1465.8C1326.6 1465.9 1327.3 1465.9 1327.7 1465.8C1328.1 1465.7 1328.8 1465.2 1329.2 1464.9C1329.6 1464.6 1330.3 1463.9 1330.7 1463.6C1331.1 1463.3 1331.8 1462.9 1332.2 1462.7C1332.6 1462.6 1333.3 1462.7 1333.7 1462.8C1334.1 1463 1334.8 1463.5 1335.2 1463.8C1335.6 1464.1 1336.3 1464.8 1336.7 1465.1C1337.1 1465.3 1337.8 1465.7 1338.2 1465.8C1338.6 1465.9 1339.3 1465.8 1339.7 1465.7C1340.1 1465.5 1340.8 1465 1341.2 1464.7C1341.6 1464.4 1342.3 1463.8 1342.7 1463.6C1343.1 1463.3 1343.8 1463 1344.2 1462.9C1344.6 1462.9 1345.3 1463 1345.7 1463.2C1346.1 1463.3 1346.8 1463.8 1347.2 1464.1C1347.6 1464.4 1348.3 1465 1348.7 1465.2C1349.1 1465.4 1349.8 1465.7 1350.2 1465.6C1350.6 1465.6 1351.3 1465.3 1351.7 1465C1352.1 1464.6 1352.8 1463.8 1353.2 1463.3C1353.6 1462.8 1354.3 1461.8 1354.7 1461.3C1355.1 1460.9 1355.8 1460.3 1356.2 1460.2C1356.6 1460.1 1357.3 1460.3 1357.7 1460.6C1358.1 1460.9 1358.8 1461.8 1359.2 1462.2C1359.6 1462.7 1360.3 1463.6 1360.7 1463.9C1361.1 1464.2 1361.8 1464.5 1362.2 1464.3C1362.6 1464.2 1363.3 1463.4 1363.7 1462.8C1364.1 1462.2 1365 1460.5 1365.2 1460.1" stroke="#000000"/><path d="M577.7 1468.3C577.7 1467 577.5 1460.3 577.7 1459.3C577.9 1458.4 578.8 1461.4 579.2 1461.5C579.6 1461.7 580.3 1461.1 580.7 1460.4C581.1 1459.7 581.8 1457.7 582.2 1456.6C582.6 1455.5 583.3 1453.2 583.7 1452.2C584.1 1451.3 584.8 1450 585.2 1449.8C585.6 1449.6 586.3 1450.1 586.7 1450.7C587.1 1451.4 587.8 1453.3 588.2 1454.5C588.6 1455.7 589.3 1458 589.7 1459C590.1 1460.1 590.8 1461.5 591.2 1461.9C591.6 1462.3 592.3 1462.2 592.7 1461.8C593.1 1461.5 593.8 1460.1 594.2 1459.4C594.6 1458.6 595.3 1457 595.7 1456.4C596.1 1455.7 596.8 1454.9 597.2 1454.8C597.6 1454.7 598.3 1455.2 598.7 1455.7C599.1 1456.2 599.8 1457.7 600.2 1458.6C600.6 1459.4 601.3 1461.1 601.7 1461.8C602.1 1462.6 602.8 1463.7 603.2 1464.1C603.6 1464.5 604.3 1464.7 604.7 1464.6C605.1 1464.6 605.8 1464 606.2 1463.7C606.6 1463.4 607.3 1462.7 607.7 1462.3C608.1 1462 608.8 1461.5 609.2 1461.4C609.6 1461.2 610.3 1461.2 610.7 1461.3C611.1 1461.4 611.8 1461.8 612.2 1462.2C612.6 1462.5 613.3 1463.2 613.7 1463.5C614.1 1463.9 614.8 1464.5 615.2 1464.7C615.6 1464.9 616.3 1465.1 616.7 1465C617.1 1464.9 617.8 1464.4 618.2 1463.9C618.6 1463.3 619.3 1462.1 619.7 1461.3C620.1 1460.6 620.8 1459.1 621.2 1458.3C621.6 1457.6 622.3 1456.6 622.7 1456.3C623.1 1455.9 623.8 1455.9 624.2 1456.2C624.6 1456.4 625.3 1457.5 625.7 1458.2C626.1 1458.8 626.8 1460.3 627.2 1460.8C627.6 1461.4 628.3 1462.2 628.7 1462.1C629.1 1462.1 629.8 1461.3 630.2 1460.4C630.6 1459.6 631.3 1457.3 631.7 1455.9C632.1 1454.6 632.8 1451.8 633.2 1450.6C633.6 1449.4 634.3 1447.7 634.7 1447.3C635.1 1446.9 635.8 1447.2 636.2 1447.9C636.6 1448.5 637.3 1450.6 637.7 1451.9C638.1 1453.2 638.8 1455.9 639.2 1457.1C639.6 1458.2 640.3 1459.9 640.7 1460.3C641.1 1460.6 641.8 1460.3 642.2 1459.7C642.6 1459 643.3 1457 643.7 1455.8C644.1 1454.5 644.8 1452 645.2 1451C645.6 1449.9 646.3 1448.4 646.7 1448.2C647.1 1447.9 647.8 1448.4 648.2 1449C648.6 1449.7 649.3 1451.8 649.7 1453.1C650.1 1454.3 650.8 1456.9 651.2 1458.1C651.6 1459.3 652.3 1461 652.7 1461.5C653.1 1462.1 653.8 1462.3 654.2 1462C654.6 1461.8 655.3 1460.6 655.7 1459.9C656.1 1459.1 656.8 1457.4 657.2 1456.7C657.6 1455.9 658.3 1454.8 658.7 1454.5C659.1 1454.2 659.8 1454.2 660.2 1454.5C660.6 1454.9 661.3 1456 661.7 1456.8C662.1 1457.6 662.8 1459.3 663.2 1460.1C663.6 1460.9 664.3 1462.3 664.7 1462.8C665.1 1463.3 665.8 1463.6 666.2 1463.5C666.6 1463.4 667.3 1462.7 667.7 1462.1C668.1 1461.5 668.8 1460.1 669.2 1459.3C669.6 1458.6 670.3 1457.3 670.7 1456.8C671.1 1456.3 671.8 1455.8 672.2 1455.9C672.6 1455.9 673.3 1456.6 673.7 1457.1C674.1 1457.7 674.8 1459.1 675.2 1459.9C675.6 1460.6 676.3 1462 676.7 1462.6C677.1 1463.1 677.8 1463.7 678.2 1463.7C678.6 1463.8 679.3 1463.3 679.7 1462.8C680.1 1462.4 680.8 1461.1 681.2 1460.5C681.6 1459.8 682.3 1458.6 682.7 1458.2C683.1 1457.7 683.8 1457.3 684.2 1457.3C684.6 1457.3 685.3 1457.8 685.7 1458.3C686.1 1458.8 686.8 1460 687.2 1460.7C687.6 1461.4 688.3 1462.7 688.7 1463.2C689.1 1463.7 689.8 1464.4 690.2 1464.6C690.6 1464.7 691.3 1464.6 691.7 1464.4C692.1 1464.1 692.8 1463.4 693.2 1463C693.6 1462.5 694.3 1461.7 694.7 1461.3C695.1 1460.9 695.8 1460.4 696.2 1460.3C696.6 1460.2 697.3 1460.3 697.7 1460.6C698.1 1460.8 698.8 1461.4 699.2 1461.9C699.6 1462.3 700.3 1463.1 700.7 1463.5C701.1 1463.9 701.8 1464.5 702.2 1464.7C702.6 1464.8 703.3 1464.8 703.7 1464.5C704.1 1464.2 704.8 1463.4 705.2 1462.8C705.6 1462.1 706.3 1460.7 706.7 1460C707.1 1459.2 707.8 1457.9 708.2 1457.3C708.6 1456.8 709.3 1456.2 709.7 1456.2C710.1 1456.1 710.8 1456.6 711.2 1457.1C711.6 1457.6 712.3 1458.9 712.7 1459.6C713.1 1460.3 713.8 1461.6 714.2 1461.9C714.6 1462.3 715.3 1462.6 715.7 1462.2C716.1 1461.9 716.8 1460.6 717.2 1459.6C717.6 1458.6 718.3 1456.2 718.7 1454.9C719.1 1453.6 719.8 1451.3 720.2 1450.4C720.6 1449.6 721.3 1448.6 721.7 1448.6C722.1 1448.6 722.8 1449.6 723.2 1450.5C723.6 1451.3 724.3 1453.7 724.7 1454.9C725.1 1456.1 725.8 1458.4 726.2 1459.3C726.6 1460.2 727.3 1461.1 727.7 1461.1C728.1 1461 728.8 1460.1 729.2 1459.2C729.6 1458.4 730.3 1456.2 730.7 1455C731.1 1453.9 731.8 1451.8 732.2 1451.1C732.6 1450.4 733.3 1449.7 733.7 1449.9C734.1 1450 734.8 1451.1 735.2 1452C735.6 1452.9 736.3 1455.2 736.7 1456.4C737.1 1457.6 737.8 1459.7 738.2 1460.7C738.6 1461.6 739.3 1462.6 739.7 1462.9C740.1 1463.1 740.8 1462.8 741.2 1462.5C741.6 1462.1 742.3 1461 742.7 1460.4C743.1 1459.8 743.8 1458.6 744.2 1458.2C744.6 1457.8 745.3 1457.4 745.7 1457.4C746.1 1457.5 746.8 1458 747.2 1458.5C747.6 1458.9 748.3 1460.1 748.7 1460.8C749.1 1461.4 749.8 1462.6 750.2 1463.2C750.6 1463.7 751.3 1464.5 751.7 1464.7C752.1 1464.9 752.8 1464.8 753.2 1464.6C753.6 1464.4 754.3 1463.7 754.7 1463.3C755.1 1462.8 755.8 1461.9 756.2 1461.4C756.6 1460.9 757.3 1460.2 757.7 1459.9C758.1 1459.7 758.8 1459.6 759.2 1459.7C759.6 1459.8 760.3 1460.4 760.7 1460.8C761.1 1461.2 761.8 1462.2 762.2 1462.7C762.6 1463.2 763.3 1464 763.7 1464.2C764.1 1464.5 764.8 1464.6 765.2 1464.4C765.6 1464.2 766.3 1463.5 766.7 1463C767.1 1462.4 767.8 1461.2 768.2 1460.6C768.6 1459.9 769.3 1458.8 769.7 1458.5C770.1 1458.1 770.8 1457.8 771.2 1457.8C771.6 1457.9 772.3 1458.5 772.7 1459C773.1 1459.5 773.8 1460.8 774.2 1461.4C774.6 1462 775.3 1463.1 775.7 1463.5C776.1 1463.9 776.8 1464.3 777.2 1464.3C777.6 1464.2 778.3 1463.7 778.7 1463.2C779.1 1462.8 779.8 1461.6 780.2 1461C780.6 1460.4 781.3 1459.4 781.7 1458.9C782.1 1458.5 782.8 1458.1 783.2 1458.1C783.6 1458.1 784.3 1458.5 784.7 1458.9C785.1 1459.3 785.8 1460.4 786.2 1461C786.6 1461.6 787.3 1462.7 787.7 1463.2C788.1 1463.6 788.8 1464.2 789.2 1464.2C789.6 1464.2 790.3 1463.8 790.7 1463.4C791.1 1462.9 791.8 1461.7 792.2 1460.9C792.6 1460.2 793.3 1458.6 793.7 1457.9C794.1 1457.2 794.8 1456.1 795.2 1455.8C795.6 1455.5 796.3 1455.5 796.7 1455.8C797.1 1456.1 797.8 1457.1 798.2 1457.8C798.6 1458.5 799.3 1460 799.7 1460.6C800.1 1461.3 800.8 1462.3 801.2 1462.5C801.6 1462.7 802.3 1462.4 802.7 1461.9C803.1 1461.3 803.8 1459.6 804.2 1458.5C804.6 1457.5 805.3 1455.1 805.7 1454C806.1 1452.9 806.8 1451.2 807.2 1450.7C807.6 1450.2 808.3 1450 808.7 1450.3C809.1 1450.7 809.8 1452.2 810.2 1453.2C810.6 1454.2 811.3 1456.5 811.7 1457.6C812.1 1458.7 812.8 1460.5 813.2 1461C813.6 1461.5 814.3 1461.7 814.7 1461.4C815.1 1461.1 815.8 1459.6 816.2 1458.7C816.6 1457.8 817.3 1455.7 817.7 1454.8C818.1 1453.8 818.8 1452.4 819.2 1452C819.6 1451.6 820.3 1451.7 820.7 1452.1C821.1 1452.6 821.8 1454.1 822.2 1455.1C822.6 1456.1 823.3 1458.2 823.7 1459.2C824.1 1460.3 824.8 1461.9 825.2 1462.5C825.6 1463.1 826.3 1463.6 826.7 1463.6C827.1 1463.7 827.8 1463.1 828.2 1462.7C828.6 1462.3 829.3 1461.4 829.7 1460.9C830.1 1460.5 830.8 1459.9 831.2 1459.7C831.6 1459.6 832.3 1459.7 832.7 1459.9C833.1 1460.1 833.8 1460.9 834.2 1461.4C834.6 1461.8 835.3 1462.8 835.7 1463.3C836.1 1463.8 836.8 1464.6 837.2 1464.9C837.6 1465.3 838.3 1465.6 838.7 1465.6C839.1 1465.7 839.8 1465.5 840.2 1465.3C840.6 1465.1 841.3 1464.5 841.7 1464.1C842.1 1463.8 842.8 1463.1 843.2 1462.8C843.6 1462.5 844.3 1462 844.7 1461.9C845.1 1461.8 845.8 1461.8 846.2 1461.9C846.6 1462 847.3 1462.5 847.7 1462.8C848.1 1463.1 848.8 1463.8 849.2 1464.1C849.6 1464.4 850.3 1464.8 850.7 1464.9C851.1 1464.9 851.8 1464.7 852.2 1464.3C852.6 1464 853.3 1463 853.7 1462.4C854.1 1461.7 854.8 1460.4 855.2 1459.7C855.6 1459 856.3 1458 856.7 1457.6C857.1 1457.3 857.8 1457.1 858.2 1457.3C858.6 1457.5 859.3 1458.3 859.7 1458.9C860.1 1459.4 860.8 1460.8 861.2 1461.4C861.6 1462 862.3 1463 862.7 1463.3C863.1 1463.6 863.8 1463.6 864.2 1463.3C864.6 1463 865.3 1461.9 865.7 1461.2C866.1 1460.4 866.8 1458.8 867.2 1458C867.6 1457.3 868.3 1456 868.7 1455.6C869.1 1455.2 869.8 1455.1 870.2 1455.3C870.6 1455.5 871.3 1456.4 871.7 1457.1C872.1 1457.8 872.8 1459.4 873.2 1460.2C873.6 1461 874.3 1462.3 874.7 1462.7C875.1 1463.1 875.8 1463.4 876.2 1463.3C876.6 1463.1 877.3 1462.3 877.7 1461.6C878.1 1460.9 878.8 1459.3 879.2 1458.4C879.6 1457.5 880.3 1456 880.7 1455.4C881.1 1454.9 881.8 1454.2 882.2 1454.2C882.6 1454.2 883.3 1454.9 883.7 1455.5C884.1 1456.1 884.8 1457.6 885.2 1458.4C885.6 1459.3 886.3 1460.8 886.7 1461.4C887.1 1462 887.8 1462.7 888.2 1462.6C888.6 1462.5 889.3 1461.8 889.7 1461C890.1 1460.3 890.8 1458.3 891.2 1457.2C891.6 1456.1 892.3 1454 892.7 1453.2C893.1 1452.3 893.8 1451.2 894.2 1451C894.6 1450.8 895.3 1451.3 895.7 1452C896.1 1452.6 896.8 1454.4 897.2 1455.5C897.6 1456.6 898.3 1458.7 898.7 1459.6C899.1 1460.5 899.8 1461.7 900.2 1461.9C900.6 1462.1 901.3 1461.6 901.7 1461.1C902.1 1460.5 902.8 1458.8 903.2 1457.8C903.6 1456.8 904.3 1454.9 904.7 1454.2C905.1 1453.4 905.8 1452.5 906.2 1452.4C906.6 1452.4 907.3 1453 907.7 1453.6C908.1 1454.3 908.8 1456.1 909.2 1457.1C909.6 1458.1 910.3 1460.1 910.7 1461C911.1 1461.8 911.8 1463 912.2 1463.4C912.6 1463.8 913.3 1463.8 913.7 1463.7C914.1 1463.5 914.8 1462.8 915.2 1462.4C915.6 1462 916.3 1461.1 916.7 1460.8C917.1 1460.5 917.8 1460.2 918.2 1460.2C918.6 1460.2 919.3 1460.6 919.7 1460.9C920.1 1461.3 920.8 1462.1 921.2 1462.6C921.6 1463.1 922.3 1464 922.7 1464.4C923.1 1464.8 923.8 1465.4 924.2 1465.6C924.6 1465.8 925.3 1465.9 925.7 1465.8C926.1 1465.8 926.8 1465.5 927.2 1465.2C927.6 1465 928.3 1464.4 928.7 1464.1C929.1 1463.8 929.8 1463.2 930.2 1462.9C930.6 1462.6 931.3 1462.3 931.7 1462.2C932.1 1462.1 932.8 1462.2 933.2 1462.3C933.6 1462.5 934.3 1463 934.7 1463.3C935.1 1463.5 935.8 1464.2 936.2 1464.4C936.6 1464.6 937.3 1464.8 937.7 1464.7C938.1 1464.5 938.8 1463.9 939.2 1463.4C939.6 1462.8 940.3 1461.4 940.7 1460.5C941.1 1459.7 941.8 1458 942.2 1457.3C942.6 1456.5 943.3 1455.4 943.7 1455.2C944.1 1454.9 944.8 1455.1 945.2 1455.5C945.6 1455.8 946.3 1457.1 946.7 1457.9C947.1 1458.6 947.8 1460.2 948.2 1460.9C948.6 1461.5 949.3 1462.4 949.7 1462.5C950.1 1462.5 950.8 1461.9 951.2 1461.3C951.6 1460.6 952.3 1458.8 952.7 1457.7C953.1 1456.7 953.8 1454.5 954.2 1453.6C954.6 1452.7 955.3 1451.5 955.7 1451.3C956.1 1451.1 956.8 1451.4 957.2 1452C957.6 1452.6 958.3 1454.3 958.7 1455.4C959.1 1456.4 959.8 1458.5 960.2 1459.5C960.6 1460.4 961.3 1461.7 961.7 1462.1C962.1 1462.4 962.8 1462.2 963.2 1461.8C963.6 1461.4 964.3 1459.9 964.7 1459C965.1 1458.1 965.8 1456.2 966.2 1455.3C966.6 1454.5 967.3 1453.3 967.7 1453C968.1 1452.7 968.8 1452.8 969.2 1453.2C969.6 1453.7 970.3 1455 970.7 1455.9C971.1 1456.8 971.8 1458.7 972.2 1459.6C972.6 1460.5 973.3 1461.9 973.7 1462.3C974.1 1462.8 974.8 1462.9 975.2 1462.7C975.6 1462.4 976.3 1461.3 976.7 1460.5C977.1 1459.7 977.8 1457.9 978.2 1457.1C978.6 1456.2 979.3 1454.7 979.7 1454.2C980.1 1453.7 980.8 1453.4 981.2 1453.6C981.6 1453.8 982.3 1454.8 982.7 1455.6C983.1 1456.3 983.8 1458.1 984.2 1459C984.6 1459.9 985.3 1461.5 985.7 1462C986.1 1462.6 986.8 1463.1 987.2 1463C987.6 1462.9 988.3 1462.1 988.7 1461.5C989.1 1460.9 989.8 1459.4 990.2 1458.6C990.6 1457.9 991.3 1456.6 991.7 1456.2C992.1 1455.8 992.8 1455.5 993.2 1455.6C993.6 1455.8 994.3 1456.7 994.7 1457.4C995.1 1458 995.8 1459.6 996.2 1460.4C996.6 1461.2 997.3 1462.6 997.7 1463.2C998.1 1463.7 998.8 1464.3 999.2 1464.5C999.6 1464.6 1000.3 1464.3 1000.7 1464.1C1001.1 1463.9 1001.8 1463.1 1002.2 1462.8C1002.6 1462.5 1003.3 1461.9 1003.7 1461.7C1004.1 1461.5 1004.8 1461.5 1005.2 1461.6C1005.6 1461.7 1006.3 1462.2 1006.7 1462.5C1007.1 1462.8 1007.8 1463.6 1008.2 1464C1008.6 1464.4 1009.3 1465 1009.7 1465.3C1010.1 1465.6 1010.8 1465.9 1011.2 1466C1011.6 1466.1 1012.3 1466.1 1012.7 1465.9C1013.1 1465.8 1013.8 1465.5 1014.2 1465.2C1014.6 1465 1015.3 1464.4 1015.7 1464.2C1016.1 1463.9 1016.8 1463.4 1017.2 1463.3C1017.6 1463.1 1018.3 1462.9 1018.7 1462.9C1019.1 1462.9 1019.8 1463.2 1020.2 1463.4C1020.6 1463.6 1021.3 1464.1 1021.7 1464.3C1022.1 1464.6 1022.8 1465 1023.2 1465.1C1023.6 1465.2 1024.3 1465.2 1024.7 1464.9C1025.1 1464.7 1025.8 1463.9 1026.2 1463.4C1026.6 1462.8 1027.3 1461.5 1027.7 1460.8C1028.1 1460.1 1028.8 1458.9 1029.2 1458.5C1029.6 1458 1030.3 1457.5 1030.7 1457.5C1031.1 1457.5 1031.8 1458 1032.2 1458.5C1032.6 1458.9 1033.3 1460.2 1033.7 1460.8C1034.1 1461.4 1034.8 1462.6 1035.2 1463C1035.6 1463.3 1036.3 1463.6 1036.7 1463.5C1037.1 1463.3 1037.8 1462.5 1038.2 1461.8C1038.6 1461.2 1039.3 1459.6 1039.7 1458.8C1040.1 1458 1040.8 1456.6 1041.2 1456.2C1041.6 1455.7 1042.3 1455.3 1042.7 1455.4C1043.1 1455.5 1043.8 1456.3 1044.2 1456.9C1044.6 1457.5 1045.3 1459.1 1045.7 1459.9C1046.1 1460.7 1046.8 1462.1 1047.2 1462.7C1047.6 1463.3 1048.3 1463.8 1048.7 1463.9C1049.1 1464 1049.8 1463.5 1050.2 1463.1C1050.6 1462.7 1051.3 1461.7 1051.7 1461.1C1052.1 1460.6 1052.8 1459.6 1053.2 1459.2C1053.6 1458.9 1054.3 1458.6 1054.7 1458.6C1055.1 1458.7 1055.8 1459.2 1056.2 1459.7C1056.6 1460.1 1057.3 1461.2 1057.7 1461.8C1058.1 1462.3 1058.8 1463.4 1059.2 1463.9C1059.6 1464.3 1060.3 1464.9 1060.7 1465C1061.1 1465.1 1061.8 1465 1062.2 1464.7C1062.6 1464.5 1063 1464 1063.7 1463.5C1064.4 1462.9 1065.9 1463.1 1067.4 1460.8C1068.9 1458.4 1072.6 1449.8 1074.4 1446.7C1076.3 1443.6 1078.8 1443.7 1080.5 1438.7C1082.1 1433.6 1084.5 1417.4 1086.5 1410.6C1088.4 1403.9 1092.5 1397.6 1094.5 1390.6C1096.5 1383.6 1098.8 1366.1 1100.5 1360.5C1102.2 1354.9 1104.8 1357.2 1106.5 1350.5C1108.2 1343.7 1110.8 1318.8 1112.5 1312.4C1114.2 1305.9 1117.1 1308.3 1118.5 1304.4C1119.9 1300.4 1121.3 1288.4 1122.6 1284.3C1123.8 1280.2 1126.2 1275.6 1127.6 1275.3C1129 1275 1131.2 1282.3 1132.6 1282.3C1134 1282.3 1136.2 1274.4 1137.6 1275.3C1139 1276.1 1141.1 1283.1 1142.6 1288.3C1144.2 1293.5 1146.9 1305.1 1148.6 1312.4C1150.3 1319.7 1153 1332.6 1154.6 1340.5C1156.3 1348.3 1158.7 1360.1 1160.7 1368.5C1162.6 1376.9 1166.4 1392.2 1168.7 1400.6C1170.9 1409 1174.4 1421.7 1176.7 1428.7C1178.9 1435.7 1182.7 1445.7 1184.7 1450.7C1186.7 1455.8 1189.5 1463 1190.7 1464.8C1192 1466.6 1193.1 1463.9 1193.7 1463.7C1194.4 1463.4 1194.8 1463.4 1195.2 1463C1195.6 1462.5 1196.3 1461.3 1196.7 1460.6C1197.1 1459.9 1197.8 1458.5 1198.2 1457.9C1198.6 1457.2 1199.3 1456.3 1199.7 1456.1C1200.1 1455.9 1200.8 1455.9 1201.2 1456.2C1201.6 1456.5 1202.3 1457.5 1202.7 1458.2C1203.1 1458.9 1203.8 1460.3 1204.2 1460.9C1204.6 1461.6 1205.3 1462.7 1205.7 1463C1206.1 1463.3 1206.8 1463.4 1207.2 1463.1C1207.6 1462.8 1208.3 1461.7 1208.7 1460.9C1209.1 1460.1 1209.8 1458.3 1210.2 1457.3C1210.6 1456.4 1211.3 1454.7 1211.7 1454C1212.1 1453.3 1212.8 1452.6 1213.2 1452.6C1213.6 1452.5 1214.3 1453.2 1214.7 1453.8C1215.1 1454.4 1215.8 1456.1 1216.2 1457C1216.6 1458 1217.3 1459.7 1217.7 1460.4C1218.1 1461.1 1218.8 1461.8 1219.2 1461.8C1219.6 1461.8 1220.3 1461 1220.7 1460.2C1221.1 1459.3 1221.8 1457.2 1222.2 1456C1222.6 1454.8 1223.3 1452.4 1223.7 1451.4C1224.1 1450.4 1224.8 1449.1 1225.2 1448.8C1225.6 1448.6 1226.3 1449 1226.7 1449.6C1227.1 1450.2 1227.8 1452.2 1228.2 1453.3C1228.6 1454.5 1229.3 1456.9 1229.7 1458C1230.1 1459.1 1230.8 1460.7 1231.2 1461.1C1231.6 1461.6 1232.3 1461.6 1232.7 1461.2C1233.1 1460.8 1233.8 1459.4 1234.2 1458.5C1234.6 1457.6 1235.3 1455.6 1235.7 1454.8C1236.1 1453.9 1236.8 1452.7 1237.2 1452.4C1237.6 1452.1 1238.3 1452.3 1238.7 1452.7C1239.1 1453.1 1239.8 1454.6 1240.2 1455.5C1240.6 1456.5 1241.3 1458.4 1241.7 1459.4C1242.1 1460.4 1242.8 1461.9 1243.2 1462.5C1243.6 1463.1 1244.3 1463.7 1244.7 1463.7C1245.1 1463.7 1245.8 1463.2 1246.2 1462.8C1246.6 1462.5 1247.3 1461.4 1247.7 1460.9C1248.1 1460.4 1248.8 1459.5 1249.2 1459.2C1249.6 1458.9 1250.3 1458.6 1250.7 1458.7C1251.1 1458.7 1251.8 1459.2 1252.2 1459.6C1252.6 1460 1253.3 1461 1253.7 1461.5C1254.1 1462.1 1254.8 1463.1 1255.2 1463.5C1255.6 1464 1256.3 1464.5 1256.7 1464.7C1257.1 1464.8 1257.8 1464.6 1258.2 1464.4C1258.6 1464.1 1259.3 1463.2 1259.7 1462.7C1260.1 1462.1 1260.8 1461 1261.2 1460.4C1261.6 1459.8 1262.3 1458.8 1262.7 1458.5C1263.1 1458.2 1263.8 1457.9 1264.2 1458C1264.6 1458.1 1265.3 1458.7 1265.7 1459.2C1266.1 1459.6 1266.8 1460.8 1267.2 1461.4C1267.6 1461.9 1268.3 1463 1268.7 1463.3C1269.1 1463.6 1269.8 1463.9 1270.2 1463.7C1270.6 1463.6 1271.3 1462.8 1271.7 1462.2C1272.1 1461.6 1272.8 1460.2 1273.2 1459.4C1273.6 1458.6 1274.3 1457.3 1274.7 1456.8C1275.1 1456.2 1275.8 1455.7 1276.2 1455.7C1276.6 1455.7 1277.3 1456.3 1277.7 1456.8C1278.1 1457.4 1278.8 1458.7 1279.2 1459.5C1279.6 1460.3 1280.3 1461.7 1280.7 1462.3C1281.1 1462.9 1281.8 1463.6 1282.2 1463.8C1282.6 1463.9 1283.3 1463.7 1283.7 1463.3C1284.1 1463 1284.8 1462 1285.2 1461.4C1285.6 1460.8 1286.3 1459.7 1286.7 1459.2C1287.1 1458.7 1287.8 1458.1 1288.2 1458C1288.6 1457.9 1289.3 1458.1 1289.7 1458.4C1290.1 1458.7 1290.8 1459.6 1291.2 1460.2C1291.6 1460.7 1292.3 1461.9 1292.7 1462.5C1293.1 1463 1293.8 1463.9 1294.2 1464.1C1294.6 1464.4 1295.3 1464.5 1295.7 1464.3C1296.1 1464.2 1296.8 1463.5 1297.2 1462.9C1297.6 1462.4 1298.3 1461.2 1298.7 1460.5C1299.1 1459.8 1299.8 1458.6 1300.2 1458C1300.6 1457.5 1301.3 1456.9 1301.7 1456.8C1302.1 1456.7 1302.8 1457 1303.2 1457.3C1303.6 1457.7 1304.3 1458.8 1304.7 1459.4C1305.1 1460.1 1305.8 1461.3 1306.2 1461.8C1306.6 1462.3 1307.3 1462.9 1307.7 1462.9C1308.1 1462.8 1308.8 1462.2 1309.2 1461.4C1309.6 1460.7 1310.3 1458.8 1310.7 1457.7C1311.1 1456.5 1311.8 1454.2 1312.2 1453.1C1312.6 1452 1313.3 1450.3 1313.7 1449.8C1314.1 1449.3 1314.8 1449.2 1315.2 1449.6C1315.6 1450 1316.3 1451.5 1316.7 1452.6C1317.1 1453.6 1317.8 1455.9 1318.2 1457C1318.6 1458 1319.3 1459.7 1319.7 1460.2C1320.1 1460.6 1320.8 1460.6 1321.2 1460.1C1321.6 1459.6 1322.3 1457.8 1322.7 1456.5C1323.1 1455.3 1323.8 1452.5 1324.2 1451.2C1324.6 1449.9 1325.3 1447.7 1325.7 1447C1326.1 1446.3 1326.8 1445.9 1327.2 1446.2C1327.6 1446.5 1328.3 1448.1 1328.7 1449.3C1329.1 1450.4 1329.8 1453.1 1330.2 1454.5C1330.6 1455.9 1331.3 1458.3 1331.7 1459.2C1332.1 1460.1 1332.8 1461 1333.2 1461.1C1333.6 1461.1 1334.3 1460.2 1334.7 1459.4C1335.1 1458.7 1335.8 1456.7 1336.2 1455.6C1336.6 1454.6 1337.3 1452.7 1337.7 1451.9C1338.1 1451.2 1338.8 1450.5 1339.2 1450.5C1339.6 1450.5 1340.3 1451.3 1340.7 1452.1C1341.1 1452.8 1341.8 1454.7 1342.2 1455.8C1342.6 1456.9 1343.3 1459 1343.7 1459.9C1344.1 1460.8 1344.8 1462 1345.2 1462.3C1345.6 1462.7 1346.3 1462.5 1346.7 1462.2C1347.1 1461.8 1347.8 1460.5 1348.2 1459.7C1348.6 1458.8 1349.3 1457.1 1349.7 1456.2C1350.1 1455.4 1350.8 1454.1 1351.2 1453.7C1351.6 1453.3 1352.3 1453.4 1352.7 1453.4C1353.1 1453.3 1353.8 1452.9 1354.2 1453.2C1354.6 1453.4 1355.3 1454.4 1355.7 1455.1C1356.1 1455.8 1356.8 1457.5 1357.2 1457.9C1357.6 1458.4 1358.3 1458.8 1358.7 1458.2C1359.1 1457.5 1359.8 1455.2 1360.2 1453.1C1360.6 1450.9 1361.3 1445.9 1361.7 1442.9C1362.1 1439.8 1362.8 1433.9 1363.2 1431.3C1363.6 1428.6 1364.3 1424.7 1364.7 1423.7C1365.1 1422.7 1366 1424.1 1366.2 1424.2" stroke="#ff0000"/><path d="M577.7 1468.3C577.7 1467.2 577.5 1461.6 577.7 1460.4C577.9 1459.2 578.8 1459.8 579.2 1459.9C579.6 1459.9 580.3 1460.5 580.7 1460.9C581.1 1461.3 581.8 1462.4 582.2 1462.9C582.6 1463.4 583.3 1464.4 583.7 1464.7C584.1 1465 584.8 1465.4 585.2 1465.4C585.6 1465.4 586.3 1465.1 586.7 1464.9C587.1 1464.7 587.8 1464.1 588.2 1463.8C588.6 1463.5 589.3 1463.1 589.7 1463C590.1 1462.9 590.8 1462.9 591.2 1463C591.6 1463.1 592.3 1463.5 592.7 1463.8C593.1 1464.1 593.8 1464.7 594.2 1465C594.6 1465.3 595.3 1465.8 595.7 1465.9C596.1 1466.1 596.8 1466.2 597.2 1466.2C597.6 1466.1 598.3 1465.9 598.7 1465.7C599.1 1465.5 599.8 1465 600.2 1464.8C600.6 1464.6 601.3 1464.2 601.7 1464C602.1 1463.9 602.8 1463.8 603.2 1463.8C603.6 1463.8 604.3 1464.1 604.7 1464.3C605.1 1464.5 605.8 1464.9 606.2 1465.2C606.6 1465.4 607.3 1465.8 607.7 1465.9C608.1 1466 608.8 1466.1 609.2 1466C609.6 1465.9 610.3 1465.6 610.7 1465.3C611.1 1465.1 611.8 1464.5 612.2 1464.2C612.6 1464 613.3 1463.6 613.7 1463.5C614.1 1463.4 614.8 1463.3 615.2 1463.5C615.6 1463.6 616.3 1464 616.7 1464.2C617.1 1464.5 617.8 1465.1 618.2 1465.3C618.6 1465.6 619.3 1466 619.7 1466.1C620.1 1466.2 620.8 1466.2 621.2 1466.1C621.6 1466.1 622.3 1465.8 622.7 1465.6C623.1 1465.4 623.8 1465 624.2 1464.9C624.6 1464.7 625.3 1464.5 625.7 1464.5C626.1 1464.4 626.8 1464.5 627.2 1464.6C627.6 1464.7 628.3 1465 628.7 1465.2C629.1 1465.4 629.8 1465.7 630.2 1465.9C630.6 1466.1 631.3 1466.3 631.7 1466.3C632.1 1466.4 632.8 1466.3 633.2 1466.2C633.6 1466.1 634.3 1465.7 634.7 1465.4C635.1 1465.2 635.8 1464.6 636.2 1464.3C636.6 1464 637.3 1463.6 637.7 1463.4C638.1 1463.3 638.8 1463.1 639.2 1463.2C639.6 1463.3 640.3 1463.6 640.7 1463.8C641.1 1464 641.8 1464.6 642.2 1464.8C642.6 1465.1 643.3 1465.4 643.7 1465.4C644.1 1465.5 644.8 1465.2 645.2 1464.9C645.6 1464.6 646.3 1463.8 646.7 1463.3C647.1 1462.8 647.8 1461.7 648.2 1461.3C648.6 1460.8 649.3 1460.2 649.7 1460C650.1 1459.9 650.8 1460.1 651.2 1460.4C651.6 1460.6 652.3 1461.5 652.7 1462C653.1 1462.5 653.8 1463.5 654.2 1463.9C654.6 1464.3 655.3 1464.8 655.7 1464.8C656.1 1464.8 656.8 1464.5 657.2 1464.2C657.6 1463.8 658.3 1462.9 658.7 1462.4C659.1 1461.9 659.8 1461 660.2 1460.7C660.6 1460.4 661.3 1460.2 661.7 1460.2C662.1 1460.3 662.8 1460.8 663.2 1461.2C663.6 1461.6 664.3 1462.6 664.7 1463.1C665.1 1463.6 665.8 1464.4 666.2 1464.8C666.6 1465.1 667.3 1465.4 667.7 1465.4C668.1 1465.4 668.8 1465.1 669.2 1464.9C669.6 1464.6 670.3 1463.9 670.7 1463.6C671.1 1463.3 671.8 1462.7 672.2 1462.5C672.6 1462.3 673.3 1462.2 673.7 1462.3C674.1 1462.3 674.8 1462.7 675.2 1463C675.6 1463.3 676.3 1463.9 676.7 1464.3C677.1 1464.6 677.8 1465.2 678.2 1465.4C678.6 1465.6 679.3 1465.8 679.7 1465.7C680.1 1465.6 680.8 1465.3 681.2 1465C681.6 1464.7 682.3 1464 682.7 1463.7C683.1 1463.3 683.8 1462.7 684.2 1462.5C684.6 1462.3 685.3 1462.2 685.7 1462.3C686.1 1462.3 686.8 1462.8 687.2 1463.1C687.6 1463.4 688.3 1464.1 688.7 1464.4C689.1 1464.7 689.8 1465.3 690.2 1465.5C690.6 1465.7 691.3 1465.8 691.7 1465.7C692.1 1465.6 692.8 1465.2 693.2 1465C693.6 1464.8 694.3 1464.2 694.7 1464C695.1 1463.7 695.8 1463.4 696.2 1463.3C696.6 1463.3 697.3 1463.4 697.7 1463.6C698.1 1463.7 698.8 1464.2 699.2 1464.5C699.6 1464.8 700.3 1465.3 700.7 1465.6C701.1 1465.8 701.8 1466.2 702.2 1466.3C702.6 1466.4 703.3 1466.5 703.7 1466.4C704.1 1466.4 704.8 1466.2 705.2 1466.1C705.6 1466 706.3 1465.7 706.7 1465.6C707.1 1465.5 707.8 1465.4 708.2 1465.4C708.6 1465.3 709.3 1465.4 709.7 1465.4C710.1 1465.5 710.8 1465.7 711.2 1465.8C711.6 1465.9 712.3 1466.2 712.7 1466.3C713.1 1466.4 713.8 1466.5 714.2 1466.5C714.6 1466.6 715.3 1466.5 715.7 1466.4C716.1 1466.3 716.8 1465.9 717.2 1465.7C717.6 1465.4 718.3 1464.9 718.7 1464.6C719.1 1464.3 719.8 1463.8 720.2 1463.7C720.6 1463.5 721.3 1463.3 721.7 1463.4C722.1 1463.4 722.8 1463.7 723.2 1463.9C723.6 1464.2 724.3 1464.7 724.7 1464.9C725.1 1465.1 725.8 1465.5 726.2 1465.5C726.6 1465.5 727.3 1465.3 727.7 1465.1C728.1 1464.8 728.8 1464 729.2 1463.6C729.6 1463.1 730.3 1462.2 730.7 1461.7C731.1 1461.3 731.8 1460.8 732.2 1460.7C732.6 1460.6 733.3 1460.8 733.7 1461C734.1 1461.3 734.8 1462.1 735.2 1462.6C735.6 1463 736.3 1463.9 736.7 1464.3C737.1 1464.6 737.8 1465.1 738.2 1465.1C738.6 1465.2 739.3 1464.9 739.7 1464.6C740.1 1464.3 740.8 1463.5 741.2 1463.1C741.6 1462.7 742.3 1461.9 742.7 1461.6C743.1 1461.3 743.8 1461 744.2 1461.1C744.6 1461.1 745.3 1461.5 745.7 1461.8C746.1 1462.1 746.8 1463 747.2 1463.4C747.6 1463.8 748.3 1464.6 748.7 1464.9C749.1 1465.2 749.8 1465.4 750.2 1465.4C750.6 1465.4 751.3 1465.1 751.7 1464.8C752.1 1464.5 752.8 1463.7 753.2 1463.3C753.6 1462.9 754.3 1462.2 754.7 1461.9C755.1 1461.6 755.8 1461.3 756.2 1461.3C756.6 1461.3 757.3 1461.7 757.7 1462C758.1 1462.3 758.8 1463.1 759.2 1463.5C759.6 1463.9 760.3 1464.6 760.7 1464.8C761.1 1465.1 761.8 1465.3 762.2 1465.2C762.6 1465.1 763.3 1464.7 763.7 1464.3C764.1 1463.9 764.8 1463 765.2 1462.6C765.6 1462.2 766.3 1461.4 766.7 1461.2C767.1 1460.9 767.8 1460.8 768.2 1460.9C768.6 1461 769.3 1461.6 769.7 1462C770.1 1462.4 770.8 1463.3 771.2 1463.8C771.6 1464.2 772.3 1464.9 772.7 1465.2C773.1 1465.4 773.8 1465.5 774.2 1465.5C774.6 1465.4 775.3 1465 775.7 1464.8C776.1 1464.6 776.8 1464 777.2 1463.8C777.6 1463.6 778.3 1463.3 778.7 1463.3C779.1 1463.2 779.8 1463.4 780.2 1463.6C780.6 1463.8 781.3 1464.3 781.7 1464.6C782.1 1464.9 782.8 1465.5 783.2 1465.7C783.6 1466 784.3 1466.3 784.7 1466.4C785.1 1466.5 785.8 1466.5 786.2 1466.5C786.6 1466.5 787.3 1466.3 787.7 1466.2C788.1 1466.1 788.8 1465.9 789.2 1465.8C789.6 1465.7 790.3 1465.6 790.7 1465.5C791.1 1465.5 791.8 1465.5 792.2 1465.5C792.6 1465.5 793.3 1465.7 793.7 1465.8C794.1 1465.9 794.8 1466.1 795.2 1466.2C795.6 1466.3 796.3 1466.5 796.7 1466.5C797.1 1466.5 797.8 1466.5 798.2 1466.3C798.6 1466.2 799.3 1465.9 799.7 1465.6C800.1 1465.4 800.8 1464.8 801.2 1464.5C801.6 1464.2 802.3 1463.8 802.7 1463.6C803.1 1463.5 803.8 1463.4 804.2 1463.4C804.6 1463.5 805.3 1463.8 805.7 1464.1C806.1 1464.3 806.8 1464.8 807.2 1465.1C807.6 1465.3 808.3 1465.7 808.7 1465.7C809.1 1465.7 809.8 1465.6 810.2 1465.4C810.6 1465.1 811.3 1464.5 811.7 1464.1C812.1 1463.8 812.8 1463 813.2 1462.7C813.6 1462.4 814.3 1462 814.7 1461.9C815.1 1461.9 815.8 1462.1 816.2 1462.3C816.6 1462.5 817.3 1463.2 817.7 1463.6C818.1 1463.9 818.8 1464.6 819.2 1464.9C819.6 1465.2 820.3 1465.6 820.7 1465.6C821.1 1465.6 821.8 1465.4 822.2 1465.2C822.6 1465 823.3 1464.3 823.7 1464C824.1 1463.6 824.8 1462.9 825.2 1462.7C825.6 1462.4 826.3 1462.1 826.7 1462.1C827.1 1462 827.8 1462.3 828.2 1462.5C828.6 1462.7 829.3 1463.4 829.7 1463.7C830.1 1464.1 830.8 1464.7 831.2 1465C831.6 1465.2 832.3 1465.5 832.7 1465.4C833.1 1465.4 833.8 1465 834.2 1464.7C834.6 1464.4 835.3 1463.5 835.7 1463C836.1 1462.5 836.8 1461.6 837.2 1461.3C837.6 1460.9 838.3 1460.5 838.7 1460.4C839.1 1460.4 839.8 1460.7 840.2 1461.1C840.6 1461.4 841.3 1462.3 841.7 1462.7C842.1 1463.2 842.8 1464.1 843.2 1464.4C843.6 1464.7 844.3 1464.9 844.7 1464.8C845.1 1464.8 845.8 1464.2 846.2 1463.8C846.6 1463.4 847.3 1462.4 847.7 1461.9C848.1 1461.4 848.8 1460.5 849.2 1460.3C849.6 1460.1 850.3 1459.9 850.7 1460.1C851.1 1460.3 851.8 1461 852.2 1461.4C852.6 1461.9 853.3 1462.9 853.7 1463.4C854.1 1463.9 854.8 1464.7 855.2 1465C855.6 1465.3 856.3 1465.4 856.7 1465.4C857.1 1465.3 857.8 1464.9 858.2 1464.7C858.6 1464.5 859.3 1463.9 859.7 1463.7C860.1 1463.4 860.8 1463.1 861.2 1463.1C861.6 1463.1 862.3 1463.3 862.7 1463.4C863.1 1463.6 863.8 1464.1 864.2 1464.4C864.6 1464.7 865.3 1465.3 865.7 1465.6C866.1 1465.8 866.8 1466.2 867.2 1466.3C867.6 1466.4 868.3 1466.4 868.7 1466.4C869.1 1466.3 869.8 1466.1 870.2 1465.9C870.6 1465.8 871.3 1465.5 871.7 1465.3C872.1 1465.1 872.8 1464.9 873.2 1464.8C873.6 1464.7 874.3 1464.7 874.7 1464.8C875.1 1464.8 875.8 1465 876.2 1465.2C876.6 1465.3 877.3 1465.7 877.7 1465.8C878.1 1466 878.8 1466.2 879.2 1466.2C879.6 1466.3 880.3 1466.2 880.7 1466.1C881.1 1466 881.8 1465.6 882.2 1465.3C882.6 1465.1 883.3 1464.5 883.7 1464.2C884.1 1464 884.8 1463.6 885.2 1463.5C885.6 1463.4 886.3 1463.4 886.7 1463.5C887.1 1463.6 887.8 1464 888.2 1464.3C888.6 1464.5 889.3 1465.1 889.7 1465.3C890.1 1465.6 890.8 1465.9 891.2 1465.9C891.6 1466 892.3 1465.9 892.7 1465.8C893.1 1465.6 893.8 1465.1 894.2 1464.9C894.6 1464.6 895.3 1464.1 895.7 1463.9C896.1 1463.7 896.8 1463.5 897.2 1463.4C897.6 1463.4 898.3 1463.6 898.7 1463.8C899.1 1463.9 899.8 1464.4 900.2 1464.7C900.6 1464.9 901.3 1465.4 901.7 1465.6C902.1 1465.8 902.8 1466.1 903.2 1466.1C903.6 1466.1 904.3 1466 904.7 1465.8C905.1 1465.6 905.8 1465.1 906.2 1464.8C906.6 1464.5 907.3 1463.9 907.7 1463.6C908.1 1463.4 908.8 1463 909.2 1462.9C909.6 1462.8 910.3 1462.9 910.7 1463C911.1 1463.2 911.8 1463.7 912.2 1463.9C912.6 1464.2 913.3 1464.8 913.7 1465C914.1 1465.2 914.8 1465.5 915.2 1465.4C915.6 1465.4 916.3 1465 916.7 1464.6C917.1 1464.3 917.8 1463.3 918.2 1462.8C918.6 1462.3 919.3 1461.3 919.7 1460.9C920.1 1460.5 920.8 1460 921.2 1459.9C921.6 1459.9 922.3 1460.3 922.7 1460.6C923.1 1460.9 923.8 1461.9 924.2 1462.4C924.6 1462.9 925.3 1463.8 925.7 1464.2C926.1 1464.5 926.8 1464.8 927.2 1464.7C927.6 1464.6 928.3 1464.1 928.7 1463.7C929.1 1463.2 929.8 1462.2 930.2 1461.7C930.6 1461.2 931.3 1460.4 931.7 1460.2C932.1 1459.9 932.8 1459.8 933.2 1460C933.6 1460.2 934.3 1460.9 934.7 1461.4C935.1 1461.8 935.8 1462.9 936.2 1463.4C936.6 1463.9 937.3 1464.7 937.7 1465C938.1 1465.3 938.8 1465.4 939.2 1465.4C939.6 1465.3 940.3 1464.9 940.7 1464.6C941.1 1464.4 941.8 1463.8 942.2 1463.5C942.6 1463.2 943.3 1462.8 943.7 1462.8C944.1 1462.7 944.8 1462.8 945.2 1462.9C945.6 1463.1 946.3 1463.6 946.7 1463.9C947.1 1464.2 947.8 1464.8 948.2 1465.1C948.6 1465.4 949.3 1465.8 949.7 1465.9C950.1 1466 950.8 1466.1 951.2 1466C951.6 1465.9 952.3 1465.5 952.7 1465.3C953.1 1465.1 953.8 1464.5 954.2 1464.3C954.6 1464 955.3 1463.6 955.7 1463.5C956.1 1463.4 956.8 1463.3 957.2 1463.4C957.6 1463.5 958.3 1463.9 958.7 1464.1C959.1 1464.4 959.8 1464.9 960.2 1465.2C960.6 1465.4 961.3 1465.8 961.7 1465.9C962.1 1466 962.8 1465.9 963.2 1465.8C963.6 1465.7 964.3 1465.2 964.7 1465C965.1 1464.7 965.8 1464.2 966.2 1463.9C966.6 1463.7 967.3 1463.4 967.7 1463.4C968.1 1463.3 968.8 1463.4 969.2 1463.6C969.6 1463.8 970.3 1464.3 970.7 1464.6C971.1 1464.8 971.8 1465.4 972.2 1465.6C972.6 1465.9 973.3 1466.2 973.7 1466.2C974.1 1466.3 974.8 1466.2 975.2 1466.2C975.6 1466.1 976.3 1465.8 976.7 1465.6C977.1 1465.4 977.8 1465.1 978.2 1465C978.6 1464.9 979.3 1464.8 979.7 1464.8C980.1 1464.8 980.8 1464.9 981.2 1465C981.6 1465.1 982.3 1465.4 982.7 1465.6C983.1 1465.7 983.8 1466 984.2 1466.2C984.6 1466.3 985.3 1466.4 985.7 1466.4C986.1 1466.4 986.8 1466.3 987.2 1466.2C987.6 1466 988.3 1465.6 988.7 1465.3C989.1 1465 989.8 1464.5 990.2 1464.2C990.6 1463.9 991.3 1463.5 991.7 1463.4C992.1 1463.3 992.8 1463.3 993.2 1463.4C993.6 1463.5 994.3 1463.8 994.7 1464.1C995.1 1464.3 995.8 1464.9 996.2 1465.1C996.6 1465.3 997.3 1465.5 997.7 1465.5C998.1 1465.4 998.8 1465 999.2 1464.7C999.6 1464.3 1000.3 1463.4 1000.7 1462.9C1001.1 1462.4 1001.8 1461.4 1002.2 1461C1002.6 1460.6 1003.3 1460.1 1003.7 1460.1C1004.1 1460.1 1004.8 1460.4 1005.2 1460.8C1005.6 1461.1 1006.3 1462.1 1006.7 1462.6C1007.1 1463.1 1007.8 1464 1008.2 1464.3C1008.6 1464.6 1009.3 1464.9 1009.7 1464.9C1010.1 1464.8 1010.8 1464.3 1011.2 1463.9C1011.6 1463.5 1012.3 1462.6 1012.7 1462.1C1013.1 1461.7 1013.8 1460.9 1014.2 1460.7C1014.6 1460.5 1015.3 1460.4 1015.7 1460.5C1016.1 1460.7 1016.8 1461.3 1017.2 1461.7C1017.6 1462.1 1018.3 1463.1 1018.7 1463.6C1019.1 1464 1019.8 1464.8 1020.2 1465C1020.6 1465.3 1021.3 1465.5 1021.7 1465.4C1022.1 1465.3 1022.8 1464.9 1023.2 1464.6C1023.6 1464.3 1024.3 1463.5 1024.7 1463.2C1025.1 1462.9 1025.8 1462.3 1026.2 1462.2C1026.6 1462 1027.3 1462 1027.7 1462.1C1028.1 1462.2 1028.8 1462.7 1029.2 1463C1029.6 1463.3 1030.3 1464 1030.7 1464.4C1031.1 1464.7 1031.8 1465.3 1032.2 1465.4C1032.6 1465.6 1033.3 1465.6 1033.7 1465.5C1034.1 1465.3 1034.8 1464.8 1035.2 1464.5C1035.6 1464.1 1036.3 1463.4 1036.7 1463C1037.1 1462.7 1037.8 1462.1 1038.2 1462C1038.6 1461.8 1039.3 1461.8 1039.7 1462C1040.1 1462.1 1040.8 1462.7 1041.2 1463C1041.6 1463.4 1042.3 1464.2 1042.7 1464.5C1043.1 1464.9 1043.8 1465.4 1044.2 1465.5C1044.6 1465.7 1045.3 1465.7 1045.7 1465.5C1046.1 1465.4 1046.8 1464.9 1047.2 1464.7C1047.6 1464.4 1048.3 1463.9 1048.7 1463.7C1049.1 1463.5 1049.8 1463.3 1050.2 1463.3C1050.6 1463.3 1051.3 1463.5 1051.7 1463.8C1052.1 1464 1052.8 1464.5 1053.2 1464.8C1053.6 1465.1 1054 1465.7 1054.7 1465.9C1055.4 1466 1056.8 1467.6 1058.4 1465.8C1060 1463.9 1064.2 1457.6 1066.4 1452.7C1068.7 1447.8 1071.9 1438.5 1074.4 1430.7C1077 1422.8 1081.7 1407 1084.5 1396.6C1087.3 1386.2 1091.7 1367.7 1094.5 1356.5C1097.3 1345.3 1102 1326.5 1104.5 1316.4C1107 1306.3 1110.3 1291.9 1112.5 1284.3C1114.8 1276.7 1118.6 1267 1120.6 1262.3C1122.5 1257.5 1125 1252.5 1126.6 1250.2C1128.1 1248 1130.2 1246.4 1131.6 1246.2C1133 1246.1 1135 1247.3 1136.6 1249.2C1138.1 1251.2 1141.2 1255.9 1142.6 1260.3C1144 1264.6 1145.2 1273 1146.6 1280.3C1148 1287.6 1150.7 1302.6 1152.6 1312.4C1154.6 1322.2 1158.4 1340.1 1160.7 1350.5C1162.9 1360.9 1166.4 1376.7 1168.7 1386.6C1170.9 1396.4 1174.4 1412.2 1176.7 1420.7C1178.9 1429.1 1182.5 1440.5 1184.7 1446.7C1187 1452.9 1191.2 1462.2 1192.7 1464.8C1194.3 1467.3 1195.1 1465.2 1195.7 1465.1C1196.4 1465 1196.8 1464.2 1197.2 1463.8C1197.7 1463.5 1198.3 1463 1198.7 1462.8C1199.2 1462.5 1199.8 1462.3 1200.2 1462.4C1200.7 1462.4 1201.3 1462.6 1201.7 1462.9C1202.2 1463.1 1202.8 1463.7 1203.2 1464C1203.7 1464.3 1204.3 1464.9 1204.7 1465C1205.2 1465.2 1205.8 1465.4 1206.2 1465.3C1206.7 1465.2 1207.3 1464.8 1207.7 1464.5C1208.2 1464.2 1208.8 1463.4 1209.2 1463C1209.7 1462.6 1210.3 1461.8 1210.7 1461.5C1211.2 1461.2 1211.8 1460.9 1212.2 1460.9C1212.7 1460.9 1213.3 1461.2 1213.7 1461.5C1214.2 1461.8 1214.8 1462.6 1215.2 1463C1215.7 1463.4 1216.3 1464.2 1216.7 1464.5C1217.2 1464.9 1217.8 1465.3 1218.2 1465.4C1218.7 1465.6 1219.3 1465.5 1219.7 1465.3C1220.2 1465.2 1220.8 1464.7 1221.2 1464.5C1221.7 1464.2 1222.3 1463.6 1222.7 1463.4C1223.2 1463.2 1223.8 1462.8 1224.2 1462.7C1224.7 1462.7 1225.3 1462.7 1225.7 1462.8C1226.2 1463 1226.8 1463.4 1227.2 1463.6C1227.7 1463.9 1228.3 1464.5 1228.7 1464.8C1229.2 1465 1229.8 1465.5 1230.2 1465.7C1230.7 1465.8 1231.3 1466 1231.7 1465.9C1232.2 1465.9 1232.8 1465.6 1233.2 1465.4C1233.7 1465.2 1234.3 1464.7 1234.7 1464.4C1235.2 1464.1 1235.8 1463.5 1236.2 1463.3C1236.7 1463.1 1237.3 1462.8 1237.7 1462.7C1238.2 1462.7 1238.8 1462.8 1239.2 1463C1239.7 1463.1 1240.3 1463.6 1240.7 1463.9C1241.2 1464.2 1241.8 1464.8 1242.2 1465C1242.7 1465.3 1243.3 1465.7 1243.7 1465.7C1244.2 1465.8 1244.8 1465.8 1245.2 1465.6C1245.7 1465.5 1246.3 1465.1 1246.7 1464.9C1247.2 1464.6 1247.8 1464.1 1248.2 1463.9C1248.7 1463.7 1249.3 1463.4 1249.7 1463.4C1250.2 1463.3 1250.8 1463.4 1251.2 1463.5C1251.7 1463.7 1252.3 1464.1 1252.7 1464.4C1253.2 1464.6 1253.8 1465.1 1254.2 1465.4C1254.7 1465.7 1255.3 1466 1255.7 1466.2C1256.2 1466.3 1256.8 1466.5 1257.2 1466.5C1257.7 1466.5 1258.3 1466.4 1258.7 1466.3C1259.2 1466.3 1259.8 1466.1 1260.2 1466C1260.7 1465.9 1261.3 1465.8 1261.7 1465.7C1262.2 1465.7 1262.8 1465.6 1263.2 1465.6C1263.7 1465.6 1264.3 1465.7 1264.7 1465.8C1265.2 1465.8 1265.8 1466 1266.2 1466.1C1266.7 1466.2 1267.3 1466.4 1267.7 1466.4C1268.2 1466.5 1268.8 1466.6 1269.2 1466.6C1269.7 1466.7 1270.3 1466.6 1270.7 1466.5C1271.2 1466.4 1271.8 1466.2 1272.2 1466C1272.7 1465.8 1273.3 1465.3 1273.7 1465.1C1274.2 1464.8 1274.8 1464.4 1275.2 1464.2C1275.7 1464 1276.3 1463.7 1276.7 1463.7C1277.2 1463.6 1277.8 1463.8 1278.2 1463.9C1278.7 1464 1279.3 1464.4 1279.7 1464.6C1280.2 1464.9 1280.8 1465.3 1281.2 1465.4C1281.7 1465.6 1282.3 1465.8 1282.7 1465.7C1283.2 1465.7 1283.8 1465.4 1284.2 1465.1C1284.7 1464.9 1285.3 1464.2 1285.7 1463.8C1286.2 1463.5 1286.8 1462.8 1287.2 1462.5C1287.7 1462.3 1288.3 1461.9 1288.7 1461.9C1289.2 1461.8 1289.8 1462 1290.2 1462.2C1290.7 1462.4 1291.3 1463 1291.7 1463.3C1292.2 1463.7 1292.8 1464.3 1293.2 1464.7C1293.7 1465 1294.3 1465.4 1294.7 1465.5C1295.2 1465.6 1295.8 1465.6 1296.2 1465.5C1296.7 1465.3 1297.3 1464.9 1297.7 1464.6C1298.2 1464.3 1298.8 1463.8 1299.2 1463.3C1299.7 1462.9 1300.3 1461.9 1300.7 1461.4C1301.2 1460.9 1301.8 1460.1 1302.2 1459.8C1302.7 1459.5 1303.3 1459.4 1303.7 1459.5C1304.2 1459.6 1304.8 1460.2 1305.2 1460.6C1305.7 1461 1306.3 1461.9 1306.7 1462.2C1307.2 1462.5 1307.8 1462.8 1308.2 1462.5C1308.7 1462.3 1309.3 1461.2 1309.7 1460.1C1310.2 1459 1310.8 1456.4 1311.2 1454.7C1311.7 1453 1312.3 1449.2 1312.7 1447.8C1313.2 1446.4 1313.8 1444.8 1314.2 1444.5C1314.7 1444.3 1315.3 1445 1315.7 1445.9C1316.2 1446.8 1316.8 1449.3 1317.2 1450.7C1317.7 1452.2 1318.3 1455.1 1318.7 1456.5C1319.2 1457.8 1319.8 1459.7 1320.2 1460.3C1320.7 1460.8 1321.3 1460.9 1321.7 1460.6C1322.2 1460.2 1322.8 1458.8 1323.2 1457.9C1323.7 1457.1 1324.3 1455.3 1324.7 1454.6C1325.2 1453.9 1325.8 1452.9 1326.2 1452.8C1326.7 1452.7 1327.3 1453.2 1327.7 1453.7C1328.2 1454.3 1328.8 1455.9 1329.2 1456.9C1329.7 1457.9 1330.3 1459.8 1330.7 1460.7C1331.2 1461.7 1331.8 1463.1 1332.2 1463.6C1332.7 1464.2 1333.3 1464.7 1333.7 1464.9C1334.2 1465 1334.8 1464.8 1335.2 1464.7C1335.7 1464.5 1336.3 1464.1 1336.7 1463.9C1337.2 1463.7 1337.8 1463.5 1338.2 1463.4C1338.7 1463.4 1339.3 1463.5 1339.7 1463.6C1340.2 1463.7 1340.8 1463.8 1341.2 1464C1341.7 1464.1 1342.3 1464.5 1342.7 1464.7C1343.2 1465 1343.8 1465.4 1344.2 1465.6C1344.7 1465.8 1345.3 1466.1 1345.7 1466.2C1346.2 1466.2 1346.8 1466.2 1347.2 1466.1C1347.7 1466.1 1348.3 1465.8 1348.7 1465.5C1349.2 1465.3 1349.8 1464.8 1350.2 1464.6C1350.7 1464.4 1351.3 1463.9 1351.7 1463.8C1352.2 1463.6 1352.8 1463.4 1353.2 1463.5C1353.7 1463.5 1354.3 1463.7 1354.7 1463.9C1355.2 1464 1355.8 1464.5 1356.2 1464.7C1356.7 1465 1357.3 1465.4 1357.7 1465.6C1358.2 1465.8 1358.8 1466 1359.2 1466C1359.7 1466 1360.3 1465.9 1360.7 1465.7C1361.2 1465.6 1361.8 1465.1 1362.2 1464.9C1362.7 1464.7 1363.3 1464.3 1363.7 1464.2C1364.2 1464 1365 1463.9 1365.2 1463.9" stroke="#00ff00"/><path d="M577.7 1468.3C577.7 1466.3 577.5 1455.8 577.7 1454.1C577.9 1452.4 578.8 1455.4 579.2 1456.1C579.6 1456.8 580.3 1458.5 580.7 1459.2C581.1 1460 581.8 1461.2 582.2 1461.4C582.6 1461.6 583.3 1461.5 583.7 1460.9C584.1 1460.3 584.8 1458.5 585.2 1457.3C585.6 1456 586.3 1453.3 586.7 1451.9C587.1 1450.6 587.8 1448.2 588.2 1447.4C588.6 1446.6 589.3 1445.9 589.7 1446C590.1 1446.2 590.8 1447.5 591.2 1448.5C591.6 1449.6 592.3 1452.2 592.7 1453.5C593.1 1454.9 593.8 1457.4 594.2 1458.4C594.6 1459.3 595.3 1460.4 595.7 1460.5C596.1 1460.5 596.8 1459.7 597.2 1458.9C597.6 1458.1 598.3 1456 598.7 1454.9C599.1 1453.7 599.8 1451.6 600.2 1450.8C600.6 1450 601.3 1449.1 601.7 1449C602.1 1449 602.8 1449.8 603.2 1450.6C603.6 1451.4 604.3 1453.4 604.7 1454.6C605.1 1455.8 605.8 1458.1 606.2 1459.2C606.6 1460.2 607.3 1461.7 607.7 1462.2C608.1 1462.7 608.8 1462.9 609.2 1462.8C609.6 1462.7 610.3 1461.8 610.7 1461.2C611.1 1460.6 611.8 1459.3 612.2 1458.7C612.6 1458.1 613.3 1457.1 613.7 1456.8C614.1 1456.5 614.8 1456.3 615.2 1456.5C615.6 1456.6 616.3 1457.4 616.7 1457.9C617.1 1458.5 617.8 1459.7 618.2 1460.4C618.6 1461.1 619.3 1462.3 619.7 1462.8C620.1 1463.3 620.8 1463.9 621.2 1464C621.6 1464.1 622.3 1463.8 622.7 1463.4C623.1 1463 623.8 1461.9 624.2 1461.2C624.6 1460.6 625.3 1459.2 625.7 1458.6C626.1 1457.9 626.8 1457 627.2 1456.7C627.6 1456.5 628.3 1456.4 628.7 1456.7C629.1 1456.9 629.8 1457.8 630.2 1458.4C630.6 1459 631.3 1460.4 631.7 1461.1C632.1 1461.8 632.8 1462.9 633.2 1463.2C633.6 1463.6 634.3 1463.9 634.7 1463.8C635.1 1463.7 635.8 1463 636.2 1462.5C636.6 1462 637.3 1460.8 637.7 1460.2C638.1 1459.7 638.8 1458.7 639.2 1458.3C639.6 1458 640.3 1457.7 640.7 1457.8C641.1 1457.9 641.8 1458.5 642.2 1459C642.6 1459.5 643.3 1460.6 643.7 1461.2C644.1 1461.9 644.8 1463 645.2 1463.5C645.6 1464 646.3 1464.6 646.7 1464.7C647.1 1464.9 647.8 1464.8 648.2 1464.6C648.6 1464.4 649.3 1463.7 649.7 1463.3C650.1 1462.9 650.8 1462 651.2 1461.5C651.6 1461.1 652.3 1460.4 652.7 1460.1C653.1 1459.8 653.8 1459.6 654.2 1459.7C654.6 1459.7 655.3 1460.1 655.7 1460.4C656.1 1460.8 656.8 1461.6 657.2 1462C657.6 1462.5 658.3 1463.3 658.7 1463.6C659.1 1463.8 659.8 1464.1 660.2 1463.9C660.6 1463.8 661.3 1463.1 661.7 1462.4C662.1 1461.7 662.8 1460.1 663.2 1459.1C663.6 1458.1 664.3 1456.1 664.7 1455.2C665.1 1454.3 665.8 1452.8 666.2 1452.4C666.6 1452 667.3 1451.8 667.7 1452.1C668.1 1452.4 668.8 1453.7 669.2 1454.5C669.6 1455.4 670.3 1457.3 670.7 1458.2C671.1 1459.1 671.8 1460.5 672.2 1460.8C672.6 1461.1 673.3 1461 673.7 1460.5C674.1 1459.9 674.8 1458.1 675.2 1456.9C675.6 1455.7 676.3 1453 676.7 1451.7C677.1 1450.4 677.8 1448.2 678.2 1447.5C678.6 1446.8 679.3 1446.3 679.7 1446.6C680.1 1446.8 680.8 1448.3 681.2 1449.4C681.6 1450.5 682.3 1453.1 682.7 1454.4C683.1 1455.8 683.8 1458.2 684.2 1459.1C684.6 1460.1 685.3 1461.1 685.7 1461.2C686.1 1461.3 686.8 1460.7 687.2 1460C687.6 1459.4 688.3 1457.6 688.7 1456.6C689.1 1455.7 689.8 1453.9 690.2 1453.2C690.6 1452.6 691.3 1451.8 691.7 1451.8C692.1 1451.8 692.8 1452.4 693.2 1453C693.6 1453.7 694.3 1455.4 694.7 1456.4C695.1 1457.4 695.8 1459.3 696.2 1460.2C696.6 1461.1 697.3 1462.3 697.7 1462.8C698.1 1463.2 698.8 1463.4 699.2 1463.2C699.6 1463 700.3 1462.2 700.7 1461.6C701.1 1461 701.8 1459.6 702.2 1458.9C702.6 1458.2 703.3 1457 703.7 1456.5C704.1 1456.1 704.8 1455.7 705.2 1455.8C705.6 1455.8 706.3 1456.4 706.7 1456.9C707.1 1457.5 707.8 1458.8 708.2 1459.5C708.6 1460.2 709.3 1461.6 709.7 1462.1C710.1 1462.7 710.8 1463.4 711.2 1463.5C711.6 1463.6 712.3 1463.3 712.7 1462.8C713.1 1462.4 713.8 1461.2 714.2 1460.5C714.6 1459.8 715.3 1458.3 715.7 1457.7C716.1 1457 716.8 1456.1 717.2 1455.9C717.6 1455.7 718.3 1455.8 718.7 1456.2C719.1 1456.5 719.8 1457.6 720.2 1458.3C720.6 1459 721.3 1460.5 721.7 1461.2C722.1 1462 722.8 1463.1 723.2 1463.5C723.6 1463.9 724.3 1464.2 724.7 1464.2C725.1 1464.1 725.8 1463.6 726.2 1463.3C726.6 1462.9 727.3 1462 727.7 1461.6C728.1 1461.2 728.8 1460.5 729.2 1460.2C729.6 1460 730.3 1459.9 730.7 1460C731.1 1460.2 731.8 1460.7 732.2 1461C732.6 1461.4 733.3 1462.3 733.7 1462.8C734.1 1463.2 734.8 1464 735.2 1464.4C735.6 1464.7 736.3 1465.2 736.7 1465.3C737.1 1465.4 737.8 1465.3 738.2 1465.1C738.6 1464.9 739.3 1464.3 739.7 1463.8C740.1 1463.4 740.8 1462.5 741.2 1462C741.6 1461.5 742.3 1460.6 742.7 1460.2C743.1 1459.8 743.8 1459.3 744.2 1459.3C744.6 1459.2 745.3 1459.4 745.7 1459.7C746.1 1460 746.8 1460.8 747.2 1461.2C747.6 1461.7 748.3 1462.6 748.7 1462.9C749.1 1463.2 749.8 1463.5 750.2 1463.3C750.6 1463.2 751.3 1462.4 751.7 1461.6C752.1 1460.8 752.8 1459 753.2 1457.8C753.6 1456.7 754.3 1454.5 754.7 1453.5C755.1 1452.5 755.8 1451 756.2 1450.6C756.6 1450.2 757.3 1450.2 757.7 1450.6C758.1 1451 758.8 1452.6 759.2 1453.6C759.6 1454.6 760.3 1456.7 760.7 1457.7C761.1 1458.7 761.8 1460.3 762.2 1460.7C762.6 1461.1 763.3 1461 763.7 1460.6C764.1 1460.1 764.8 1458.4 765.2 1457.3C765.6 1456.2 766.3 1453.8 766.7 1452.6C767.1 1451.5 767.8 1449.6 768.2 1449.1C768.6 1448.5 769.3 1448.2 769.7 1448.5C770.1 1448.8 770.8 1450.3 771.2 1451.3C771.6 1452.4 772.3 1454.7 772.7 1456C773.1 1457.2 773.8 1459.3 774.2 1460.2C774.6 1461 775.3 1461.9 775.7 1462.1C776.1 1462.2 776.8 1461.6 777.2 1461.1C777.6 1460.5 778.3 1459 778.7 1458.2C779.1 1457.3 779.8 1455.7 780.2 1455.1C780.6 1454.4 781.3 1453.6 781.7 1453.5C782.1 1453.4 782.8 1453.8 783.2 1454.3C783.6 1454.8 784.3 1456.2 784.7 1457C785.1 1457.8 785.8 1459.5 786.2 1460.3C786.6 1461.1 787.3 1462.3 787.7 1462.7C788.1 1463.1 788.8 1463.3 789.2 1463.1C789.6 1462.9 790.3 1461.9 790.7 1461.2C791.1 1460.5 791.8 1459 792.2 1458.1C792.6 1457.3 793.3 1455.9 793.7 1455.4C794.1 1454.8 794.8 1454.3 795.2 1454.4C795.6 1454.4 796.3 1455 796.7 1455.6C797.1 1456.2 797.8 1457.7 798.2 1458.5C798.6 1459.4 799.3 1460.9 799.7 1461.6C800.1 1462.2 800.8 1463 801.2 1463.2C801.6 1463.3 802.3 1463 802.7 1462.6C803.1 1462.3 803.8 1461.1 804.2 1460.4C804.6 1459.8 805.3 1458.4 805.7 1457.9C806.1 1457.4 806.8 1456.7 807.2 1456.6C807.6 1456.5 808.3 1456.8 808.7 1457.2C809.1 1457.6 809.8 1458.8 810.2 1459.5C810.6 1460.2 811.3 1461.6 811.7 1462.2C812.1 1462.9 812.8 1463.9 813.2 1464.3C813.6 1464.6 814.3 1464.9 814.7 1464.9C815.1 1464.9 815.8 1464.6 816.2 1464.3C816.6 1464.1 817.3 1463.4 817.7 1463.2C818.1 1462.9 818.8 1462.4 819.2 1462.2C819.6 1462.1 820.3 1461.9 820.7 1462C821.1 1462 821.8 1462.3 822.2 1462.5C822.6 1462.8 823.3 1463.3 823.7 1463.6C824.1 1463.9 824.8 1464.5 825.2 1464.8C825.6 1465 826.3 1465.4 826.7 1465.4C827.1 1465.5 827.8 1465.3 828.2 1465.1C828.6 1464.8 829.3 1464.1 829.7 1463.6C830.1 1463 830.8 1461.9 831.2 1461.2C831.6 1460.6 832.3 1459.4 832.7 1458.9C833.1 1458.3 833.8 1457.7 834.2 1457.6C834.6 1457.5 835.3 1457.7 835.7 1458C836.1 1458.4 836.8 1459.4 837.2 1459.9C837.6 1460.5 838.3 1461.7 838.7 1462.1C839.1 1462.4 839.8 1462.9 840.2 1462.7C840.6 1462.6 841.3 1461.7 841.7 1460.9C842.1 1460.1 842.8 1458.1 843.2 1457C843.6 1455.8 844.3 1453.6 844.7 1452.6C845.1 1451.6 845.8 1450.2 846.2 1449.9C846.6 1449.6 847.3 1449.8 847.7 1450.4C848.1 1450.9 848.8 1452.6 849.2 1453.7C849.6 1454.8 850.3 1457 850.7 1458C851.1 1459.1 851.8 1460.6 852.2 1461.1C852.6 1461.5 853.3 1461.5 853.7 1461.1C854.1 1460.8 854.8 1459.3 855.2 1458.4C855.6 1457.4 856.3 1455.4 856.7 1454.4C857.1 1453.4 857.8 1451.9 858.2 1451.4C858.6 1450.9 859.3 1450.7 859.7 1451C860.1 1451.3 860.8 1452.5 861.2 1453.4C861.6 1454.3 862.3 1456.4 862.7 1457.4C863.1 1458.5 863.8 1460.3 864.2 1461C864.6 1461.8 865.3 1462.6 865.7 1462.7C866.1 1462.8 866.8 1462.2 867.2 1461.7C867.6 1461.2 868.3 1459.7 868.7 1458.9C869.1 1458 869.8 1456.4 870.2 1455.7C870.6 1455 871.3 1454 871.7 1453.8C872.1 1453.5 872.8 1453.5 873.2 1453.7C873.6 1453.9 874.3 1454.7 874.7 1455.3C875.1 1456 875.8 1457.6 876.2 1458.4C876.6 1459.2 877.3 1460.6 877.7 1461C878.1 1461.3 878.8 1461.5 879.2 1461C879.6 1460.6 880.3 1459 880.7 1457.8C881.1 1456.5 881.8 1453.7 882.2 1452.2C882.6 1450.6 883.3 1447.8 883.7 1446.7C884.1 1445.6 884.8 1444.2 885.2 1444.1C885.6 1444.1 886.3 1445.2 886.7 1446.2C887.1 1447.3 887.8 1450.2 888.2 1451.8C888.6 1453.4 889.3 1456.2 889.7 1457.5C890.1 1458.7 890.8 1460.2 891.2 1460.5C891.6 1460.9 892.3 1460.5 892.7 1459.9C893.1 1459.4 893.8 1457.7 894.2 1456.8C894.6 1455.9 895.3 1454.2 895.7 1453.5C896.1 1452.8 896.8 1452.1 897.2 1452.1C897.6 1452.1 898.3 1452.8 898.7 1453.5C899.1 1454.2 899.8 1455.9 900.2 1457C900.6 1458 901.3 1459.9 901.7 1460.8C902.1 1461.7 902.8 1463 903.2 1463.5C903.6 1464 904.3 1464.3 904.7 1464.3C905.1 1464.3 905.8 1463.9 906.2 1463.6C906.6 1463.2 907.3 1462.4 907.7 1461.9C908.1 1461.4 908.8 1460.6 909.2 1460.2C909.6 1459.8 910.3 1459.3 910.7 1459.2C911.1 1459.1 911.8 1459.1 912.2 1459.3C912.6 1459.5 913.3 1460.1 913.7 1460.5C914.1 1460.9 914.8 1461.8 915.2 1462.2C915.6 1462.6 916.3 1463.3 916.7 1463.3C917.1 1463.3 917.8 1463.1 918.2 1462.5C918.6 1461.9 919.3 1460.3 919.7 1459.1C920.1 1457.9 920.8 1455.4 921.2 1453.9C921.6 1452.5 922.3 1450 922.7 1448.9C923.1 1447.9 923.8 1446.7 924.2 1446.5C924.6 1446.4 925.3 1447.1 925.7 1447.9C926.1 1448.7 926.8 1451 927.2 1452.3C927.6 1453.6 928.3 1456 928.7 1456.9C929.1 1457.8 929.8 1458.8 930.2 1458.6C930.6 1458.4 931.3 1456.9 931.7 1455.5C932.1 1454.2 932.8 1450.7 933.2 1448.8C933.6 1446.8 934.3 1443.1 934.7 1441.5C935.1 1440 935.8 1437.9 936.2 1437.5C936.6 1437.2 937.3 1437.9 937.7 1438.9C938.1 1439.9 938.8 1443 939.2 1444.8C939.6 1446.7 940.3 1450.5 940.7 1452.2C941.1 1454 941.8 1456.5 942.2 1457.3C942.6 1458.1 943.3 1458.2 943.7 1457.6C944.1 1457.1 944.8 1454.8 945.2 1453.4C945.6 1451.9 946.3 1448.6 946.7 1447C947.1 1445.5 947.8 1442.9 948.2 1442.1C948.6 1441.2 949.3 1440.7 949.7 1441C950.1 1441.4 950.8 1443.1 951.2 1444.4C951.6 1445.8 952.3 1448.9 952.7 1450.5C953.1 1452.2 953.8 1455.2 954.2 1456.4C954.6 1457.5 955.3 1458.9 955.7 1459C956.1 1459.1 956.8 1458.1 957.2 1457.1C957.6 1456 958.3 1453.2 958.7 1451.5C959.1 1449.8 959.8 1446.4 960.2 1444.8C960.6 1443.3 961.3 1441.1 961.7 1440.5C962.1 1439.9 962.8 1440 963.2 1440.7C963.6 1441.4 964.3 1443.7 964.7 1445.3C965.1 1446.9 965.8 1450.3 966.2 1452C966.6 1453.7 967.3 1456.4 967.7 1457.3C968.1 1458.1 968.8 1458.6 969.2 1458.3C969.6 1457.9 970.3 1456.1 970.7 1454.8C971.1 1453.5 971.8 1450.5 972.2 1449C972.6 1447.6 973.3 1445.2 973.7 1444.5C974.1 1443.7 974.8 1443.3 975.2 1443.7C975.6 1444.1 976.3 1445.9 976.7 1447.2C977.1 1448.6 977.8 1451.6 978.2 1453.2C978.6 1454.8 979.3 1457.6 979.7 1458.8C980.1 1460 980.8 1461.3 981.2 1461.7C981.6 1462.1 982.3 1461.9 982.7 1461.6C983.1 1461.3 983.8 1460.2 984.2 1459.6C984.6 1459.1 985.3 1458 985.7 1457.7C986.1 1457.3 986.8 1457 987.2 1457.1C987.6 1457.2 988.3 1457.9 988.7 1458.4C989.1 1458.9 989.8 1460.1 990.2 1460.7C990.6 1461.4 991.3 1462.6 991.7 1463.2C992.1 1463.7 992.8 1464.5 993.2 1464.8C993.6 1465.1 994.3 1465.3 994.7 1465.3C995.1 1465.3 995.8 1464.9 996.2 1464.6C996.6 1464.3 997.3 1463.5 997.7 1463C998.1 1462.5 998.8 1461.6 999.2 1461.2C999.6 1460.7 1000.3 1460 1000.7 1459.8C1001.1 1459.6 1001.8 1459.4 1002.2 1459.6C1002.6 1459.7 1003.3 1460.2 1003.7 1460.6C1004.1 1461 1004.8 1461.9 1005.2 1462.3C1005.6 1462.7 1006.3 1463.4 1006.7 1463.5C1007.1 1463.6 1007.8 1463.4 1008.2 1462.9C1008.6 1462.5 1009.3 1461.1 1009.7 1460.2C1010.1 1459.3 1010.8 1457.3 1011.2 1456.3C1011.6 1455.2 1012.3 1453.5 1012.7 1452.9C1013.1 1452.2 1013.8 1451.7 1014.2 1451.8C1014.6 1451.9 1015.3 1452.8 1015.7 1453.5C1016.1 1454.3 1016.8 1456.2 1017.2 1457.2C1017.6 1458.2 1018.3 1460 1018.7 1460.6C1019.1 1461.3 1019.8 1462 1020.2 1462C1020.6 1462 1021.3 1461.2 1021.7 1460.5C1022.1 1459.9 1022.8 1458.1 1023.2 1457.1C1023.6 1456.2 1024 1452.6 1024.7 1453.7C1025.4 1454.7 1027.3 1463.8 1028.3 1464.8C1029.4 1465.8 1030.9 1464.1 1032.3 1460.8C1033.7 1457.4 1036.9 1445.5 1038.3 1440.7C1039.7 1435.9 1041 1428.9 1042.4 1426.7C1043.8 1424.4 1047 1428.9 1048.4 1424.7C1049.8 1420.5 1051 1401.4 1052.4 1396.6C1053.8 1391.8 1056.4 1396.2 1058.4 1390.6C1060.4 1385 1064.5 1361.8 1066.4 1356.5C1068.4 1351.2 1070.7 1357.5 1072.4 1352.5C1074.1 1347.4 1076.8 1325.7 1078.4 1320.4C1080.1 1315.1 1082.5 1321.1 1084.5 1314.4C1086.4 1307.6 1090.2 1279.3 1092.5 1272.3C1094.7 1265.3 1098.8 1269.9 1100.5 1264.3C1102.2 1258.6 1103.1 1237.5 1104.5 1232.2C1105.9 1226.8 1108.8 1229.8 1110.5 1226.2C1112.2 1222.5 1115 1210.3 1116.5 1206.1C1118.1 1201.9 1120.2 1196.5 1121.6 1196.1C1123 1195.7 1125 1203.1 1126.6 1203.1C1128.1 1203.1 1131.2 1195.9 1132.6 1196.1C1134 1196.2 1135.5 1200.2 1136.6 1204.1C1137.7 1208 1139.2 1219.1 1140.6 1224.2C1142 1229.2 1144.9 1233.5 1146.6 1240.2C1148.3 1246.9 1150.9 1262.2 1152.6 1272.3C1154.3 1282.4 1157 1300.6 1158.6 1312.4C1160.3 1324.2 1163 1344.1 1164.7 1356.5C1166.3 1368.8 1169 1389.4 1170.7 1400.6C1172.4 1411.8 1175.3 1429.7 1176.7 1436.7C1178.1 1443.7 1179.3 1447.4 1180.7 1450.7C1182.1 1454.1 1185.3 1458.6 1186.7 1460.8C1188.1 1462.9 1189.7 1466.1 1190.7 1465.8C1191.7 1465.4 1193.1 1460 1193.7 1458.5C1194.4 1457 1194.8 1455.9 1195.2 1455.1C1195.6 1454.3 1196.3 1453 1196.7 1452.6C1197.1 1452.3 1197.8 1452.3 1198.2 1452.7C1198.6 1453 1199.3 1454.2 1199.7 1455.1C1200.1 1456 1200.8 1457.8 1201.2 1458.8C1201.6 1459.8 1202.3 1461.4 1202.7 1462.2C1203.1 1462.9 1203.8 1463.8 1204.2 1464.1C1204.6 1464.4 1205.3 1464.4 1205.7 1464.2C1206.1 1464.1 1206.8 1463.5 1207.2 1463.1C1207.6 1462.7 1208.3 1461.8 1208.7 1461.4C1209.1 1461 1209.8 1460.4 1210.2 1460.2C1210.6 1459.9 1211.3 1459.7 1211.7 1459.8C1212.1 1459.8 1212.8 1460.2 1213.2 1460.5C1213.6 1460.8 1214.3 1461.6 1214.7 1462C1215.1 1462.4 1215.8 1463.2 1216.2 1463.6C1216.6 1463.9 1217.3 1464.3 1217.7 1464.3C1218.1 1464.2 1218.8 1463.8 1219.2 1463.4C1219.6 1462.9 1220.3 1461.7 1220.7 1460.8C1221.1 1460 1221.8 1458.4 1222.2 1457.5C1222.6 1456.7 1223.3 1455.3 1223.7 1454.8C1224.1 1454.4 1224.8 1454 1225.2 1454.1C1225.6 1454.2 1226.3 1455 1226.7 1455.7C1227.1 1456.3 1227.8 1457.9 1228.2 1458.7C1228.6 1459.5 1229.3 1461 1229.7 1461.5C1230.1 1462 1230.8 1462.4 1231.2 1462.3C1231.6 1462.1 1232.3 1461.2 1232.7 1460.5C1233.1 1459.7 1233.8 1457.9 1234.2 1456.9C1234.6 1455.8 1235.3 1453.9 1235.7 1453.1C1236.1 1452.4 1236.8 1451.4 1237.2 1451.2C1237.6 1451 1238.3 1451.5 1238.7 1452C1239.1 1452.5 1239.8 1454.1 1240.2 1455.1C1240.6 1456.1 1241.3 1458 1241.7 1459C1242.1 1459.9 1242.8 1461.3 1243.2 1461.7C1243.6 1462.1 1244.3 1462.2 1244.7 1461.9C1245.1 1461.6 1245.8 1460.3 1246.2 1459.4C1246.6 1458.5 1247.3 1456.4 1247.7 1455.3C1248.1 1454.2 1248.8 1452.3 1249.2 1451.5C1249.6 1450.7 1250.3 1449.7 1250.7 1449.6C1251.1 1449.5 1251.8 1450 1252.2 1450.6C1252.6 1451.3 1253.3 1453 1253.7 1454.1C1254.1 1455.1 1254.8 1457.2 1255.2 1458.1C1255.6 1459 1256.3 1460.2 1256.7 1460.4C1257.1 1460.6 1257.8 1460.2 1258.2 1459.4C1258.6 1458.6 1259.3 1456.4 1259.7 1454.9C1260.1 1453.4 1260.8 1450.3 1261.2 1448.7C1261.6 1447.1 1262.3 1444.6 1262.7 1443.7C1263.1 1442.7 1263.8 1442 1264.2 1442.2C1264.6 1442.4 1265.3 1443.9 1265.7 1445.1C1266.1 1446.4 1266.8 1449.3 1267.2 1450.9C1267.6 1452.5 1268.3 1455.4 1268.7 1456.5C1269.1 1457.6 1269.8 1458.8 1270.2 1458.9C1270.6 1458.9 1271.3 1457.9 1271.7 1456.9C1272.1 1456 1272.8 1453.3 1273.2 1451.9C1273.6 1450.4 1274.3 1447.7 1274.7 1446.6C1275.1 1445.5 1275.8 1444.2 1276.2 1444C1276.6 1443.9 1277.3 1444.7 1277.7 1445.6C1278.1 1446.5 1278.8 1449 1279.2 1450.5C1279.6 1452 1280.3 1455 1280.7 1456.4C1281.1 1457.8 1281.8 1459.9 1282.2 1460.6C1282.6 1461.4 1283.3 1462 1283.7 1462C1284.1 1462 1284.8 1461.2 1285.2 1460.7C1285.6 1460.2 1286.3 1458.9 1286.7 1458.5C1287.1 1458.1 1287.8 1457.7 1288.2 1457.7C1288.6 1457.7 1289.3 1458.1 1289.7 1458.6C1290.1 1459 1290.8 1460 1291.2 1460.6C1291.6 1461.3 1292.3 1462.4 1292.7 1463C1293.1 1463.6 1293.8 1464.5 1294.2 1464.9C1294.6 1465.4 1295.3 1465.8 1295.7 1466C1296.1 1466.1 1296.8 1466.2 1297.2 1466.2C1297.6 1466.2 1298.3 1466.1 1298.7 1466C1299.1 1465.9 1299.8 1465.7 1300.2 1465.6C1300.6 1465.4 1301.3 1465.1 1301.7 1465C1302.1 1464.8 1302.8 1464.6 1303.2 1464.6C1303.6 1464.6 1304.3 1464.6 1304.7 1464.7C1305.1 1464.7 1305.8 1465 1306.2 1465.1C1306.6 1465.3 1307.3 1465.6 1307.7 1465.7C1308.1 1465.9 1308.8 1466.1 1309.2 1466.1C1309.6 1466.1 1310.3 1465.9 1310.7 1465.8C1311.1 1465.6 1311.8 1465.1 1312.2 1464.8C1312.6 1464.5 1313.3 1463.9 1313.7 1463.6C1314.1 1463.3 1314.8 1462.8 1315.2 1462.6C1315.6 1462.4 1316.3 1462.3 1316.7 1462.4C1317.1 1462.4 1317.8 1462.7 1318.2 1463C1318.6 1463.2 1319.3 1463.8 1319.7 1464.1C1320.1 1464.4 1320.8 1465 1321.2 1465.2C1321.6 1465.4 1322.3 1465.6 1322.7 1465.6C1323.1 1465.6 1323.8 1465.3 1324.2 1465.1C1324.6 1464.8 1325.3 1464.2 1325.7 1463.9C1326.1 1463.5 1326.8 1462.9 1327.2 1462.6C1327.6 1462.3 1328.3 1461.9 1328.7 1461.9C1329.1 1461.8 1329.8 1461.9 1330.2 1462C1330.6 1462.2 1331.3 1462.6 1331.7 1463C1332.1 1463.3 1332.8 1463.9 1333.2 1464.2C1333.6 1464.6 1334.3 1465.1 1334.7 1465.2C1335.1 1465.4 1335.8 1465.4 1336.2 1465.3C1336.6 1465.2 1337.3 1464.8 1337.7 1464.4C1338.1 1464 1338.8 1463.2 1339.2 1462.8C1339.6 1462.3 1340.3 1461.5 1340.7 1461.1C1341.1 1460.7 1341.8 1460.3 1342.2 1460.2C1342.6 1460.1 1343.3 1460.2 1343.7 1460.4C1344.1 1460.6 1344.8 1461.3 1345.2 1461.7C1345.6 1462.1 1346.3 1463 1346.7 1463.4C1347.1 1463.8 1347.8 1464.3 1348.2 1464.4C1348.6 1464.6 1349.3 1464.4 1349.7 1464.2C1350.1 1463.9 1350.8 1463.1 1351.2 1462.5C1351.6 1461.9 1352.3 1461.3 1352.7 1460.2C1353.1 1459 1353.8 1456 1354.2 1454.3C1354.6 1452.7 1355.3 1449.6 1355.7 1448.4C1356.1 1447.3 1356.8 1446.2 1357.2 1446.3C1357.6 1446.3 1358.3 1447.7 1358.7 1448.7C1359.1 1449.7 1359.8 1452.3 1360.2 1453.2C1360.6 1454.2 1361.3 1455.6 1361.7 1455.5C1362.1 1455.3 1362.8 1453.7 1363.2 1451.9C1363.6 1450.1 1364.3 1445.5 1364.7 1442.7C1365.1 1439.8 1366 1433.2 1366.2 1431.6" stroke="#0000ff"/><path d="M577.7 1468.3C577.7 1467.5 577.5 1463.5 577.7 1462.4C577.9 1461.2 578.8 1460.6 579.2 1459.9C579.6 1459.2 580.3 1457.8 580.7 1457.3C581.1 1456.7 581.8 1456 582.2 1455.8C582.6 1455.7 583.3 1455.9 583.7 1456.3C584.1 1456.6 584.8 1457.6 585.2 1458.3C585.6 1459 586.3 1460.4 586.7 1461C587.1 1461.7 587.8 1462.7 588.2 1463C588.6 1463.3 589.3 1463.4 589.7 1463.1C590.1 1462.8 590.8 1461.8 591.2 1461C591.6 1460.2 592.3 1458.3 592.7 1457.3C593.1 1456.3 593.8 1454.4 594.2 1453.6C594.6 1452.8 595.3 1451.8 595.7 1451.6C596.1 1451.4 596.8 1451.7 597.2 1452.2C597.6 1452.7 598.3 1454.3 598.7 1455.2C599.1 1456.2 599.8 1458.1 600.2 1458.9C600.6 1459.7 601.3 1460.9 601.7 1461C602.1 1461.2 602.8 1460.7 603.2 1460C603.6 1459.2 604.3 1457.2 604.7 1455.8C605.1 1454.5 605.8 1451.8 606.2 1450.5C606.6 1449.2 607.3 1447.2 607.7 1446.6C608.1 1446 608.8 1445.8 609.2 1446.2C609.6 1446.6 610.3 1448.3 610.7 1449.5C611.1 1450.7 611.8 1453.4 612.2 1454.7C612.6 1456.1 613.3 1458.4 613.7 1459.2C614.1 1460.1 614.8 1460.9 615.2 1460.9C615.6 1460.8 616.3 1459.9 616.7 1459.1C617.1 1458.3 617.8 1456.4 618.2 1455.3C618.6 1454.3 619.3 1452.5 619.7 1451.8C620.1 1451.1 620.8 1450.4 621.2 1450.5C621.6 1450.5 622.3 1451.3 622.7 1452.1C623.1 1452.8 623.8 1454.7 624.2 1455.8C624.6 1456.9 625.3 1458.9 625.7 1459.9C626.1 1460.8 626.8 1462.1 627.2 1462.5C627.6 1462.9 628.3 1463 628.7 1462.8C629.1 1462.6 629.8 1461.6 630.2 1460.9C630.6 1460.3 631.3 1458.8 631.7 1458C632.1 1457.3 632.8 1456.1 633.2 1455.6C633.6 1455.2 634.3 1454.8 634.7 1454.9C635.1 1455 635.8 1455.6 636.2 1456.2C636.6 1456.7 637.3 1458.1 637.7 1458.9C638.1 1459.7 638.8 1461.1 639.2 1461.7C639.6 1462.3 640.3 1463 640.7 1463.1C641.1 1463.2 641.8 1462.8 642.2 1462.3C642.6 1461.8 643.3 1460.4 643.7 1459.6C644.1 1458.8 644.8 1457.1 645.2 1456.3C645.6 1455.5 646.3 1454.4 646.7 1454.1C647.1 1453.8 647.8 1453.8 648.2 1454.2C648.6 1454.5 649.3 1455.7 649.7 1456.5C650.1 1457.3 650.8 1459 651.2 1459.9C651.6 1460.7 652.3 1462.1 652.7 1462.6C653.1 1463.1 653.8 1463.5 654.2 1463.5C654.6 1463.4 655.3 1462.8 655.7 1462.4C656.1 1462 656.8 1460.9 657.2 1460.4C657.6 1459.9 658.3 1459 658.7 1458.8C659.1 1458.5 659.8 1458.4 660.2 1458.6C660.6 1458.7 661.3 1459.4 661.7 1459.9C662.1 1460.4 662.8 1461.5 663.2 1462.1C663.6 1462.7 664.3 1463.7 664.7 1464.2C665.1 1464.6 665.8 1465.2 666.2 1465.4C666.6 1465.6 667.3 1465.6 667.7 1465.5C668.1 1465.4 668.8 1465.1 669.2 1464.8C669.6 1464.6 670.3 1464.1 670.7 1463.8C671.1 1463.6 671.8 1463.2 672.2 1463C672.6 1462.8 673.3 1462.6 673.7 1462.6C674.1 1462.6 674.8 1462.8 675.2 1462.9C675.6 1463.1 676.3 1463.5 676.7 1463.8C677.1 1464 677.8 1464.6 678.2 1464.7C678.6 1464.9 679.3 1465.2 679.7 1465.1C680.1 1465.1 680.8 1464.8 681.2 1464.4C681.6 1464 682.3 1463 682.7 1462.3C683.1 1461.6 683.8 1460.3 684.2 1459.6C684.6 1458.9 685.3 1457.8 685.7 1457.4C686.1 1457 686.8 1456.6 687.2 1456.7C687.6 1456.8 688.3 1457.5 688.7 1458C689.1 1458.5 689.8 1459.8 690.2 1460.4C690.6 1461.1 691.3 1462.2 691.7 1462.6C692.1 1462.9 692.8 1463.2 693.2 1463C693.6 1462.8 694.3 1461.9 694.7 1461.2C695.1 1460.5 695.8 1458.8 696.2 1457.9C696.6 1457.1 697.3 1455.5 697.7 1454.9C698.1 1454.3 698.8 1453.7 699.2 1453.7C699.6 1453.6 700.3 1454.2 700.7 1454.8C701.1 1455.4 701.8 1456.9 702.2 1457.8C702.6 1458.7 703.3 1460.3 703.7 1461.1C704.1 1461.8 704.8 1462.8 705.2 1463C705.6 1463.3 706.3 1463.1 706.7 1462.8C707.1 1462.5 707.8 1461.4 708.2 1460.7C708.6 1460 709.3 1458.4 709.7 1457.7C710.1 1457 710.8 1455.8 711.2 1455.4C711.6 1455 712.3 1454.7 712.7 1454.8C713.1 1454.9 713.8 1455.7 714.2 1456.3C714.6 1456.9 715.3 1458.3 715.7 1459C716.1 1459.8 716.8 1461.2 717.2 1461.7C717.6 1462.2 718.3 1462.8 718.7 1462.7C719.1 1462.7 719.8 1462 720.2 1461.3C720.6 1460.6 721.3 1458.8 721.7 1457.7C722.1 1456.6 722.8 1454.4 723.2 1453.4C723.6 1452.4 724.3 1450.9 724.7 1450.4C725.1 1450 725.8 1449.9 726.2 1450.2C726.6 1450.6 727.3 1452 727.7 1453C728.1 1453.9 728.8 1456.1 729.2 1457.1C729.6 1458.2 730.3 1459.9 730.7 1460.4C731.1 1460.9 731.8 1461.2 732.2 1460.8C732.6 1460.5 733.3 1459.1 733.7 1458.1C734.1 1457 734.8 1454.7 735.2 1453.5C735.6 1452.3 736.3 1450.2 736.7 1449.5C737.1 1448.8 737.8 1448.1 738.2 1448.3C738.6 1448.4 739.3 1449.5 739.7 1450.5C740.1 1451.4 740.8 1453.7 741.2 1454.9C741.6 1456.2 742.3 1458.4 742.7 1459.4C743.1 1460.4 743.8 1461.7 744.2 1462C744.6 1462.3 745.3 1462.1 745.7 1461.7C746.1 1461.4 746.8 1460.1 747.2 1459.4C747.6 1458.6 748.3 1457.2 748.7 1456.6C749.1 1456 749.8 1455.2 750.2 1455C750.6 1454.9 751.3 1455.1 751.7 1455.5C752.1 1455.9 752.8 1457.1 753.2 1457.8C753.6 1458.6 754.3 1460.1 754.7 1460.8C755.1 1461.6 755.8 1462.8 756.2 1463.2C756.6 1463.7 757.3 1464.1 757.7 1464.1C758.1 1464.1 758.8 1463.6 759.2 1463.2C759.6 1462.8 760.3 1461.7 760.7 1461.1C761.1 1460.5 761.8 1459.4 762.2 1458.9C762.6 1458.4 763.3 1457.7 763.7 1457.5C764.1 1457.4 764.8 1457.5 765.2 1457.8C765.6 1458.1 766.3 1458.9 766.7 1459.5C767.1 1460.1 767.8 1461.3 768.2 1461.9C768.6 1462.4 769.3 1463.3 769.7 1463.6C770.1 1463.8 770.8 1463.9 771.2 1463.7C771.6 1463.5 772.3 1462.6 772.7 1462C773.1 1461.4 773.8 1460.1 774.2 1459.4C774.6 1458.8 775.3 1457.7 775.7 1457.3C776.1 1456.9 776.8 1456.6 777.2 1456.8C777.6 1456.9 778.3 1457.6 778.7 1458.1C779.1 1458.7 779.8 1460 780.2 1460.7C780.6 1461.4 781.3 1462.6 781.7 1463.2C782.1 1463.7 782.8 1464.3 783.2 1464.5C783.6 1464.6 784.3 1464.5 784.7 1464.3C785.1 1464.1 785.8 1463.4 786.2 1463.1C786.6 1462.7 787.3 1462.1 787.7 1461.8C788.1 1461.6 788.8 1461.3 789.2 1461.3C789.6 1461.3 790.3 1461.5 790.7 1461.8C791.1 1462 791.8 1462.7 792.2 1463C792.6 1463.4 793.3 1464.1 793.7 1464.5C794.1 1464.8 794.8 1465.3 795.2 1465.5C795.6 1465.7 796.3 1465.9 796.7 1465.8C797.1 1465.8 797.8 1465.5 798.2 1465.3C798.6 1465.1 799.3 1464.5 799.7 1464.1C800.1 1463.7 800.8 1463 801.2 1462.6C801.6 1462.3 802.3 1461.7 802.7 1461.5C803.1 1461.3 803.8 1461.2 804.2 1461.2C804.6 1461.3 805.3 1461.7 805.7 1461.9C806.1 1462.2 806.8 1462.9 807.2 1463.3C807.6 1463.6 808.3 1464.2 808.7 1464.2C809.1 1464.3 809.8 1464.3 810.2 1463.9C810.6 1463.6 811.3 1462.6 811.7 1461.9C812.1 1461.2 812.8 1459.6 813.2 1458.7C813.6 1457.9 814.3 1456.4 814.7 1455.8C815.1 1455.2 815.8 1454.5 816.2 1454.5C816.6 1454.4 817.3 1454.9 817.7 1455.5C818.1 1456 818.8 1457.5 819.2 1458.3C819.6 1459.1 820.3 1460.6 820.7 1461.2C821.1 1461.9 821.8 1462.6 822.2 1462.7C822.6 1462.8 823.3 1462.3 823.7 1461.8C824.1 1461.3 824.8 1459.8 825.2 1458.9C825.6 1458.1 826.3 1456.4 826.7 1455.6C827.1 1454.9 827.8 1453.9 828.2 1453.7C828.6 1453.4 829.3 1453.6 829.7 1454C830.1 1454.4 830.8 1455.7 831.2 1456.5C831.6 1457.3 832.3 1459 832.7 1459.9C833.1 1460.7 833.8 1462 834.2 1462.5C834.6 1462.9 835.3 1463.3 835.7 1463.2C836.1 1463 836.8 1462.3 837.2 1461.6C837.6 1461 838.3 1459.5 838.7 1458.7C839.1 1457.9 839.8 1456.4 840.2 1455.8C840.6 1455.1 841.3 1454.4 841.7 1454.2C842.1 1454.1 842.8 1454.4 843.2 1454.9C843.6 1455.3 844.3 1456.6 844.7 1457.4C845.1 1458.1 845.8 1459.7 846.2 1460.4C846.6 1461.1 847.3 1462.1 847.7 1462.4C848.1 1462.6 848.8 1462.4 849.2 1461.9C849.6 1461.5 850.3 1460 850.7 1459C851.1 1458 851.8 1455.9 852.2 1454.8C852.6 1453.7 853.3 1452 853.7 1451.3C854.1 1450.7 854.8 1450.2 855.2 1450.3C855.6 1450.4 856.3 1451.4 856.7 1452.3C857.1 1453.1 857.8 1455.1 858.2 1456.2C858.6 1457.3 859.3 1459.3 859.7 1460.1C860.1 1460.8 860.8 1461.7 861.2 1461.8C861.6 1461.8 862.3 1461.2 862.7 1460.5C863.1 1459.9 863.8 1458.2 864.2 1457.2C864.6 1456.3 865.3 1454.5 865.7 1453.8C866.1 1453.1 866.8 1452.3 867.2 1452.2C867.6 1452.2 868.3 1452.7 868.7 1453.3C869.1 1454 869.8 1455.6 870.2 1456.6C870.6 1457.6 871.3 1459.5 871.7 1460.4C872.1 1461.2 872.8 1462.5 873.2 1462.9C873.6 1463.3 874.3 1463.4 874.7 1463.2C875.1 1463 875.8 1462.1 876.2 1461.5C876.6 1460.8 877.3 1459.3 877.7 1458.5C878.1 1457.7 878.8 1456.4 879.2 1455.8C879.6 1455.3 880.3 1454.7 880.7 1454.7C881.1 1454.6 881.8 1455.1 882.2 1455.6C882.6 1456.1 883.3 1457.4 883.7 1458.1C884.1 1458.9 884.8 1460.3 885.2 1461C885.6 1461.6 886.3 1462.6 886.7 1462.7C887.1 1462.9 887.8 1462.7 888.2 1462.3C888.6 1461.8 889.3 1460.5 889.7 1459.6C890.1 1458.7 890.8 1456.8 891.2 1455.9C891.6 1454.9 892.3 1453.4 892.7 1452.8C893.1 1452.3 893.8 1451.8 894.2 1451.9C894.6 1452.1 895.3 1453 895.7 1453.7C896.1 1454.4 896.8 1456.3 897.2 1457.2C897.6 1458.2 898.3 1459.9 898.7 1460.6C899.1 1461.2 899.8 1461.9 900.2 1461.9C900.6 1461.9 901.3 1461.1 901.7 1460.4C902.1 1459.6 902.8 1457.8 903.2 1456.8C903.6 1455.8 904.3 1453.9 904.7 1453.2C905.1 1452.4 905.8 1451.6 906.2 1451.5C906.6 1451.5 907.3 1452.1 907.7 1452.8C908.1 1453.4 908.8 1455.2 909.2 1456.2C909.6 1457.2 910.3 1459.2 910.7 1460.1C911.1 1461.1 911.8 1462.4 912.2 1462.8C912.6 1463.3 913.3 1463.5 913.7 1463.4C914.1 1463.2 914.8 1462.5 915.2 1462C915.6 1461.6 916.3 1460.5 916.7 1459.9C917.1 1459.4 917.8 1458.6 918.2 1458.3C918.6 1458.1 919.3 1457.9 919.7 1458C920.1 1458.1 920.8 1458.6 921.2 1459.1C921.6 1459.5 922.3 1460.5 922.7 1461C923.1 1461.6 923.8 1462.6 924.2 1463C924.6 1463.4 925.3 1464 925.7 1464C926.1 1464 926.8 1463.7 927.2 1463.3C927.6 1462.8 928.3 1461.5 928.7 1460.6C929.1 1459.7 929.8 1457.8 930.2 1456.7C930.6 1455.7 931.3 1453.9 931.7 1453.1C932.1 1452.4 932.8 1451.6 933.2 1451.5C933.6 1451.4 934.3 1452 934.7 1452.7C935.1 1453.3 935.8 1455 936.2 1456C936.6 1456.9 937.3 1458.7 937.7 1459.3C938.1 1459.9 938.8 1460.5 939.2 1460.2C939.6 1460 940.3 1458.6 940.7 1457.4C941.1 1456.2 941.8 1453.2 942.2 1451.5C942.6 1449.8 943.3 1446.6 943.7 1445.2C944.1 1443.8 944.8 1442 945.2 1441.6C945.6 1441.2 946.3 1441.7 946.7 1442.6C947.1 1443.4 947.8 1446 948.2 1447.6C948.6 1449.1 949.3 1452.4 949.7 1453.9C950.1 1455.4 950.8 1457.7 951.2 1458.3C951.6 1459 952.3 1459.1 952.7 1458.6C953.1 1458.1 953.8 1456.1 954.2 1454.8C954.6 1453.5 955.3 1450.6 955.7 1449.2C956.1 1447.8 956.8 1445.6 957.2 1444.8C957.6 1444.1 958.3 1443.7 958.7 1444C959.1 1444.3 959.8 1445.9 960.2 1447.1C960.6 1448.3 961.3 1451 961.7 1452.5C962.1 1454 962.8 1456.7 963.2 1457.7C963.6 1458.8 964 1462.7 964.7 1460.3C965.4 1457.9 966.6 1444 968.2 1440.7C969.8 1437.4 973.7 1443.1 976.2 1436.7C978.7 1430.2 983.4 1402.4 986.2 1394.6C989 1386.7 994 1386.4 996.2 1380.6C998.5 1374.7 1000 1358.1 1002.3 1352.5C1004.5 1346.9 1009.8 1344.1 1012.3 1340.5C1014.8 1336.8 1017.8 1332.6 1020.3 1326.4C1022.8 1320.2 1027.2 1303.9 1030.3 1296.3C1033.4 1288.8 1039.3 1279 1042.4 1272.3C1045.4 1265.5 1049.9 1252.2 1052.4 1248.2C1054.9 1244.3 1057.3 1248.1 1060.4 1244.2C1063.5 1240.3 1070.5 1229.7 1074.4 1220.2C1078.4 1210.6 1085.4 1184.4 1088.5 1176C1091.6 1167.7 1094.5 1163.5 1096.5 1160.8C1098.5 1158.1 1101.1 1161 1102.5 1156.7C1103.9 1152.5 1104.8 1135.2 1106.5 1130.7C1108.2 1126.2 1112.9 1127.2 1114.5 1124.7C1116.2 1122.1 1117.6 1115 1118.5 1112.6C1119.5 1110.2 1120.4 1106.9 1121.6 1107.6C1122.7 1108.3 1125 1116.5 1126.6 1117.6C1128.1 1118.8 1131.2 1114.7 1132.6 1115.6C1134 1116.6 1135.5 1120.6 1136.6 1124.7C1137.7 1128.7 1139.2 1139.1 1140.6 1144.7C1142 1150.3 1145.2 1157 1146.6 1164.8C1148 1172.5 1148.9 1186.7 1150.6 1200.1C1152.3 1213.5 1156.4 1243.4 1158.6 1260.3C1160.9 1277.1 1164.4 1303.6 1166.7 1320.4C1168.9 1337.2 1172.2 1366.5 1174.7 1380.6C1177.2 1394.6 1182.2 1411.1 1184.7 1420.7C1187.2 1430.2 1190.5 1442.4 1192.7 1448.7C1195 1455 1199.2 1464.4 1200.8 1465.8C1202.3 1467.1 1203.1 1458.8 1203.8 1458.2C1204.4 1457.6 1204.8 1460.9 1205.3 1461.6C1205.7 1462.4 1206.3 1463.3 1206.8 1463.5C1207.2 1463.7 1207.8 1463.4 1208.3 1463C1208.7 1462.6 1209.3 1461.4 1209.8 1460.7C1210.2 1460 1210.8 1458.7 1211.3 1458.1C1211.7 1457.6 1212.3 1457 1212.8 1457C1213.2 1456.9 1213.8 1457.4 1214.3 1457.8C1214.7 1458.3 1215.3 1459.6 1215.8 1460.3C1216.2 1461 1216.8 1462.3 1217.3 1462.8C1217.7 1463.4 1218.3 1464 1218.8 1464C1219.2 1464.1 1219.8 1463.6 1220.3 1463.1C1220.7 1462.7 1221.3 1461.4 1221.8 1460.6C1222.2 1459.9 1222.8 1458.5 1223.3 1457.9C1223.7 1457.4 1224.3 1456.7 1224.8 1456.7C1225.2 1456.6 1225.8 1457.1 1226.3 1457.6C1226.7 1458.1 1227.3 1459.4 1227.8 1460.2C1228.2 1460.9 1228.8 1462.3 1229.3 1462.8C1229.7 1463.3 1230.3 1463.8 1230.8 1463.8C1231.2 1463.8 1231.8 1463.2 1232.3 1462.6C1232.7 1462.1 1233.3 1460.7 1233.8 1460C1234.2 1459.2 1234.8 1457.9 1235.3 1457.5C1235.7 1457 1236.3 1456.7 1236.8 1456.8C1237.2 1456.9 1237.8 1457.6 1238.3 1458.2C1238.7 1458.8 1239.3 1460.2 1239.8 1460.9C1240.2 1461.7 1240.8 1462.9 1241.3 1463.4C1241.7 1463.8 1242.3 1464.2 1242.8 1464.1C1243.2 1464 1243.8 1463.3 1244.3 1462.8C1244.7 1462.3 1245.3 1460.9 1245.8 1460.3C1246.2 1459.6 1246.8 1458.4 1247.3 1457.9C1247.7 1457.5 1248.3 1457.1 1248.8 1457.2C1249.2 1457.2 1249.8 1457.8 1250.3 1458.4C1250.7 1458.9 1251.3 1460.2 1251.8 1460.8C1252.2 1461.4 1252.8 1462.6 1253.3 1462.9C1253.7 1463.3 1254.3 1463.5 1254.8 1463.2C1255.2 1462.9 1255.8 1461.7 1256.3 1460.7C1256.7 1459.8 1257.3 1457.6 1257.8 1456.4C1258.2 1455.2 1258.8 1453 1259.3 1452.2C1259.7 1451.4 1260.3 1450.6 1260.8 1450.7C1261.2 1450.7 1261.8 1451.7 1262.3 1452.6C1262.7 1453.4 1263.3 1455.7 1263.8 1456.7C1264.2 1457.8 1264.8 1459.7 1265.3 1460.1C1265.7 1460.6 1266.3 1460.7 1266.8 1460.1C1267.2 1459.5 1267.8 1457.4 1268.3 1455.9C1268.7 1454.4 1269.3 1451 1269.8 1449.4C1270.2 1447.8 1270.8 1445.2 1271.3 1444.5C1271.7 1443.7 1272.3 1443.5 1272.8 1444.1C1273.2 1444.6 1273.8 1446.9 1274.3 1448.4C1274.7 1449.9 1275.3 1453.2 1275.8 1454.8C1276.2 1456.3 1276.8 1458.6 1277.3 1459.2C1277.7 1459.8 1278.3 1459.7 1278.8 1459C1279.2 1458.4 1279.8 1456.1 1280.3 1454.8C1280.7 1453.4 1281.3 1450.6 1281.8 1449.5C1282.2 1448.4 1282.8 1446.9 1283.3 1446.8C1283.7 1446.6 1284.3 1447.5 1284.8 1448.5C1285.2 1449.4 1285.8 1452 1286.3 1453.5C1286.7 1455 1287.3 1457.8 1287.8 1459C1288.2 1460.2 1288.8 1461.7 1289.3 1462.2C1289.7 1462.6 1290.3 1462.4 1290.8 1462.1C1291.2 1461.8 1291.8 1460.5 1292.3 1459.9C1292.7 1459.3 1293.3 1458.1 1293.8 1457.7C1294.2 1457.3 1294.8 1457.1 1295.3 1457.3C1295.7 1457.4 1296.3 1458.3 1296.8 1458.9C1297.2 1459.5 1297.8 1460.8 1298.3 1461.6C1298.7 1462.3 1299.3 1463.5 1299.8 1464C1300.2 1464.5 1300.8 1464.9 1301.3 1465C1301.7 1465.1 1302.3 1464.9 1302.8 1464.6C1303.2 1464.3 1303.8 1463.4 1304.3 1462.9C1304.7 1462.3 1305.3 1461.3 1305.8 1460.8C1306.2 1460.3 1306.8 1459.5 1307.3 1459.3C1307.7 1459 1308.3 1459 1308.8 1459.2C1309.2 1459.4 1309.8 1460.1 1310.3 1460.5C1310.7 1461 1311.3 1462.1 1311.8 1462.5C1312.2 1462.8 1312.8 1463.4 1313.3 1463.3C1313.7 1463.1 1314.3 1462.4 1314.8 1461.7C1315.2 1460.9 1315.8 1458.8 1316.3 1457.6C1316.7 1456.4 1317.3 1454.1 1317.8 1453C1318.2 1452 1318.8 1450.7 1319.3 1450.4C1319.7 1450.2 1320.3 1450.7 1320.8 1451.3C1321.2 1452 1321.8 1454 1322.3 1455.2C1322.7 1456.3 1323.3 1458.5 1323.8 1459.3C1324.2 1460.1 1324.8 1461 1325.3 1460.8C1325.7 1460.7 1326.3 1459.3 1326.8 1458.2C1327.2 1457.1 1327.8 1454.2 1328.3 1452.8C1328.7 1451.3 1329.3 1448.6 1329.8 1447.6C1330.2 1446.7 1330.8 1445.8 1331.3 1446C1331.7 1446.1 1332.3 1447.4 1332.8 1448.8C1333.2 1450.2 1333.8 1454.2 1334.3 1456C1334.7 1457.7 1335.3 1460.4 1335.8 1461.5C1336.2 1462.6 1336.8 1463.3 1337.3 1463.6C1337.7 1463.8 1338.3 1463.7 1338.8 1463.6C1339.2 1463.5 1339.8 1463.4 1340.3 1463C1340.7 1462.7 1341.3 1461.7 1341.8 1461.3C1342.2 1460.9 1342.8 1460.5 1343.3 1460.5C1343.7 1460.5 1344.3 1460.8 1344.8 1461.2C1345.2 1461.5 1345.8 1462.3 1346.3 1462.8C1346.7 1463.2 1347.3 1464 1347.8 1464.2C1348.2 1464.4 1348.8 1464.5 1349.3 1464.3C1349.7 1464.1 1350.3 1463.2 1350.8 1462.5C1351.2 1461.8 1351.8 1460.3 1352.3 1459.5C1352.7 1458.7 1353.3 1457.3 1353.8 1456.8C1354.2 1456.3 1354.8 1455.8 1355.3 1455.9C1355.7 1456 1356.3 1456.8 1356.8 1457.4C1357.2 1458 1357.8 1459.5 1358.3 1460.3C1358.7 1461 1359.3 1462.2 1359.8 1462.5C1360.2 1462.8 1360.8 1462.8 1361.3 1462.4C1361.7 1462 1362.3 1460.5 1362.8 1459.5C1363.2 1458.5 1363.8 1456.3 1364.3 1455.3C1364.7 1454.3 1365.5 1452.6 1365.8 1452.2" stroke="#00ffff"/><path d="M577.7 1468.3C577.7 1467.5 577.5 1463.9 577.7 1462.9C577.9 1461.8 578.8 1461.3 579.2 1460.7C579.6 1460.1 580.3 1459.1 580.7 1458.7C581.1 1458.3 581.8 1457.8 582.2 1457.8C582.6 1457.7 583.3 1458 583.7 1458.4C584.1 1458.7 584.8 1459.6 585.2 1460.2C585.6 1460.7 586.3 1461.8 586.7 1462.3C587.1 1462.8 587.8 1463.5 588.2 1463.6C588.6 1463.8 589.3 1463.7 589.7 1463.3C590.1 1463 590.8 1461.9 591.2 1461.1C591.6 1460.3 592.3 1458.7 592.7 1457.8C593.1 1456.9 593.8 1455.4 594.2 1454.8C594.6 1454.2 595.3 1453.5 595.7 1453.5C596.1 1453.4 596.8 1453.9 597.2 1454.4C597.6 1455 598.3 1456.4 598.7 1457.3C599.1 1458.1 599.8 1459.7 600.2 1460.4C600.6 1461.1 601.3 1462 601.7 1462.2C602.1 1462.3 602.8 1461.9 603.2 1461.4C603.6 1460.9 604.3 1459.4 604.7 1458.4C605.1 1457.5 605.8 1455.5 606.2 1454.6C606.6 1453.7 607.3 1452.4 607.7 1452C608.1 1451.6 608.8 1451.5 609.2 1451.8C609.6 1452.1 610.3 1453.3 610.7 1454.2C611.1 1455.1 611.8 1457 612.2 1458C612.6 1459 613.3 1460.7 613.7 1461.4C614.1 1462.1 614.8 1462.9 615.2 1463C615.6 1463.1 616.3 1462.7 616.7 1462.4C617.1 1462 617.8 1460.9 618.2 1460.3C618.6 1459.7 619.3 1458.6 619.7 1458.1C620.1 1457.7 620.8 1457.2 621.2 1457.1C621.6 1457.1 622.3 1457.5 622.7 1457.8C623.1 1458.2 623.8 1459.2 624.2 1459.9C624.6 1460.5 625.3 1461.7 625.7 1462.3C626.1 1462.9 626.8 1463.8 627.2 1464.2C627.6 1464.6 628.3 1464.9 628.7 1464.9C629.1 1464.9 629.8 1464.6 630.2 1464.3C630.6 1464 631.3 1463.3 631.7 1462.8C632.1 1462.4 632.8 1461.7 633.2 1461.3C633.6 1461 634.3 1460.5 634.7 1460.4C635.1 1460.3 635.8 1460.3 636.2 1460.5C636.6 1460.7 637.3 1461.2 637.7 1461.6C638.1 1462 638.8 1462.8 639.2 1463.2C639.6 1463.6 640.3 1464.3 640.7 1464.5C641.1 1464.7 641.8 1464.9 642.2 1464.8C642.6 1464.7 643.3 1464.1 643.7 1463.7C644.1 1463.3 644.8 1462.4 645.2 1461.8C645.6 1461.3 646.3 1460.3 646.7 1459.9C647.1 1459.5 647.8 1459.1 648.2 1459C648.6 1458.9 649.3 1459.2 649.7 1459.5C650.1 1459.8 650.8 1460.6 651.2 1461.1C651.6 1461.6 652.3 1462.7 652.7 1463.1C653.1 1463.6 653.8 1464.3 654.2 1464.6C654.6 1464.8 655.3 1464.9 655.7 1464.8C656.1 1464.7 656.8 1464.2 657.2 1463.8C657.6 1463.5 658.3 1462.8 658.7 1462.4C659.1 1462 659.8 1461.5 660.2 1461.3C660.6 1461.1 661.3 1461 661.7 1461.1C662.1 1461.2 662.8 1461.6 663.2 1461.9C663.6 1462.2 664.3 1462.9 664.7 1463.3C665.1 1463.7 665.8 1464.4 666.2 1464.7C666.6 1465 667.3 1465.4 667.7 1465.5C668.1 1465.6 668.8 1465.6 669.2 1465.4C669.6 1465.3 670.3 1464.8 670.7 1464.4C671.1 1464.1 671.8 1463.3 672.2 1462.9C672.6 1462.5 673.3 1461.8 673.7 1461.4C674.1 1461.1 674.8 1460.7 675.2 1460.6C675.6 1460.5 676.3 1460.6 676.7 1460.8C677.1 1461 677.8 1461.5 678.2 1461.9C678.6 1462.3 679.3 1463 679.7 1463.4C680.1 1463.7 680.8 1464.1 681.2 1464.2C681.6 1464.2 682.3 1463.9 682.7 1463.4C683.1 1463 683.8 1461.8 684.2 1461C684.6 1460.2 685.3 1458.6 685.7 1457.7C686.1 1456.8 686.8 1455.3 687.2 1454.8C687.6 1454.2 688.3 1453.6 688.7 1453.6C689.1 1453.7 689.8 1454.3 690.2 1454.9C690.6 1455.5 691.3 1457 691.7 1457.8C692.1 1458.7 692.8 1460.3 693.2 1460.9C693.6 1461.5 694.3 1462.2 694.7 1462.3C695.1 1462.3 695.8 1461.7 696.2 1461.1C696.6 1460.5 697.3 1458.9 697.7 1457.9C698.1 1457 698.8 1455.1 699.2 1454.2C699.6 1453.4 700.3 1452.2 700.7 1452C701.1 1451.7 701.8 1451.8 702.2 1452.2C702.6 1452.6 703.3 1454 703.7 1454.9C704.1 1455.8 704.8 1457.7 705.2 1458.7C705.6 1459.6 706.3 1461.2 706.7 1461.8C707.1 1462.4 707.8 1462.9 708.2 1462.9C708.6 1462.9 709.3 1462.3 709.7 1461.8C710.1 1461.3 710.8 1460 711.2 1459.2C711.6 1458.5 712.3 1457.2 712.7 1456.6C713.1 1456.1 713.8 1455.4 714.2 1455.3C714.6 1455.2 715.3 1455.5 715.7 1455.9C716.1 1456.2 716.8 1457.4 717.2 1458.1C717.6 1458.8 718.3 1460.2 718.7 1460.9C719.1 1461.6 719.8 1462.7 720.2 1463C720.6 1463.4 721.3 1463.7 721.7 1463.5C722.1 1463.4 722.8 1462.7 723.2 1462.1C723.6 1461.5 724.3 1460.1 724.7 1459.4C725.1 1458.6 725.8 1457.2 726.2 1456.6C726.6 1456 727.3 1455.3 727.7 1455.2C728.1 1455 728.8 1455.3 729.2 1455.7C729.6 1456.1 730.3 1457.3 730.7 1458C731.1 1458.7 731.8 1460.2 732.2 1460.9C732.6 1461.6 733.3 1462.6 733.7 1463C734.1 1463.3 734.8 1463.4 735.2 1463.2C735.6 1463 736.3 1462.1 736.7 1461.5C737.1 1461 737.8 1459.6 738.2 1459C738.6 1458.3 739.3 1457.3 739.7 1456.9C740.1 1456.6 740.8 1456.3 741.2 1456.5C741.6 1456.6 742.3 1457.3 742.7 1457.9C743.1 1458.5 743.8 1459.8 744.2 1460.5C744.6 1461.2 745.3 1462.5 745.7 1463C746.1 1463.6 746.8 1464.3 747.2 1464.6C747.6 1464.8 748.3 1464.8 748.7 1464.7C749.1 1464.6 749.8 1464.2 750.2 1463.9C750.6 1463.6 751.3 1463.1 751.7 1462.9C752.1 1462.6 752.8 1462.4 753.2 1462.3C753.6 1462.3 754.3 1462.4 754.7 1462.5C755.1 1462.7 755.8 1463.2 756.2 1463.4C756.6 1463.7 757.3 1464.3 757.7 1464.6C758.1 1464.9 758.8 1465.4 759.2 1465.6C759.6 1465.8 760.3 1466 760.7 1466.1C761.1 1466.1 761.8 1466 762.2 1465.9C762.6 1465.7 763.3 1465.3 763.7 1465C764.1 1464.7 764.8 1464.1 765.2 1463.7C765.6 1463.4 766.3 1462.7 766.7 1462.4C767.1 1462.2 767.8 1461.8 768.2 1461.7C768.6 1461.6 769.3 1461.7 769.7 1461.9C770.1 1462 770.8 1462.5 771.2 1462.9C771.6 1463.2 772.3 1463.8 772.7 1464C773.1 1464.3 773.8 1464.6 774.2 1464.6C774.6 1464.5 775.3 1464.1 775.7 1463.7C776.1 1463.3 776.8 1462.1 777.2 1461.4C777.6 1460.7 778.3 1459.3 778.7 1458.6C779.1 1457.9 779.8 1456.8 780.2 1456.4C780.6 1456 781.3 1455.8 781.7 1455.9C782.1 1456 782.8 1456.8 783.2 1457.4C783.6 1458 784.3 1459.3 784.7 1460C785.1 1460.7 785.8 1462 786.2 1462.4C786.6 1462.9 787.3 1463.3 787.7 1463.3C788.1 1463.2 788.8 1462.6 789.2 1462.1C789.6 1461.6 790.3 1460.2 790.7 1459.5C791.1 1458.7 791.8 1457.3 792.2 1456.7C792.6 1456.1 793.3 1455.4 793.7 1455.2C794.1 1455.1 794.8 1455.3 795.2 1455.7C795.6 1456 796.3 1457.2 796.7 1457.9C797.1 1458.6 797.8 1460 798.2 1460.7C798.6 1461.4 799.3 1462.6 799.7 1462.9C800.1 1463.3 800.8 1463.6 801.2 1463.5C801.6 1463.3 802.3 1462.6 802.7 1462C803.1 1461.4 803.8 1460 804.2 1459.2C804.6 1458.4 805.3 1457 805.7 1456.3C806.1 1455.7 806.8 1454.8 807.2 1454.6C807.6 1454.4 808.3 1454.6 808.7 1454.9C809.1 1455.3 809.8 1456.4 810.2 1457.1C810.6 1457.8 811.3 1459.3 811.7 1460C812.1 1460.7 812.8 1461.9 813.2 1462.2C813.6 1462.5 814.3 1462.6 814.7 1462.3C815.1 1461.9 815.8 1460.8 816.2 1459.9C816.6 1459 817.3 1457 817.7 1456C818.1 1454.9 818.8 1453 819.2 1452.3C819.6 1451.5 820.3 1450.7 820.7 1450.6C821.1 1450.6 821.8 1451.2 822.2 1451.8C822.6 1452.5 823.3 1454.3 823.7 1455.3C824.1 1456.3 824.8 1458.3 825.2 1459.2C825.6 1460.2 826.3 1461.4 826.7 1461.8C827.1 1462.1 827.8 1462 828.2 1461.7C828.6 1461.3 829.3 1460.1 829.7 1459.3C830.1 1458.5 830.8 1456.9 831.2 1456.1C831.6 1455.3 832.3 1454.2 832.7 1453.9C833.1 1453.6 833.8 1453.6 834.2 1453.9C834.6 1454.2 835.3 1455.3 835.7 1456.1C836.1 1456.8 836.8 1458.5 837.2 1459.4C837.6 1460.3 838.3 1461.8 838.7 1462.5C839.1 1463.1 839.8 1463.9 840.2 1464.1C840.6 1464.3 841.3 1464.2 841.7 1464C842.1 1463.8 842.8 1463.1 843.2 1462.8C843.6 1462.4 844.3 1461.6 844.7 1461.3C845.1 1461 845.8 1460.6 846.2 1460.5C846.6 1460.5 847.3 1460.6 847.7 1460.8C848.1 1461 848.8 1461.6 849.2 1461.9C849.6 1462.3 850.3 1463.1 850.7 1463.5C851.1 1463.9 851.8 1464.5 852.2 1464.8C852.6 1465.1 853.3 1465.4 853.7 1465.4C854.1 1465.4 854.8 1465.2 855.2 1464.9C855.6 1464.7 856.3 1464 856.7 1463.6C857.1 1463.1 857.8 1462.3 858.2 1461.8C858.6 1461.4 859.3 1460.7 859.7 1460.4C860.1 1460.1 860.8 1459.8 861.2 1459.8C861.6 1459.8 862.3 1460.1 862.7 1460.4C863.1 1460.7 863.8 1461.5 864.2 1462C864.6 1462.4 865.3 1463.2 865.7 1463.5C866.1 1463.8 866.8 1464.1 867.2 1464C867.6 1463.9 868.3 1463.4 868.7 1462.9C869.1 1462.4 869.8 1461.1 870.2 1460.3C870.6 1459.6 871.3 1458.1 871.7 1457.5C872.1 1456.8 872.8 1455.9 873.2 1455.7C873.6 1455.5 874.3 1455.6 874.7 1455.9C875.1 1456.2 875.8 1457.2 876.2 1457.9C876.6 1458.5 877.3 1460 877.7 1460.7C878.1 1461.4 878.8 1462.5 879.2 1462.9C879.6 1463.3 880.3 1463.6 880.7 1463.5C881.1 1463.4 881.8 1462.7 882.2 1462.1C882.6 1461.5 883.3 1460.2 883.7 1459.5C884.1 1458.7 884.8 1457.4 885.2 1456.8C885.6 1456.3 886.3 1455.5 886.7 1455.4C887.1 1455.2 887.8 1455.4 888.2 1455.7C888.6 1456 889.3 1457 889.7 1457.6C890.1 1458.3 890.8 1459.6 891.2 1460.3C891.6 1460.9 892.3 1462 892.7 1462.2C893.1 1462.5 893.8 1462.5 894.2 1462.1C894.6 1461.6 895.3 1460.3 895.7 1459.2C896.1 1458.1 896.8 1455.6 897.2 1454.1C897.6 1452.6 898.3 1449.8 898.7 1448.5C899.1 1447.3 899.8 1445.5 900.2 1445.1C900.6 1444.6 901.3 1444.7 901.7 1445.3C902.1 1445.9 902.8 1447.8 903.2 1449C903.6 1450.3 904.3 1453 904.7 1454.2C905.1 1455.4 905.8 1457.3 906.2 1457.6C906.6 1458 907.3 1457.7 907.7 1456.8C908.1 1455.9 908.8 1453.2 909.2 1451.2C909.6 1449.3 910.3 1445.2 910.7 1443C911.1 1440.9 911.8 1437.3 912.2 1436C912.6 1434.7 913.3 1433.4 913.7 1433.5C914.1 1433.7 914.8 1435.4 915.2 1436.9C915.6 1438.4 916.3 1442.2 916.7 1444.4C917.1 1446.5 917.8 1450.5 918.2 1452.2C918.6 1453.9 919.3 1456 919.7 1456.5C920.1 1456.9 920.8 1456.4 921.2 1455.5C921.6 1454.6 922.3 1451.8 922.7 1450.1C923.1 1448.4 923.8 1445 924.2 1443.5C924.6 1442 925.3 1439.9 925.7 1439.3C926.1 1438.8 926.8 1439 927.2 1439.7C927.6 1440.4 928.3 1442.8 928.7 1444.4C929.1 1446 929.8 1449.4 930.2 1451.2C930.6 1453 931.3 1455.9 931.7 1457.1C932.1 1458.3 932.8 1459.6 933.2 1459.8C933.6 1460 934.3 1459.3 934.7 1458.6C935.1 1457.9 935.8 1455.8 936.2 1454.6C936.6 1453.3 937.3 1450.9 937.7 1449.9C938.1 1448.8 938.8 1447.3 939.2 1446.9C939.6 1446.4 940.3 1446.5 940.7 1447C941.1 1447.4 941.8 1449 942.2 1450.1C942.6 1451.2 943.3 1453.7 943.7 1454.9C944.1 1456.2 944.8 1458.3 945.2 1459C945.6 1459.8 946.3 1460.6 946.7 1460.5C947.1 1460.4 947.8 1459.3 948.2 1458.4C948.6 1457.4 949.3 1455 949.7 1453.7C950.1 1452.3 950.8 1449.7 951.2 1448.5C951.6 1447.4 952.3 1445.8 952.7 1445.5C953.1 1445.2 953.8 1445.5 954.2 1446.1C954.6 1446.8 955.3 1448.8 955.7 1450.1C956.1 1451.4 956.8 1454.1 957.2 1455.5C957.6 1456.8 958.3 1458.9 958.7 1459.6C959.1 1460.4 959.8 1460.9 960.2 1460.8C960.6 1460.7 961.3 1459.6 961.7 1458.9C962.1 1458.1 962.8 1456.2 963.2 1455.3C963.6 1454.4 964.3 1452.9 964.7 1452.4C965.1 1451.9 965.8 1451.6 966.2 1451.8C966.6 1452 967.3 1453.1 967.7 1453.9C968.1 1454.8 968.8 1456.6 969.2 1457.7C969.6 1458.7 970.3 1460.5 970.7 1461.3C971.1 1462.2 971.8 1463.3 972.2 1463.6C972.6 1464 973.3 1464.2 973.7 1464.1C974.1 1464.1 974.8 1463.5 975.2 1463.1C975.6 1462.8 976.3 1461.9 976.7 1461.5C977.1 1461 977.8 1460.2 978.2 1459.9C978.6 1459.6 979.3 1459.2 979.7 1459.2C980.1 1459.1 980.8 1459.3 981.2 1459.5C981.6 1459.8 982.3 1460.4 982.7 1460.9C983.1 1461.3 983.8 1462.2 984.2 1462.6C984.6 1462.9 985.3 1463.6 985.7 1463.6C986.1 1463.7 986.8 1463.6 987.2 1463.1C987.6 1462.7 988.3 1461.4 988.7 1460.5C989.1 1459.5 989.8 1457.4 990.2 1456.2C990.6 1455 991.3 1452.9 991.7 1452C992.1 1451 992.6 1448.3 993.2 1449.6C993.8 1450.8 995.3 1459.7 996.2 1460.8C997.2 1461.8 998.8 1462.4 1000.3 1456.7C1001.7 1451.1 1004.3 1430.5 1006.3 1420.7C1008.2 1410.8 1012.3 1393.6 1014.3 1386.6C1016.3 1379.5 1018.3 1377.5 1020.3 1370.5C1022.3 1363.5 1026.1 1342.9 1028.3 1336.4C1030.6 1330 1034.1 1330.6 1036.3 1324.4C1038.6 1318.2 1042.1 1299.1 1044.4 1292.3C1046.6 1285.6 1050.1 1281.9 1052.4 1276.3C1054.6 1270.7 1058.4 1259 1060.4 1252.2C1062.4 1245.5 1064.5 1234.6 1066.4 1228.2C1068.4 1221.7 1072.5 1212.9 1074.4 1206.1C1076.4 1199.4 1078.5 1185.8 1080.5 1180.1C1082.4 1174.3 1086.8 1170.3 1088.5 1164.8C1090.2 1159.3 1091.1 1146.6 1092.5 1140.7C1093.9 1134.8 1096.8 1127.4 1098.5 1122.7C1100.2 1117.9 1103.1 1112.5 1104.5 1106.6C1105.9 1100.7 1107.1 1084.8 1108.5 1080.6C1109.9 1076.3 1113.1 1078.5 1114.5 1076.5C1115.9 1074.6 1117.3 1069.5 1118.5 1066.5C1119.8 1063.6 1121.9 1055.6 1123.6 1055.5C1125.2 1055.3 1128.8 1064.1 1130.6 1065.5C1132.4 1066.9 1135.3 1063.4 1136.6 1065.5C1137.9 1067.6 1138.6 1075.6 1139.6 1080.6C1140.6 1085.5 1142.3 1095 1143.6 1100.6C1144.9 1106.2 1147.1 1112.2 1148.6 1120.7C1150.2 1129.1 1153 1146.8 1154.6 1160.8C1156.3 1174.7 1158.7 1203.4 1160.7 1220.2C1162.6 1236.9 1166.4 1263.5 1168.7 1280.3C1170.9 1297.1 1174.2 1323.6 1176.7 1340.5C1179.2 1357.3 1183.9 1386.6 1186.7 1400.6C1189.5 1414.6 1193.9 1432.3 1196.7 1440.7C1199.5 1449.1 1204.5 1457.2 1206.8 1460.8C1209 1464.3 1211.5 1466.3 1212.8 1465.8C1214 1465.2 1215.2 1458.1 1215.8 1456.7C1216.4 1455.4 1216.9 1456.1 1217.3 1456.2C1217.7 1456.3 1218.4 1457 1218.8 1457.5C1219.2 1458.1 1219.9 1459.3 1220.3 1460C1220.7 1460.7 1221.4 1461.9 1221.8 1462.3C1222.2 1462.8 1222.9 1463.2 1223.3 1463.2C1223.7 1463.1 1224.4 1462.4 1224.8 1461.9C1225.2 1461.3 1225.9 1459.8 1226.3 1459C1226.7 1458.2 1227.4 1456.7 1227.8 1456C1228.2 1455.4 1228.9 1454.7 1229.3 1454.6C1229.7 1454.4 1230.4 1454.8 1230.8 1455.3C1231.2 1455.8 1231.9 1457.1 1232.3 1457.9C1232.7 1458.8 1233.4 1460.4 1233.8 1461.1C1234.2 1461.9 1234.9 1463 1235.3 1463.5C1235.7 1463.9 1236.4 1464.1 1236.8 1464.1C1237.2 1464.1 1237.9 1463.6 1238.3 1463.3C1238.7 1462.9 1239.4 1462.1 1239.8 1461.8C1240.2 1461.4 1240.9 1460.9 1241.3 1460.7C1241.7 1460.6 1242.4 1460.6 1242.8 1460.7C1243.2 1460.9 1243.9 1461.4 1244.3 1461.7C1244.7 1462.1 1245.4 1462.8 1245.8 1463.2C1246.2 1463.7 1246.9 1464.4 1247.3 1464.7C1247.7 1465 1248.4 1465.5 1248.8 1465.6C1249.2 1465.7 1249.9 1465.7 1250.3 1465.6C1250.7 1465.4 1251.4 1465 1251.8 1464.7C1252.2 1464.4 1252.9 1463.6 1253.3 1463.2C1253.7 1462.8 1254.4 1462.1 1254.8 1461.7C1255.2 1461.4 1255.9 1460.9 1256.3 1460.8C1256.7 1460.7 1257.4 1460.8 1257.8 1461C1258.2 1461.2 1258.9 1461.7 1259.3 1462.1C1259.7 1462.5 1260.4 1463.3 1260.8 1463.7C1261.2 1464 1261.9 1464.5 1262.3 1464.6C1262.7 1464.7 1263.4 1464.5 1263.8 1464.2C1264.2 1463.9 1264.9 1463.1 1265.3 1462.6C1265.7 1462.1 1266.4 1461 1266.8 1460.5C1267.2 1460 1267.9 1459.3 1268.3 1459.1C1268.7 1458.9 1269.4 1458.8 1269.8 1459C1270.2 1459.2 1270.9 1459.9 1271.3 1460.4C1271.7 1460.8 1272.4 1461.9 1272.8 1462.4C1273.2 1462.9 1273.9 1463.8 1274.3 1464.2C1274.7 1464.6 1275.4 1465 1275.8 1465C1276.2 1465.1 1276.9 1464.9 1277.3 1464.6C1277.7 1464.4 1278.4 1463.8 1278.8 1463.4C1279.2 1463 1279.9 1462.3 1280.3 1461.9C1280.7 1461.6 1281.4 1461.1 1281.8 1461C1282.2 1460.8 1282.9 1460.8 1283.3 1460.9C1283.7 1461 1284.4 1461.5 1284.8 1461.8C1285.2 1462.1 1285.9 1462.8 1286.3 1463.2C1286.7 1463.6 1287.4 1464.2 1287.8 1464.4C1288.2 1464.7 1288.9 1464.8 1289.3 1464.7C1289.7 1464.6 1290.4 1464.1 1290.8 1463.7C1291.2 1463.2 1291.9 1462.1 1292.3 1461.5C1292.7 1460.8 1293.4 1459.5 1293.8 1458.9C1294.2 1458.3 1294.9 1457.5 1295.3 1457.2C1295.7 1457 1296.4 1457 1296.8 1457.2C1297.2 1457.5 1297.9 1458.3 1298.3 1458.9C1298.7 1459.5 1299.4 1460.8 1299.8 1461.4C1300.2 1462 1300.9 1463 1301.3 1463.3C1301.7 1463.6 1302.4 1463.7 1302.8 1463.6C1303.2 1463.4 1303.9 1462.6 1304.3 1462.1C1304.7 1461.5 1305.4 1460.3 1305.8 1459.7C1306.2 1459.1 1306.9 1458 1307.3 1457.7C1307.7 1457.3 1308.4 1457.1 1308.8 1457.2C1309.2 1457.3 1309.9 1458 1310.3 1458.5C1310.7 1459 1311.4 1460.2 1311.8 1460.8C1312.2 1461.5 1312.9 1462.7 1313.3 1463.2C1313.7 1463.7 1314.4 1464.4 1314.8 1464.6C1315.2 1464.7 1315.9 1464.7 1316.3 1464.6C1316.7 1464.4 1317.4 1463.8 1317.8 1463.4C1318.2 1463 1318.9 1462.2 1319.3 1461.8C1319.7 1461.4 1320.4 1460.8 1320.8 1460.6C1321.2 1460.4 1321.9 1460.3 1322.3 1460.4C1322.7 1460.5 1323.4 1460.9 1323.8 1461.2C1324.2 1461.5 1324.9 1462.3 1325.3 1462.7C1325.7 1463.2 1326.4 1463.9 1326.8 1464.2C1327.2 1464.6 1327.9 1465 1328.3 1465C1328.7 1465.1 1329.4 1464.9 1329.8 1464.6C1330.2 1464.4 1330.9 1463.6 1331.3 1463.2C1331.7 1462.7 1332.4 1461.7 1332.8 1461.2C1333.2 1460.8 1333.9 1460 1334.3 1459.8C1334.7 1459.5 1335.4 1459.4 1335.8 1459.5C1336.2 1459.6 1336.9 1460.1 1337.3 1460.5C1337.7 1460.9 1338.4 1461.9 1338.8 1462.4C1339.2 1462.9 1339.9 1463.7 1340.3 1464.1C1340.7 1464.4 1341.4 1464.8 1341.8 1464.8C1342.2 1464.8 1342.9 1464.5 1343.3 1464.3C1343.7 1464 1344.4 1463.3 1344.8 1462.9C1345.2 1462.5 1345.9 1461.9 1346.3 1461.6C1346.7 1461.4 1347.4 1461.1 1347.8 1461.1C1348.2 1461.2 1348.9 1461.5 1349.3 1461.8C1349.7 1462.1 1350.4 1462.8 1350.8 1463.2C1351.2 1463.6 1351.9 1464.4 1352.3 1464.7C1352.7 1465 1353.4 1465.4 1353.8 1465.6C1354.2 1465.7 1354.9 1465.8 1355.3 1465.7C1355.7 1465.6 1356.4 1465.2 1356.8 1464.9C1357.2 1464.6 1357.9 1463.8 1358.3 1463.3C1358.7 1462.8 1359.4 1461.9 1359.8 1461.3C1360.2 1460.8 1360.9 1459.9 1361.3 1459.5C1361.7 1459.1 1362.4 1458.5 1362.8 1458.4C1363.2 1458.3 1363.9 1458.4 1364.3 1458.7C1364.7 1458.9 1365.6 1459.8 1365.8 1460" stroke="#ff00ff"/><path d="M577.7 1468.3C577.7 1466.6 577.5 1457.7 577.7 1456C577.9 1454.3 578.8 1455.7 579.2 1456C579.6 1456.3 580.3 1457.3 580.7 1457.9C581.1 1458.6 581.8 1460 582.2 1460.8C582.6 1461.6 583.3 1462.8 583.7 1463.3C584.1 1463.8 584.8 1464.4 585.2 1464.5C585.6 1464.6 586.3 1464.4 586.7 1464.2C587.1 1463.9 587.8 1463.1 588.2 1462.6C588.6 1462.2 589.3 1461.2 589.7 1460.8C590.1 1460.4 590.8 1459.8 591.2 1459.6C591.6 1459.5 592.3 1459.5 592.7 1459.6C593.1 1459.8 593.8 1460.4 594.2 1460.9C594.6 1461.3 595.3 1462.2 595.7 1462.7C596.1 1463.2 596.8 1463.9 597.2 1464.2C597.6 1464.4 598.3 1464.5 598.7 1464.3C599.1 1464.2 599.8 1463.5 600.2 1463C600.6 1462.4 601.3 1461.2 601.7 1460.6C602.1 1459.9 602.8 1458.8 603.2 1458.3C603.6 1457.9 604.3 1457.4 604.7 1457.5C605.1 1457.5 605.8 1457.9 606.2 1458.4C606.6 1458.8 607.3 1460 607.7 1460.6C608.1 1461.3 608.8 1462.5 609.2 1463C609.6 1463.5 610.3 1464.1 610.7 1464.3C611.1 1464.4 611.8 1464.2 612.2 1463.9C612.6 1463.7 613.3 1462.9 613.7 1462.4C614.1 1462 614.8 1461.1 615.2 1460.7C615.6 1460.4 616.3 1459.9 616.7 1459.9C617.1 1459.8 617.8 1460.1 618.2 1460.4C618.6 1460.7 619.3 1461.4 619.7 1461.9C620.1 1462.4 620.8 1463.3 621.2 1463.7C621.6 1464.2 622.3 1464.8 622.7 1465C623.1 1465.3 623.8 1465.4 624.2 1465.3C624.6 1465.3 625.3 1464.9 625.7 1464.6C626.1 1464.2 626.8 1463.5 627.2 1463C627.6 1462.5 628.3 1461.7 628.7 1461.3C629.1 1460.9 629.8 1460.3 630.2 1460.2C630.6 1460 631.3 1460 631.7 1460.2C632.1 1460.3 632.8 1460.9 633.2 1461.3C633.6 1461.7 634.3 1462.6 634.7 1462.9C635.1 1463.3 635.8 1463.8 636.2 1463.8C636.6 1463.8 637.3 1463.5 637.7 1463C638.1 1462.5 638.8 1461.1 639.2 1460.1C639.6 1459.2 640.3 1457.1 640.7 1456.1C641.1 1455.1 641.8 1453.4 642.2 1452.7C642.6 1452.1 643.3 1451.6 643.7 1451.7C644.1 1451.8 644.8 1452.7 645.2 1453.5C645.6 1454.3 646.3 1456.2 646.7 1457.2C647.1 1458.1 647.8 1459.9 648.2 1460.5C648.6 1461 649.3 1461.5 649.7 1461.3C650.1 1461.1 650.8 1459.9 651.2 1459C651.6 1458 652.3 1455.8 652.7 1454.5C653.1 1453.3 653.8 1451.2 654.2 1450.4C654.6 1449.6 655.3 1448.7 655.7 1448.7C656.1 1448.7 656.8 1449.6 657.2 1450.4C657.6 1451.2 658.3 1453.3 658.7 1454.5C659.1 1455.7 659.8 1458 660.2 1459C660.6 1460 661.3 1461.3 661.7 1461.6C662.1 1461.9 662.8 1461.7 663.2 1461.3C663.6 1460.8 664.3 1459.3 664.7 1458.3C665.1 1457.4 665.8 1455.4 666.2 1454.5C666.6 1453.6 667.3 1452.3 667.7 1451.8C668.1 1451.4 668.8 1451.3 669.2 1451.6C669.6 1451.9 670.3 1453.2 670.7 1454C671.1 1454.9 671.8 1456.8 672.2 1457.8C672.6 1458.7 673.3 1460.4 673.7 1461C674.1 1461.6 674.8 1462.1 675.2 1461.9C675.6 1461.8 676.3 1460.8 676.7 1459.9C677.1 1459 677.8 1456.9 678.2 1455.7C678.6 1454.5 679.3 1452.2 679.7 1451.3C680.1 1450.3 680.8 1449.1 681.2 1448.9C681.6 1448.7 682.3 1449.2 682.7 1449.8C683.1 1450.4 683.8 1452.3 684.2 1453.5C684.6 1454.6 685.3 1457 685.7 1458C686.1 1459 686.8 1460.5 687.2 1460.9C687.6 1461.2 688.3 1461 688.7 1460.5C689.1 1460 689.8 1458.4 690.2 1457.3C690.6 1456.3 691.3 1454.1 691.7 1453.1C692.1 1452.1 692.8 1450.7 693.2 1450.4C693.6 1450 694.3 1450.2 694.7 1450.7C695.1 1451.2 695.8 1452.8 696.2 1453.9C696.6 1454.9 697.3 1457.2 697.7 1458.3C698.1 1459.4 698.8 1461.2 699.2 1461.9C699.6 1462.6 700.3 1463.2 700.7 1463.3C701.1 1463.4 701.8 1462.9 702.2 1462.5C702.6 1462.1 703.3 1461.1 703.7 1460.6C704.1 1460.2 704.8 1459.4 705.2 1459.1C705.6 1458.9 706.3 1458.8 706.7 1458.9C707.1 1459.1 707.8 1459.7 708.2 1460.1C708.6 1460.6 709.3 1461.6 709.7 1462.1C710.1 1462.6 710.8 1463.6 711.2 1464C711.6 1464.4 712.3 1465 712.7 1465.1C713.1 1465.3 713.8 1465.2 714.2 1465.1C714.6 1464.9 715.3 1464.3 715.7 1463.9C716.1 1463.5 716.8 1462.5 717.2 1462C717.6 1461.5 718.3 1460.6 718.7 1460.2C719.1 1459.9 719.8 1459.4 720.2 1459.4C720.6 1459.3 721.3 1459.6 721.7 1459.9C722.1 1460.2 722.8 1461 723.2 1461.5C723.6 1462 724.3 1462.9 724.7 1463.2C725.1 1463.6 725.8 1463.9 726.2 1463.9C726.6 1463.8 727.3 1463.2 727.7 1462.7C728.1 1462.2 728.8 1460.8 729.2 1460C729.6 1459.2 730.3 1457.7 730.7 1457C731.1 1456.4 731.8 1455.6 732.2 1455.4C732.6 1455.3 733.3 1455.5 733.7 1455.9C734.1 1456.4 734.8 1457.6 735.2 1458.4C735.6 1459.1 736.3 1460.7 736.7 1461.4C737.1 1462.1 737.8 1463.1 738.2 1463.4C738.6 1463.7 739.3 1463.7 739.7 1463.5C740.1 1463.3 740.8 1462.5 741.2 1461.9C741.6 1461.4 742.3 1460.2 742.7 1459.7C743.1 1459.1 743.8 1458.2 744.2 1458C744.6 1457.7 745.3 1457.6 745.7 1457.8C746.1 1457.9 746.8 1458.6 747.2 1459.1C747.6 1459.7 748.3 1460.8 748.7 1461.4C749.1 1462 749.8 1463 750.2 1463.4C750.6 1463.8 751.3 1464.3 751.7 1464.3C752.1 1464.3 752.8 1463.8 753.2 1463.4C753.6 1462.9 754.3 1461.8 754.7 1461C755.1 1460.3 755.8 1458.8 756.2 1458.1C756.6 1457.5 757.3 1456.4 757.7 1456.1C758.1 1455.7 758.8 1455.6 759.2 1455.8C759.6 1456 760.3 1456.9 760.7 1457.5C761.1 1458.1 761.8 1459.6 762.2 1460.2C762.6 1460.9 763.3 1462 763.7 1462.3C764.1 1462.6 764.8 1462.7 765.2 1462.3C765.6 1461.9 766.3 1460.6 766.7 1459.7C767.1 1458.7 767.8 1456.7 768.2 1455.6C768.6 1454.5 769.3 1452.7 769.7 1452C770.1 1451.3 770.8 1450.7 771.2 1450.8C771.6 1450.9 772.3 1451.9 772.7 1452.7C773.1 1453.5 773.8 1455.5 774.2 1456.5C774.6 1457.6 775.3 1459.6 775.7 1460.4C776.1 1461.2 776.8 1462.1 777.2 1462.2C777.6 1462.3 778.3 1461.8 778.7 1461.2C779.1 1460.7 779.8 1459.1 780.2 1458.3C780.6 1457.4 781.3 1455.7 781.7 1455C782.1 1454.4 782.8 1453.5 783.2 1453.4C783.6 1453.3 784.3 1453.8 784.7 1454.3C785.1 1454.8 785.8 1456.3 786.2 1457.2C786.6 1458.1 787.3 1459.9 787.7 1460.7C788.1 1461.5 788.8 1462.7 789.2 1463.1C789.6 1463.5 790.3 1463.7 790.7 1463.5C791.1 1463.4 791.8 1462.6 792.2 1462.1C792.6 1461.5 793.3 1460.3 793.7 1459.7C794.1 1459 794.8 1458 795.2 1457.7C795.6 1457.3 796.3 1457 796.7 1457.1C797.1 1457.1 797.8 1457.7 798.2 1458.2C798.6 1458.7 799.3 1459.9 799.7 1460.5C800.1 1461.1 800.8 1462.3 801.2 1462.8C801.6 1463.3 802.3 1463.9 802.7 1463.9C803.1 1464 803.8 1463.6 804.2 1463.2C804.6 1462.8 805.3 1461.7 805.7 1461C806.1 1460.3 806.8 1458.9 807.2 1458.2C807.6 1457.6 808.3 1456.7 808.7 1456.4C809.1 1456.2 809.8 1456.3 810.2 1456.5C810.6 1456.8 811.3 1457.8 811.7 1458.5C812.1 1459.2 812.8 1460.6 813.2 1461.3C813.6 1462 814.3 1463.1 814.7 1463.4C815.1 1463.8 815.8 1464 816.2 1463.9C816.6 1463.8 817.3 1463.1 817.7 1462.7C818.1 1462.2 818.8 1461.1 819.2 1460.7C819.6 1460.2 820.3 1459.4 820.7 1459.2C821.1 1459 821.8 1458.9 822.2 1459.1C822.6 1459.3 823.3 1460.1 823.7 1460.6C824.1 1461.1 824.8 1462.1 825.2 1462.7C825.6 1463.3 826.3 1464.2 826.7 1464.6C827.1 1465 827.8 1465.4 828.2 1465.5C828.6 1465.7 829.3 1465.6 829.7 1465.5C830.1 1465.4 830.8 1465 831.2 1464.8C831.6 1464.6 832.3 1464.2 832.7 1464C833.1 1463.9 833.8 1463.7 834.2 1463.6C834.6 1463.6 835.3 1463.6 835.7 1463.7C836.1 1463.8 836.8 1464.1 837.2 1464.3C837.6 1464.5 838.3 1464.9 838.7 1465.1C839.1 1465.3 839.8 1465.6 840.2 1465.7C840.6 1465.8 841.3 1465.9 841.7 1465.8C842.1 1465.7 842.8 1465.3 843.2 1464.9C843.6 1464.6 844.3 1463.8 844.7 1463.2C845.1 1462.7 845.8 1461.8 846.2 1461.3C846.6 1460.9 847.3 1460.2 847.7 1460C848.1 1459.8 848.8 1459.8 849.2 1460C849.6 1460.2 850.3 1460.8 850.7 1461.2C851.1 1461.7 851.8 1462.6 852.2 1463C852.6 1463.4 853.3 1464 853.7 1464C854.1 1464.1 854.8 1463.9 855.2 1463.5C855.6 1463.1 856.3 1461.9 856.7 1461.2C857.1 1460.5 857.8 1459 858.2 1458.3C858.6 1457.6 859.3 1456.6 859.7 1456.3C860.1 1455.9 860.8 1455.9 861.2 1456.1C861.6 1456.3 862.3 1457.3 862.7 1457.9C863.1 1458.6 863.8 1460 864.2 1460.7C864.6 1461.4 865.3 1462.6 865.7 1463C866.1 1463.5 866.8 1463.8 867.2 1463.7C867.6 1463.6 868.3 1463 868.7 1462.4C869.1 1461.9 869.8 1460.7 870.2 1460C870.6 1459.3 871.3 1458.1 871.7 1457.7C872.1 1457.2 872.8 1456.7 873.2 1456.6C873.6 1456.6 874.3 1457 874.7 1457.4C875.1 1457.8 875.8 1458.9 876.2 1459.6C876.6 1460.3 877.3 1461.5 877.7 1462.1C878.1 1462.6 878.8 1463.4 879.2 1463.5C879.6 1463.7 880.3 1463.5 880.7 1463C881.1 1462.6 881.8 1461.4 882.2 1460.6C882.6 1459.7 883.3 1458 883.7 1457.1C884.1 1456.2 884.8 1454.8 885.2 1454.2C885.6 1453.7 886.3 1453.3 886.7 1453.4C887.1 1453.5 887.8 1454.3 888.2 1455C888.6 1455.6 889.3 1457.3 889.7 1458.2C890.1 1459 890.8 1460.6 891.2 1461.1C891.6 1461.7 892.3 1462.2 892.7 1462C893.1 1461.9 893.8 1460.9 894.2 1460.1C894.6 1459.2 895.3 1457.2 895.7 1456.1C896.1 1455 896.8 1452.9 897.2 1452.1C897.6 1451.3 898.3 1450.4 898.7 1450.4C899.1 1450.3 899.8 1451 900.2 1451.7C900.6 1452.4 901.3 1454.3 901.7 1455.4C902.1 1456.5 902.8 1458.7 903.2 1459.6C903.6 1460.6 904.3 1461.8 904.7 1462.2C905.1 1462.5 905.8 1462.5 906.2 1462.1C906.6 1461.8 907.3 1460.6 907.7 1460C908.1 1459.3 908.8 1457.8 909.2 1457.2C909.6 1456.6 910.3 1455.8 910.7 1455.6C911.1 1455.4 911.8 1455.7 912.2 1456.1C912.6 1456.5 913.3 1457.6 913.7 1458.3C914.1 1459.1 914.8 1460.6 915.2 1461.3C915.6 1462 916.3 1463.2 916.7 1463.6C917.1 1464.1 917.8 1464.5 918.2 1464.5C918.6 1464.5 919.3 1464.1 919.7 1463.8C920.1 1463.4 920.8 1462.5 921.2 1462.1C921.6 1461.6 922.3 1460.7 922.7 1460.3C923.1 1459.9 923.8 1459.5 924.2 1459.4C924.6 1459.3 925.3 1459.5 925.7 1459.8C926.1 1460.1 926.8 1460.8 927.2 1461.3C927.6 1461.8 928.3 1462.7 928.7 1463.2C929.1 1463.6 929.8 1464.3 930.2 1464.4C930.6 1464.6 931.3 1464.5 931.7 1464.3C932.1 1464 932.8 1463.2 933.2 1462.6C933.6 1462.1 934.3 1460.9 934.7 1460.3C935.1 1459.7 935.8 1458.8 936.2 1458.5C936.6 1458.1 937.3 1457.9 937.7 1458.1C938.1 1458.2 938.8 1458.9 939.2 1459.4C939.6 1459.9 940.3 1461 940.7 1461.6C941.1 1462.2 941.8 1463.3 942.2 1463.7C942.6 1464.1 943.3 1464.5 943.7 1464.6C944.1 1464.6 944.8 1464.3 945.2 1464C945.6 1463.7 946.3 1462.9 946.7 1462.5C947.1 1462.1 947.8 1461.3 948.2 1461.1C948.6 1460.8 949.3 1460.6 949.7 1460.7C950.1 1460.7 950.8 1461.1 951.2 1461.5C951.6 1461.8 952.3 1462.6 952.7 1463C953.1 1463.4 953.8 1464.2 954.2 1464.6C954.6 1464.9 954.9 1466.1 955.7 1465.6C956.5 1465 958.4 1466.2 960.2 1460.8C961.9 1455.3 965.9 1436.2 968.2 1426.7C970.4 1417.1 973.7 1402.4 976.2 1392.6C978.7 1382.8 983.7 1363.8 986.2 1356.5C988.7 1349.2 991.7 1348.3 994.2 1340.5C996.8 1332.6 1001.5 1311.6 1004.3 1300.4C1007.1 1289.1 1011.5 1270.6 1014.3 1260.3C1017.1 1249.9 1021.5 1234 1024.3 1226.2C1027.1 1218.3 1031.8 1210.3 1034.3 1204.1C1036.9 1197.9 1039.8 1188.7 1042.4 1182.1C1044.9 1175.4 1049.9 1162.5 1052.4 1156.7C1054.9 1151 1057.9 1146.6 1060.4 1140.7C1062.9 1134.8 1068.2 1120.3 1070.4 1114.6C1072.7 1109 1075 1105.4 1076.4 1100.6C1077.8 1095.8 1079 1085 1080.5 1080.6C1081.9 1076.1 1084.8 1074.1 1086.5 1068.5C1088.2 1062.9 1090.8 1046.3 1092.5 1040.5C1094.2 1034.6 1096.8 1030.9 1098.5 1026.4C1100.2 1021.9 1102.8 1013.4 1104.5 1008.4C1106.2 1003.3 1108.8 994.5 1110.5 990.3C1112.2 986.1 1115.1 981.2 1116.5 978.3C1117.9 975.3 1119.3 970.3 1120.6 969.3C1121.8 968.3 1124 971 1125.6 971.3C1127.1 971.6 1130.2 970.6 1131.6 971.3C1133 972 1134.3 972.8 1135.6 976.3C1136.9 979.8 1139.1 989.6 1140.6 996.3C1142.1 1003.1 1144.9 1015.4 1146.6 1024.4C1148.3 1033.4 1150.9 1048.4 1152.6 1060.5C1154.3 1072.6 1157.2 1099.4 1158.6 1110.6C1160.1 1121.9 1161.1 1129.6 1162.7 1140.7C1164.2 1151.8 1168 1176.1 1169.7 1190.1C1171.4 1204 1173.1 1224.8 1174.7 1240.2C1176.2 1255.6 1178.7 1283.5 1180.7 1300.4C1182.7 1317.2 1185.9 1345.1 1188.7 1360.5C1191.5 1375.9 1197.7 1399.4 1200.8 1410.6C1203.8 1421.9 1208.3 1434.5 1210.8 1440.7C1213.3 1446.9 1216.8 1452.5 1218.8 1454.7C1220.8 1457 1223.5 1455.3 1224.8 1456.7C1226.1 1458.2 1227.2 1463.9 1227.8 1464.9C1228.4 1465.8 1228.9 1463.9 1229.3 1463.4C1229.7 1463 1230.4 1461.9 1230.8 1461.5C1231.2 1461 1231.9 1460.4 1232.3 1460.2C1232.7 1460.1 1233.4 1460.2 1233.8 1460.5C1234.2 1460.7 1234.9 1461.5 1235.3 1462C1235.7 1462.5 1236.4 1463.5 1236.8 1464C1237.2 1464.4 1237.9 1464.9 1238.3 1465C1238.7 1465.1 1239.4 1464.9 1239.8 1464.6C1240.2 1464.4 1240.9 1463.5 1241.3 1463C1241.7 1462.6 1242.4 1461.6 1242.8 1461.2C1243.2 1460.8 1243.9 1460.3 1244.3 1460.2C1244.7 1460.1 1245.4 1460.4 1245.8 1460.7C1246.2 1461 1246.9 1461.9 1247.3 1462.4C1247.7 1462.8 1248.4 1463.8 1248.8 1464.1C1249.2 1464.4 1249.9 1464.8 1250.3 1464.7C1250.7 1464.7 1251.4 1464.1 1251.8 1463.6C1252.2 1463.1 1252.9 1461.9 1253.3 1461.3C1253.7 1460.7 1254.4 1459.5 1254.8 1459.1C1255.2 1458.7 1255.9 1458.3 1256.3 1458.4C1256.7 1458.4 1257.4 1459.1 1257.8 1459.6C1258.2 1460.1 1258.9 1461.4 1259.3 1462C1259.7 1462.6 1260.4 1463.7 1260.8 1464C1261.2 1464.3 1261.9 1464.5 1262.3 1464.3C1262.7 1464.2 1263.4 1463.4 1263.8 1462.9C1264.2 1462.4 1264.9 1461.3 1265.3 1460.9C1265.7 1460.4 1266.4 1459.8 1266.8 1459.7C1267.2 1459.7 1267.9 1460 1268.3 1460.3C1268.7 1460.7 1269.4 1461.7 1269.8 1462.2C1270.2 1462.8 1270.9 1463.8 1271.3 1464.3C1271.7 1464.8 1272.4 1465.3 1272.8 1465.5C1273.2 1465.7 1273.9 1465.6 1274.3 1465.5C1274.7 1465.4 1275.4 1465 1275.8 1464.8C1276.2 1464.6 1276.9 1464.2 1277.3 1464.1C1277.7 1464 1278.4 1464 1278.8 1464C1279.2 1464.1 1279.9 1464.4 1280.3 1464.6C1280.7 1464.7 1281.4 1465.2 1281.8 1465.4C1282.2 1465.6 1282.9 1466 1283.3 1466.2C1283.7 1466.3 1284.4 1466.5 1284.8 1466.4C1285.2 1466.4 1285.9 1466.3 1286.3 1466.1C1286.7 1466 1287.4 1465.5 1287.8 1465.3C1288.2 1465 1288.9 1464.5 1289.3 1464.3C1289.7 1464.1 1290.4 1463.8 1290.8 1463.7C1291.2 1463.7 1291.9 1463.8 1292.3 1463.9C1292.7 1464 1293.4 1464.5 1293.8 1464.7C1294.2 1464.9 1294.9 1465.4 1295.3 1465.5C1295.7 1465.7 1296.4 1465.8 1296.8 1465.7C1297.2 1465.5 1297.9 1465.1 1298.3 1464.7C1298.7 1464.4 1299.4 1463.5 1299.8 1463.1C1300.2 1462.7 1300.9 1462 1301.3 1461.8C1301.7 1461.6 1302.4 1461.5 1302.8 1461.6C1303.2 1461.7 1303.9 1462.3 1304.3 1462.7C1304.7 1463 1305.4 1463.9 1305.8 1464.2C1306.2 1464.6 1306.9 1465.2 1307.3 1465.3C1307.7 1465.5 1308.4 1465.4 1308.8 1465.2C1309.2 1465 1309.9 1464.4 1310.3 1464C1310.7 1463.7 1311.4 1462.9 1311.8 1462.5C1312.2 1462.2 1312.9 1461.7 1313.3 1461.6C1313.7 1461.5 1314.4 1461.5 1314.8 1461.6C1315.2 1461.8 1315.9 1462.4 1316.3 1462.8C1316.7 1463.1 1317.4 1463.9 1317.8 1464.2C1318.2 1464.5 1318.9 1465 1319.3 1464.9C1319.7 1464.9 1320.4 1464.5 1320.8 1464.1C1321.2 1463.6 1321.9 1462.4 1322.3 1461.6C1322.7 1460.9 1323.4 1459.4 1323.8 1458.7C1324.2 1458 1324.9 1457.1 1325.3 1456.9C1325.7 1456.7 1326.4 1456.9 1326.8 1457.2C1327.2 1457.6 1327.9 1458.9 1328.3 1459.5C1328.7 1460.2 1329.4 1461.6 1329.8 1462.1C1330.2 1462.5 1330.9 1462.9 1331.3 1462.7C1331.7 1462.4 1332.4 1461.2 1332.8 1460.2C1333.2 1459.2 1333.9 1456.8 1334.3 1455.6C1334.7 1454.4 1335.4 1452.3 1335.8 1451.6C1336.2 1450.9 1336.9 1450.4 1337.3 1450.6C1337.7 1450.9 1338.4 1452.3 1338.8 1453.4C1339.2 1454.4 1339.9 1456.8 1340.3 1457.9C1340.7 1459 1341.4 1460.8 1341.8 1461.3C1342.2 1461.8 1342.9 1461.8 1343.3 1461.4C1343.7 1461 1344.4 1459.3 1344.8 1458.4C1345.2 1457.4 1345.9 1455.3 1346.3 1454.5C1346.7 1453.7 1347.4 1452.6 1347.8 1452.6C1348.2 1452.5 1348.9 1453.2 1349.3 1453.9C1349.7 1454.6 1350.4 1456.6 1350.8 1457.6C1351.2 1458.7 1351.9 1460.7 1352.3 1461.6C1352.7 1462.4 1353.4 1463.4 1353.8 1463.6C1354.2 1463.8 1354.9 1463.5 1355.3 1463.1C1355.7 1462.8 1356.4 1461.6 1356.8 1461C1357.2 1460.3 1357.9 1459.1 1358.3 1458.7C1358.7 1458.2 1359.4 1457.6 1359.8 1457.6C1360.2 1457.6 1360.9 1458 1361.3 1458.4C1361.7 1458.9 1362.4 1460 1362.8 1460.7C1363.2 1461.3 1363.9 1462.5 1364.3 1462.9C1364.7 1463.3 1365.6 1463.5 1365.8 1463.6" stroke="#ff8000"/><path d="M577.7 1468.3C577.7 1466.2 577.5 1454.6 577.7 1452.9C577.9 1451.3 578.8 1455.7 579.2 1456.8C579.6 1457.9 580.3 1459.8 580.7 1460.6C581.1 1461.3 581.8 1462 582.2 1461.9C582.6 1461.7 583.3 1460.6 583.7 1459.6C584.1 1458.6 584.8 1456 585.2 1454.6C585.6 1453.2 586.3 1450.5 586.7 1449.5C587.1 1448.5 587.8 1447.3 588.2 1447.2C588.6 1447.2 589.3 1448.1 589.7 1449.1C590.1 1450 590.8 1452.6 591.2 1454C591.6 1455.3 592.3 1457.8 592.7 1458.6C593.1 1459.4 593.8 1460 594.2 1459.6C594.6 1459.3 595.3 1457.4 595.7 1455.9C596.1 1454.5 596.8 1451.1 597.2 1449.5C597.6 1447.9 598.3 1445.1 598.7 1444.3C599.1 1443.4 599.8 1443.1 600.2 1443.6C600.6 1444.1 601.3 1446.4 601.7 1447.9C602.1 1449.4 602.8 1452.9 603.2 1454.5C603.6 1456.1 604.3 1458.7 604.7 1459.5C605.1 1460.3 605.8 1460.7 606.2 1460.4C606.6 1460.1 607.3 1458.4 607.7 1457.5C608.1 1456.5 608.8 1454.3 609.2 1453.5C609.6 1452.7 610.3 1451.6 610.7 1451.5C611.1 1451.4 611.8 1452.1 612.2 1452.8C612.6 1453.6 613.3 1455.5 613.7 1456.7C614.1 1457.8 614.8 1459.9 615.2 1460.9C615.6 1461.8 616.3 1463.1 616.7 1463.5C617.1 1463.9 617.8 1463.8 618.2 1463.6C618.6 1463.4 619.3 1462.5 619.7 1461.9C620.1 1461.3 620.8 1460.1 621.2 1459.6C621.6 1459.1 622.3 1458.3 622.7 1458.1C623.1 1458 623.8 1458.1 624.2 1458.3C624.6 1458.6 625.3 1459.5 625.7 1460.1C626.1 1460.7 626.8 1461.9 627.2 1462.4C627.6 1462.9 628.3 1463.7 628.7 1463.8C629.1 1463.9 629.8 1463.6 630.2 1463.1C630.6 1462.6 631.3 1461.2 631.7 1460.3C632.1 1459.4 632.8 1457.6 633.2 1456.8C633.6 1456 634.3 1454.9 634.7 1454.7C635.1 1454.4 635.8 1454.7 636.2 1455.2C636.6 1455.7 637.3 1457.2 637.7 1458C638.1 1458.9 638.8 1460.7 639.2 1461.4C639.6 1462.1 640.3 1463 640.7 1463.1C641.1 1463.2 641.8 1462.7 642.2 1462.2C642.6 1461.6 643.3 1460.1 643.7 1459.4C644.1 1458.6 644.8 1457.2 645.2 1456.7C645.6 1456.2 646.3 1455.7 646.7 1455.8C647.1 1455.9 647.8 1456.7 648.2 1457.3C648.6 1457.9 649.3 1459.4 649.7 1460.2C650.1 1461 650.8 1462.4 651.2 1462.9C651.6 1463.5 652.3 1464 652.7 1464C653.1 1463.9 653.8 1463.3 654.2 1462.7C654.6 1462.1 655.3 1460.7 655.7 1459.8C656.1 1458.9 656.8 1457.3 657.2 1456.6C657.6 1455.9 658.3 1455 658.7 1454.8C659.1 1454.6 659.8 1454.9 660.2 1455.4C660.6 1455.9 661.3 1457.3 661.7 1458.1C662.1 1458.9 662.8 1460.5 663.2 1460.9C663.6 1461.4 664.3 1461.8 664.7 1461.4C665.1 1461.1 665.8 1459.5 666.2 1458.1C666.6 1456.8 667.3 1453.6 667.7 1451.8C668.1 1450.1 668.8 1446.9 669.2 1445.7C669.6 1444.5 670.3 1443.2 670.7 1443.3C671.1 1443.3 671.8 1444.8 672.2 1446.1C672.6 1447.3 673.3 1450.6 673.7 1452.2C674.1 1453.8 674.8 1456.7 675.2 1457.5C675.6 1458.4 676.3 1458.7 676.7 1458.2C677.1 1457.6 677.8 1455.2 678.2 1453.6C678.6 1451.9 679.3 1448.2 679.7 1446.6C680.1 1444.9 680.8 1442.4 681.2 1441.7C681.6 1441.1 682.3 1441.3 682.7 1442.2C683.1 1443 683.8 1445.8 684.2 1447.6C684.6 1449.3 685.3 1453 685.7 1454.7C686.1 1456.4 686.8 1458.8 687.2 1459.5C687.6 1460.2 688.3 1460.2 688.7 1459.8C689.1 1459.3 689.8 1457.3 690.2 1456.1C690.6 1455 691.3 1452.5 691.7 1451.5C692.1 1450.4 692.8 1449.1 693.2 1448.8C693.6 1448.6 694.3 1449.1 694.7 1449.9C695.1 1450.6 695.8 1452.7 696.2 1453.9C696.6 1455.2 697.3 1457.6 697.7 1458.7C698.1 1459.8 698.8 1461.3 699.2 1461.6C699.6 1461.9 700.3 1461.5 700.7 1460.9C701.1 1460.2 701.8 1458.2 702.2 1457C702.6 1455.8 703.3 1453.3 703.7 1452.3C704.1 1451.2 704.8 1449.7 705.2 1449.4C705.6 1449.2 706.3 1449.6 706.7 1450.3C707.1 1451 707.8 1453.1 708.2 1454.3C708.6 1455.5 709.3 1458 709.7 1459C710.1 1460 710.8 1461.3 711.2 1461.5C711.6 1461.7 712.3 1461 712.7 1460.3C713.1 1459.6 713.8 1457.6 714.2 1456.6C714.6 1455.6 715.3 1453.6 715.7 1453C716.1 1452.3 716.8 1451.8 717.2 1452C717.6 1452.2 718.3 1453.4 718.7 1454.4C719.1 1455.3 719.8 1457.5 720.2 1458.6C720.6 1459.7 721.3 1461.6 721.7 1462.3C722.1 1463.1 722.8 1463.8 723.2 1463.9C723.6 1464.1 724.3 1463.7 724.7 1463.3C725.1 1463 725.8 1462.1 726.2 1461.8C726.6 1461.4 727.3 1460.8 727.7 1460.6C728.1 1460.4 728.8 1460.5 729.2 1460.6C729.6 1460.8 730.3 1461.4 730.7 1461.8C731.1 1462.2 731.8 1463 732.2 1463.5C732.6 1463.9 733.3 1464.6 733.7 1464.8C734.1 1465 734.8 1465.2 735.2 1465.1C735.6 1465 736.3 1464.4 736.7 1463.8C737.1 1463.3 737.8 1462 738.2 1461.2C738.6 1460.4 739.3 1458.8 739.7 1458.1C740.1 1457.4 740.8 1456.5 741.2 1456.3C741.6 1456.1 742.3 1456.3 742.7 1456.7C743.1 1457.1 743.8 1458.5 744.2 1459.2C744.6 1459.8 745.3 1461.3 745.7 1461.6C746.1 1462 746.8 1462.2 747.2 1461.7C747.6 1461.3 748.3 1459.6 748.7 1458.4C749.1 1457.2 749.8 1454.3 750.2 1452.9C750.6 1451.5 751.3 1449 751.7 1448.2C752.1 1447.4 752.8 1446.9 753.2 1447.3C753.6 1447.6 754.3 1449.4 754.7 1450.6C755.1 1451.8 755.8 1454.7 756.2 1456C756.6 1457.3 757.3 1459.5 757.7 1460C758.1 1460.6 758.8 1460.7 759.2 1460.1C759.6 1459.6 760.3 1457.6 760.7 1456.4C761.1 1455.1 761.8 1452.4 762.2 1451.2C762.6 1450.1 763.3 1448.4 763.7 1448C764.1 1447.6 764.8 1447.9 765.2 1448.6C765.6 1449.2 766.3 1451.4 766.7 1452.7C767.1 1453.9 767.8 1456.6 768.2 1457.8C768.6 1458.9 769.3 1460.6 769.7 1460.9C770.1 1461.3 770.8 1461 771.2 1460.3C771.6 1459.6 772.3 1457.4 772.7 1456C773.1 1454.6 773.8 1451.7 774.2 1450.4C774.6 1449.1 775.3 1447.2 775.7 1446.8C776.1 1446.3 776.8 1446.5 777.2 1447.1C777.6 1447.8 778.3 1450 778.7 1451.3C779.1 1452.7 779.8 1455.6 780.2 1456.7C780.6 1457.9 781.3 1459.5 781.7 1459.7C782.1 1459.9 782.8 1459 783.2 1457.9C783.6 1456.9 784.3 1453.9 784.7 1452.2C785.1 1450.5 785.8 1447.1 786.2 1445.8C786.6 1444.5 787.3 1442.9 787.7 1442.9C788.1 1442.8 788.8 1444 789.2 1445.2C789.6 1446.4 790.3 1449.6 790.7 1451.3C791.1 1453.1 791.8 1456.3 792.2 1457.6C792.6 1458.9 793.3 1460.2 793.7 1460.4C794.1 1460.6 794.8 1459.6 795.2 1458.8C795.6 1458 796.3 1455.8 796.7 1454.8C797.1 1453.8 797.8 1452.1 798.2 1451.7C798.6 1451.2 799.3 1451.2 799.7 1451.7C800.1 1452.1 800.8 1453.8 801.2 1454.8C801.6 1455.9 802.3 1458.2 802.7 1459.3C803.1 1460.4 803.8 1462.2 804.2 1462.8C804.6 1463.5 805.3 1464 805.7 1464.1C806.1 1464.1 806.8 1463.6 807.2 1463.2C807.6 1462.8 808.3 1461.8 808.7 1461.3C809.1 1460.9 809.8 1460.1 810.2 1459.8C810.6 1459.5 811.3 1459.4 811.7 1459.5C812.1 1459.6 812.8 1460.1 813.2 1460.5C813.6 1460.9 814.3 1461.9 814.7 1462.4C815.1 1462.9 815.8 1463.8 816.2 1464C816.6 1464.3 817.3 1464.4 817.7 1464.2C818.1 1464 818.8 1463.1 819.2 1462.4C819.6 1461.7 820.3 1460 820.7 1459.1C821.1 1458.3 821.8 1456.7 822.2 1456.2C822.6 1455.6 823.3 1455.1 823.7 1455.2C824.1 1455.3 824.8 1456.2 825.2 1456.9C825.6 1457.5 826.3 1459.2 826.7 1460C827.1 1460.8 827.8 1462.2 828.2 1462.5C828.6 1462.9 829.3 1463 829.7 1462.6C830.1 1462.3 830.8 1461 831.2 1460.1C831.6 1459.3 832.3 1457.5 832.7 1456.7C833.1 1455.9 833.8 1454.7 834.2 1454.4C834.6 1454.2 835.3 1454.4 835.7 1454.8C836.1 1455.3 836.8 1456.7 837.2 1457.6C837.6 1458.5 838.3 1460.3 838.7 1461.1C839.1 1461.9 839.8 1463 840.2 1463.3C840.6 1463.5 841.3 1463.4 841.7 1463C842.1 1462.6 842.8 1461.3 843.2 1460.5C843.6 1459.6 844.3 1457.9 844.7 1457.1C845.1 1456.2 845.8 1455 846.2 1454.6C846.6 1454.3 847.3 1454.2 847.7 1454.5C848.1 1454.8 848.8 1456 849.2 1456.8C849.6 1457.5 850.3 1459.3 850.7 1460C851.1 1460.7 851.8 1461.8 852.2 1461.9C852.6 1461.9 853.3 1461.3 853.7 1460.4C854.1 1459.5 854.8 1457 855.2 1455.4C855.6 1453.9 856.3 1450.7 856.7 1449.3C857.1 1447.8 857.8 1445.7 858.2 1445.3C858.6 1444.8 859.3 1445 859.7 1445.8C860.1 1446.5 860.8 1448.9 861.2 1450.4C861.6 1451.8 862.3 1454.9 862.7 1456.1C863.1 1457.3 863.8 1458.8 864.2 1458.8C864.6 1458.8 865.3 1457.4 865.7 1456.1C866.1 1454.8 866.8 1451.2 867.2 1449.4C867.6 1447.5 868.3 1443.9 868.7 1442.6C869.1 1441.3 869.8 1440.1 870.2 1440.2C870.6 1440.3 871.3 1442.1 871.7 1443.6C872.1 1445.1 872.8 1448.8 873.2 1450.7C873.6 1452.6 874.3 1456 874.7 1457.3C875.1 1458.5 875.8 1459.7 876.2 1459.7C876.6 1459.7 877.3 1458.3 877.7 1457.3C878.1 1456.3 878.8 1453.6 879.2 1452.4C879.6 1451.1 880.3 1449 880.7 1448.4C881.1 1447.8 881.8 1447.5 882.2 1447.9C882.6 1448.3 883.3 1450.1 883.7 1451.3C884.1 1452.5 884.8 1455.1 885.2 1456.4C885.6 1457.7 886.3 1459.9 886.7 1460.6C887.1 1461.3 887.8 1461.8 888.2 1461.5C888.6 1461.3 889.3 1459.9 889.7 1458.8C890.1 1457.8 890.8 1455.3 891.2 1454.1C891.6 1452.8 892.3 1450.6 892.7 1449.9C893.1 1449.2 893.8 1448.6 894.2 1448.9C894.6 1449.1 895.3 1450.5 895.7 1451.6C896.1 1452.6 896.8 1455.2 897.2 1456.4C897.6 1457.6 898.3 1459.7 898.7 1460.2C899.1 1460.8 899.8 1461 900.2 1460.5C900.6 1460.1 901.3 1458.3 901.7 1457.1C902.1 1455.9 902.8 1453.3 903.2 1452.2C903.6 1451 904.3 1449.4 904.7 1449.1C905.1 1448.7 905.8 1449.2 906.2 1449.9C906.6 1450.6 907.3 1452.8 907.7 1454.1C908.1 1455.4 908.8 1458 909.2 1459.2C909.6 1460.3 910.3 1461.9 910.7 1462.4C911.1 1462.9 911.8 1462.8 912.2 1462.6C912.6 1462.4 913.3 1461.2 913.7 1460.6C914.1 1460.1 914.8 1458.9 915.2 1458.4C915.6 1458 916.3 1457.6 916.7 1457.6C917.1 1457.6 917.8 1458.1 918.2 1458.6C918.6 1459.1 919.3 1460.2 919.7 1460.8C920.1 1461.5 920.8 1462.7 921.2 1463.2C921.6 1463.6 922.3 1464.3 922.7 1464.4C923.1 1464.4 923.8 1464.1 924.2 1463.6C924.6 1463.2 925.3 1461.8 925.7 1460.9C926.1 1459.9 926.8 1457.9 927.2 1456.9C927.6 1455.9 928.3 1454.2 928.7 1453.6C929.1 1453.1 929.8 1452.6 930.2 1452.8C930.6 1453 931.3 1454.2 931.7 1455C932.1 1455.8 932.8 1457.8 933.2 1458.6C933.6 1459.3 934.3 1460.4 934.7 1460.3C935.1 1460.2 935.8 1459 936.2 1457.7C936.6 1456.4 937.3 1452.9 937.7 1450.9C938.1 1448.8 938.8 1444.8 939.2 1443.1C939.6 1441.4 940.3 1439.2 940.7 1438.9C941.1 1438.6 941.8 1439.7 942.2 1440.9C942.6 1442.1 943.3 1445.7 943.7 1447.7C944.1 1449.6 944.8 1453.4 945.2 1454.8C945.6 1456.2 946.3 1457.7 946.7 1457.6C947.1 1457.5 947.8 1455.6 948.2 1454.1C948.6 1452.6 949.3 1448.7 949.7 1446.8C950.1 1444.9 950.8 1441.4 951.2 1440.3C951.6 1439.2 952.3 1438.4 952.7 1438.7C953.1 1439.1 953.8 1441.4 954.2 1443C954.6 1444.7 955.3 1448.6 955.7 1450.6C956.1 1452.5 956.8 1455.8 957.2 1457C957.6 1458.1 958.3 1458.9 958.7 1458.6C959.1 1458.3 959.8 1456.3 960.2 1454.8C960.6 1453.2 961.3 1449.6 961.7 1447.7C962.1 1445.9 962.8 1442.7 963.2 1441.6C963.6 1440.5 964.3 1439.7 964.7 1440C965.1 1440.3 965.8 1442.3 966.2 1443.9C966.6 1445.4 967.3 1449.1 967.7 1450.9C968.1 1452.6 968.8 1455.7 969.2 1456.6C969.6 1457.4 970.3 1457.8 970.7 1457C971.1 1456.3 971.8 1453.4 972.2 1451.4C972.6 1449.4 973.3 1444.9 973.7 1442.8C974.1 1440.7 974.8 1437.3 975.2 1436.4C975.6 1435.4 976.3 1435.3 976.7 1436.2C977.1 1437 977.8 1440.3 978.2 1442.4C978.6 1444.5 979.3 1449.1 979.7 1451.1C980.1 1453.2 980.8 1456.3 981.2 1457.1C981.6 1458 982.3 1458 982.7 1457.3C983.1 1456.7 983.4 1455 984.2 1452.7C985 1450.3 986.8 1442.7 988.2 1440.7C989.6 1438.7 992.6 1444.3 994.2 1438.7C995.9 1433.1 998.3 1411.5 1000.3 1400.6C1002.2 1389.7 1006 1371.7 1008.3 1360.5C1010.5 1349.3 1014 1332.2 1016.3 1320.4C1018.5 1308.6 1021.5 1290.3 1024.3 1276.3C1027.1 1262.3 1033.3 1232.2 1036.3 1220.2C1039.4 1208.1 1043.3 1199 1046.4 1190.1C1049.5 1181.2 1056.4 1163.1 1058.4 1156.7C1060.4 1150.4 1059.3 1151.4 1060.4 1144.7C1061.5 1138 1064.5 1117.6 1066.4 1108.6C1068.4 1099.6 1072.8 1087.3 1074.4 1080.6C1076.1 1073.8 1077 1066.1 1078.4 1060.5C1079.8 1054.9 1082.8 1048 1084.5 1040.5C1086.1 1032.9 1088.8 1013.7 1090.5 1006.4C1092.2 999.1 1094.8 995.6 1096.5 988.3C1098.2 981 1100.8 961.3 1102.5 954.2C1104.2 947.2 1107.1 942.7 1108.5 938.2C1109.9 933.7 1111.1 927.8 1112.5 922.2C1113.9 916.5 1116.9 901.6 1118.5 898.1C1120.2 894.6 1122.7 898.4 1124.6 897.1C1126.4 895.8 1130.2 889.6 1131.6 889.1C1133 888.5 1133.7 891 1134.6 893.1C1135.4 895.2 1136.5 900.6 1137.6 904.1C1138.7 907.6 1141.3 913.9 1142.6 918.1C1143.9 922.4 1145.5 928.3 1146.6 934.2C1147.7 940.1 1149.2 951 1150.6 960.3C1152 969.5 1155.2 990.2 1156.6 1000.4C1158 1010.5 1159.5 1023.4 1160.7 1032.4C1161.8 1041.4 1163.5 1053.6 1164.7 1064.5C1165.8 1075.5 1167.5 1098.6 1168.7 1110.6C1169.8 1122.7 1171.4 1139.6 1172.7 1150.7C1173.9 1161.8 1176.6 1180.4 1177.7 1190.1C1178.8 1199.8 1179.4 1207.5 1180.7 1220.2C1182 1232.8 1185 1263.5 1186.7 1280.3C1188.4 1297.1 1190.8 1325 1192.7 1340.5C1194.7 1355.9 1198.5 1377.9 1200.8 1390.6C1203 1403.2 1206.5 1421.4 1208.8 1430.7C1211 1439.9 1215.1 1451.8 1216.8 1456.7C1218.5 1461.7 1219.8 1464.5 1220.8 1465.8C1221.8 1467 1223.2 1465.9 1223.8 1465.8C1224.4 1465.7 1224.9 1465.3 1225.3 1465.2C1225.7 1465 1226.4 1464.8 1226.8 1464.7C1227.2 1464.7 1227.9 1464.6 1228.3 1464.7C1228.7 1464.7 1229.4 1464.9 1229.8 1465.1C1230.2 1465.2 1230.9 1465.5 1231.3 1465.6C1231.7 1465.8 1232.4 1465.9 1232.8 1465.9C1233.2 1465.9 1233.9 1465.7 1234.3 1465.4C1234.7 1465.1 1235.4 1464.4 1235.8 1464C1236.2 1463.5 1236.9 1462.6 1237.3 1462.1C1237.7 1461.6 1238.4 1460.9 1238.8 1460.6C1239.2 1460.4 1239.9 1460.2 1240.3 1460.3C1240.7 1460.4 1241.4 1460.9 1241.8 1461.3C1242.2 1461.7 1242.9 1462.6 1243.3 1463C1243.7 1463.4 1244.4 1464.1 1244.8 1464.3C1245.2 1464.5 1245.9 1464.5 1246.3 1464.3C1246.7 1464.1 1247.4 1463.3 1247.8 1462.8C1248.2 1462.2 1248.9 1461.1 1249.3 1460.5C1249.7 1460 1250.4 1459.1 1250.8 1458.8C1251.2 1458.5 1251.9 1458.4 1252.3 1458.5C1252.7 1458.7 1253.4 1459.3 1253.8 1459.8C1254.2 1460.3 1254.9 1461.4 1255.3 1462C1255.7 1462.6 1256.4 1463.6 1256.8 1463.9C1257.2 1464.3 1257.9 1464.7 1258.3 1464.7C1258.7 1464.6 1259.4 1464.2 1259.8 1463.9C1260.2 1463.5 1260.9 1462.5 1261.3 1462C1261.7 1461.5 1262.4 1460.5 1262.8 1460.1C1263.2 1459.6 1263.9 1459.1 1264.3 1459C1264.7 1458.9 1265.4 1459.1 1265.8 1459.4C1266.2 1459.7 1266.9 1460.5 1267.3 1461C1267.7 1461.5 1268.4 1462.5 1268.8 1463C1269.2 1463.4 1269.9 1464.1 1270.3 1464.2C1270.7 1464.3 1271.4 1464.1 1271.8 1463.8C1272.2 1463.4 1272.9 1462.4 1273.3 1461.7C1273.7 1461 1274.4 1459.6 1274.8 1458.9C1275.2 1458.2 1275.9 1457.1 1276.3 1456.7C1276.7 1456.4 1277.4 1456.2 1277.8 1456.4C1278.2 1456.5 1278.9 1457.4 1279.3 1458C1279.7 1458.6 1280.4 1460 1280.8 1460.7C1281.2 1461.4 1281.9 1462.6 1282.3 1463C1282.7 1463.4 1283.4 1463.7 1283.8 1463.5C1284.2 1463.4 1284.9 1462.6 1285.3 1462.1C1285.7 1461.5 1286.4 1460.2 1286.8 1459.5C1287.2 1458.9 1287.9 1457.8 1288.3 1457.4C1288.7 1457.1 1289.4 1456.9 1289.8 1457C1290.2 1457.2 1290.9 1458 1291.3 1458.5C1291.7 1459.1 1292.4 1460.5 1292.8 1461.2C1293.2 1461.9 1293.9 1463.1 1294.3 1463.6C1294.7 1464.1 1295.4 1464.6 1295.8 1464.7C1296.2 1464.9 1296.9 1464.7 1297.3 1464.5C1297.7 1464.2 1298.4 1463.6 1298.8 1463.2C1299.2 1462.9 1299.9 1462.2 1300.3 1461.8C1300.7 1461.4 1301.4 1460.9 1301.8 1460.7C1302.2 1460.6 1302.9 1460.6 1303.3 1460.8C1303.7 1461 1304.4 1461.5 1304.8 1461.9C1305.2 1462.3 1305.9 1463.1 1306.3 1463.5C1306.7 1463.9 1307.4 1464.5 1307.8 1464.7C1308.2 1464.8 1308.9 1464.8 1309.3 1464.5C1309.7 1464.3 1310.4 1463.5 1310.8 1462.9C1311.2 1462.3 1311.9 1460.9 1312.3 1460.2C1312.7 1459.4 1313.4 1458.1 1313.8 1457.5C1314.2 1456.9 1314.9 1456.2 1315.3 1456.1C1315.7 1456 1316.4 1456.4 1316.8 1456.8C1317.2 1457.2 1317.9 1458.5 1318.3 1459.1C1318.7 1459.8 1319.4 1461.2 1319.8 1461.6C1320.2 1462.1 1320.9 1462.6 1321.3 1462.5C1321.7 1462.4 1322.4 1461.5 1322.8 1460.7C1323.2 1459.8 1323.9 1457.8 1324.3 1456.7C1324.7 1455.6 1325.4 1453.3 1325.8 1452.6C1326.2 1451.8 1326.9 1451.1 1327.3 1451.2C1327.7 1451.3 1328.4 1452.5 1328.8 1453.3C1329.2 1454.2 1329.9 1456.2 1330.3 1457.3C1330.7 1458.5 1331.4 1460.4 1331.8 1461.3C1332.2 1462.2 1332.9 1463.2 1333.3 1463.5C1333.7 1463.9 1334.4 1463.8 1334.8 1463.6C1335.2 1463.4 1335.9 1462.6 1336.3 1462.2C1336.7 1461.8 1337.4 1461 1337.8 1460.7C1338.2 1460.4 1338.9 1460 1339.3 1460C1339.7 1459.9 1340.4 1460.2 1340.8 1460.4C1341.2 1460.7 1341.9 1461.4 1342.3 1461.9C1342.7 1462.3 1343.4 1463.2 1343.8 1463.6C1344.2 1464 1344.9 1464.7 1345.3 1464.9C1345.7 1465.1 1346.4 1465.2 1346.8 1465.1C1347.2 1464.9 1347.9 1464.4 1348.3 1463.8C1348.7 1463.3 1349.4 1462.1 1349.8 1461.3C1350.2 1460.6 1350.9 1459.1 1351.3 1458.4C1351.7 1457.7 1352.4 1456.7 1352.8 1456.4C1353.2 1456.1 1353.9 1456 1354.3 1456.2C1354.7 1456.5 1355.4 1457.5 1355.8 1458.1C1356.2 1458.7 1356.9 1460.1 1357.3 1460.7C1357.7 1461.2 1358.4 1462 1358.8 1461.9C1359.2 1461.9 1359.9 1461.1 1360.3 1460.3C1360.7 1459.4 1361.4 1457.1 1361.8 1455.6C1362.2 1454.2 1362.9 1451.3 1363.3 1449.9C1363.7 1448.6 1364.4 1446.5 1364.8 1446C1365.2 1445.4 1366.1 1445.9 1366.3 1445.9" stroke="#9400ff"/></g><g stroke="#000" fill="none"><path stroke-width="6.8" d="M562.3 819.5H1369.8"/><path stroke-width="6.8" d="M1366.4 816.1V1471.7"/></g><g font-family='"Liberation Sans", sans-serif' font-weight="bold" font-size="36" text-anchor="middle"><text transform="translate(565.7 1517.5) scale(1 1.04)">0.2</text><text transform="translate(699.1 1517.5) scale(1 1.04)">0.3</text><text transform="translate(832.6 1517.5) scale(1 1.04)">0.4</text><text transform="translate(966 1517.5) scale(1 1.04)">0.5</text><text transform="translate(1099.5 1517.5) scale(1 1.04)">0.6</text><text transform="translate(1232.9 1517.5) scale(1 1.04)">0.7</text><text transform="translate(1366.4 1517.5) scale(1 1.04)">0.8</text></g><g font-family='"Liberation Sans", sans-serif' font-weight="bold" font-size="36" text-anchor="end"><text transform="translate(543.5 1478.5) scale(1 1.04)">0.0</text><text transform="translate(543.5 1360.5) scale(1 1.04)">0.2</text><text transform="translate(543.5 1242.6) scale(1 1.04)">0.4</text><text transform="translate(543.5 1124.6) scale(1 1.04)">0.6</text><text transform="translate(543.5 1006.6) scale(1 1.04)">0.8</text><text transform="translate(543.5 888.7) scale(1 1.04)">1.0</text></g><text transform="translate(966.3 1571.4) scale(1 1.04)" font-family='"Liberation Sans", sans-serif' font-weight="bold" font-size="55" text-anchor="middle">Potential vs Ag/AgCl (V)</text><text transform="translate(474.3 1125.8) rotate(-90) scale(1 1.04)" font-family='"Liberation Sans", sans-serif' font-weight="bold" font-size="55" text-anchor="middle">Current (<tspan dx="0.8" class="mu" letter-spacing="1">μ</tspan>A)</text><text x="589.5" y="872.3" font-family='"Liberation Serif", serif' font-weight="bold" font-size="56" letter-spacing="1.2">(c)</text><rect x="602.6" y="953.8" width="296.7" height="378.4" fill="#fff" stroke="#000" stroke-width="1.6"/><path d="M608.6 981.6H681.8" stroke="#000000" stroke-width="7" stroke-linecap="round" fill="none"/><text transform="translate(691 993.5) scale(1 1.04)" font-family='"Liberation Sans", sans-serif' font-weight="bold" font-size="33.4">0.05 <tspan class="mu" letter-spacing="1.2">μ</tspan>mol L<tspan dy="-15" font-size="20.7">-1</tspan></text><path d="M608.6 1029H681.8" stroke="#ff0000" stroke-width="7" stroke-linecap="round" fill="none"/><text transform="translate(691 1040.9) scale(1 1.04)" font-family='"Liberation Sans", sans-serif' font-weight="bold" font-size="33.4">0.1 <tspan class="mu" letter-spacing="1.2">μ</tspan>mol L<tspan dy="-15" font-size="20.7">-1</tspan></text><path d="M608.6 1075.4H681.8" stroke="#00ff00" stroke-width="7" stroke-linecap="round" fill="none"/><text transform="translate(691 1087.3) scale(1 1.04)" font-family='"Liberation Sans", sans-serif' font-weight="bold" font-size="33.4">1 <tspan class="mu" letter-spacing="1.2">μ</tspan>mol L<tspan dy="-15" font-size="20.7">-1</tspan></text><path d="M608.6 1121.7H681.8" stroke="#0000ff" stroke-width="7" stroke-linecap="round" fill="none"/><text transform="translate(691 1133.6) scale(1 1.04)" font-family='"Liberation Sans", sans-serif' font-weight="bold" font-size="33.4">2 <tspan class="mu" letter-spacing="1.2">μ</tspan>mol L<tspan dy="-15" font-size="20.7">-1</tspan></text><path d="M608.6 1168.8H681.8" stroke="#00ffff" stroke-width="7" stroke-linecap="round" fill="none"/><text transform="translate(691 1180.7) scale(1 1.04)" font-family='"Liberation Sans", sans-serif' font-weight="bold" font-size="33.4">4 <tspan class="mu" letter-spacing="1.2">μ</tspan>mol L<tspan dy="-15" font-size="20.7">-1</tspan></text><path d="M608.6 1215.7H681.8" stroke="#ff00ff" stroke-width="7" stroke-linecap="round" fill="none"/><text transform="translate(691 1227.6) scale(1 1.04)" font-family='"Liberation Sans", sans-serif' font-weight="bold" font-size="33.4">6 <tspan class="mu" letter-spacing="1.2">μ</tspan>mol L<tspan dy="-15" font-size="20.7">-1</tspan></text><path d="M608.6 1262.3H681.8" stroke="#ff8000" stroke-width="7" stroke-linecap="round" fill="none"/><text transform="translate(691 1274.2) scale(1 1.04)" font-family='"Liberation Sans", sans-serif' font-weight="bold" font-size="33.4">8 <tspan class="mu" letter-spacing="1.2">μ</tspan>mol L<tspan dy="-15" font-size="20.7">-1</tspan></text><path d="M608.6 1309.2H681.8" stroke="#9400ff" stroke-width="7" stroke-linecap="round" fill="none"/><text transform="translate(691 1321.1) scale(1 1.04)" font-family='"Liberation Sans", sans-serif' font-weight="bold" font-size="33.4">10 <tspan class="mu" letter-spacing="1.2">μ</tspan>mol L<tspan dy="-15" font-size="20.7">-1</tspan></text><g stroke="#000" stroke-width="6.8" fill="none" stroke-linecap="butt"><path d="M1510.5 818.1V1473.8"/><path d="M1507.1 1470.4H2316.2"/></g><g stroke="#000" stroke-width="6.6" fill="none"><path d="M1577.4 1470.4v12.8"/><path d="M1711.1 1470.4v12.8"/><path d="M1844.8 1470.4v12.8"/><path d="M1978.5 1470.4v12.8"/><path d="M2112.2 1470.4v12.8"/><path d="M2245.9 1470.4v12.8"/><path d="M1510.5 1470.4v6.4"/><path d="M1644.2 1470.4v6.4"/><path d="M1777.9 1470.4v6.4"/><path d="M1911.7 1470.4v6.4"/><path d="M2045.4 1470.4v6.4"/><path d="M2179.1 1470.4v6.4"/><path d="M2312.8 1470.4v6.4"/><path d="M1510.5 1470.4h-12.8"/><path d="M1510.5 1326.2h-12.8"/><path d="M1510.5 1182h-12.8"/><path d="M1510.5 1037.8h-12.8"/><path d="M1510.5 893.6h-12.8"/><path d="M1510.5 1398.3h-6.4"/><path d="M1510.5 1254.1h-6.4"/><path d="M1510.5 1109.9h-6.4"/><path d="M1510.5 965.7h-6.4"/><path d="M1510.5 821.5h-6.4"/></g><g class="tb"><rect x="1683.6" y="943.3" width="280.8" height="163.1" fill="#fff" stroke="none"/><g stroke="#d0d0d0" stroke-width="1.2" fill="none"><path d="M1683.6 961.4H1964.4"/><path d="M1683.6 979.5H1964.4"/><path d="M1683.6 997.7H1964.4"/><path d="M1683.6 1015.8H1964.4"/><path d="M1683.6 1033.9H1964.4"/><path d="M1683.6 1052H1964.4"/><path d="M1683.6 1070.2H1964.4"/><path d="M1683.6 1088.3H1964.4"/><path d="M1846.3 943.3V1106.4"/></g><rect x="1683.6" y="943.3" width="280.8" height="163.1" fill="none" stroke="#9a9a9a" stroke-width="1.4"/><text x="1687.8" y="956.7">Equation</text><text x="1905.3" y="956.7" text-anchor="middle">y = a + b*x</text><text x="1687.8" y="974.8">Plot</text><text x="1905.3" y="974.8" text-anchor="middle">B</text><text x="1687.8" y="992.9">Weight</text><text x="1905.3" y="992.9" text-anchor="middle">Instrumental</text><text x="1687.8" y="1011.1">Intercept</text><text x="1905.3" y="1011.1" text-anchor="middle">0.30604 ± 0.01</text><text x="1687.8" y="1029.2">Slope</text><text x="1905.3" y="1029.2" text-anchor="middle">0.06758 ± 0.00226</text><text x="1687.8" y="1047.3">Residual Sum of Squares</text><text x="1905.3" y="1047.3" text-anchor="middle">2.20904</text><text x="1687.8" y="1065.4">Pearson&#39;s r</text><text x="1905.3" y="1065.4" text-anchor="middle">0.99666</text><text x="1687.8" y="1083.6">R-Square (COD)</text><text x="1905.3" y="1083.6" text-anchor="middle">0.99334</text><text x="1687.8" y="1101.7">Adj. R-Square</text><text x="1905.3" y="1101.7" text-anchor="middle">0.99223</text></g><g stroke="#ff8000" stroke-width="5" stroke-linecap="round" fill="none"><path d="M1580.4 1384.8V1435.5M1570.9 1384.8h19M1570.9 1435.5h19"/><path d="M1583.7 1374.5V1412M1574.2 1374.5h19M1574.2 1412h19"/><path d="M1644 1322.5V1366.2M1634.5 1322.5h19M1634.5 1366.2h19"/><path d="M1710.5 1245.6V1296.7M1701 1245.6h19M1701 1296.7h19"/><path d="M1845.4 1146V1210.5M1835.9 1146h19M1835.9 1210.5h19"/><path d="M1979 1073.7V1153.3M1969.5 1073.7h19M1969.5 1153.3h19"/><path d="M2112.5 984V1036.5M2103 984h19M2103 1036.5h19"/><path d="M2245.9 880.6V943.7M2236.4 880.6h19M2236.4 943.7h19"/></g><circle cx="1580.4" cy="1410.7" r="13.2" fill="url(#go)"/><circle cx="1583.7" cy="1393.2" r="13.2" fill="url(#go)"/><circle cx="1644" cy="1343.8" r="13.2" fill="url(#go)"/><circle cx="1710.5" cy="1270.4" r="13.2" fill="url(#go)"/><circle cx="1845.4" cy="1178.7" r="13.2" fill="url(#go)"/><circle cx="1979" cy="1113.2" r="13.2" fill="url(#go)"/><circle cx="2112.5" cy="1010.2" r="13.2" fill="url(#go)"/><circle cx="2245.9" cy="912" r="13.2" fill="url(#go)"/><path d="M1580.4 1391.4L2246.3 906.9" stroke="#000" stroke-width="7.6" stroke-linecap="round" fill="none"/><g stroke="#000" fill="none"><path stroke-width="6.8" d="M1507.1 821.5H2316.2"/><path stroke-width="6.8" d="M2312.8 818.1V1473.8"/></g><g font-family='"Liberation Sans", sans-serif' font-weight="bold" font-size="36" text-anchor="middle"><text transform="translate(1577.4 1519.1) scale(1 1.04)">0</text><text transform="translate(1711.1 1519.1) scale(1 1.04)">2</text><text transform="translate(1844.8 1519.1) scale(1 1.04)">4</text><text transform="translate(1978.5 1519.1) scale(1 1.04)">6</text><text transform="translate(2112.2 1519.1) scale(1 1.04)">8</text><text transform="translate(2245.9 1519.1) scale(1 1.04)">10</text></g><g font-family='"Liberation Sans", sans-serif' font-weight="bold" font-size="36" text-anchor="end"><text transform="translate(1487.5 1480.6) scale(1 1.04)">0.2</text><text transform="translate(1487.5 1336.4) scale(1 1.04)">0.4</text><text transform="translate(1487.5 1192.2) scale(1 1.04)">0.6</text><text transform="translate(1487.5 1048) scale(1 1.04)">0.8</text><text transform="translate(1487.5 903.8) scale(1 1.04)">1.0</text></g><text transform="translate(1910.8 1572.7) scale(1 1.04)" font-family='"Liberation Sans", sans-serif' font-weight="bold" font-size="49.4" text-anchor="middle">Conc. of BPA (<tspan class="mu" letter-spacing="0.6">μ</tspan>mol L<tspan dy="-22.2" font-size="30.6">-1</tspan><tspan dy="22.2">)</tspan></text><text transform="translate(1423.3 1145.3) rotate(-90) scale(1 1.04)" font-family='"Liberation Sans", sans-serif' font-weight="bold" font-size="55" text-anchor="middle">Current (<tspan dx="0.8" class="mu" letter-spacing="1">μ</tspan>A)</text><text x="1531.3" y="890.5" font-family='"Liberation Serif", serif' font-weight="bold" font-size="56" letter-spacing="1.2">(d)</text>
</svg>
</body></html>
